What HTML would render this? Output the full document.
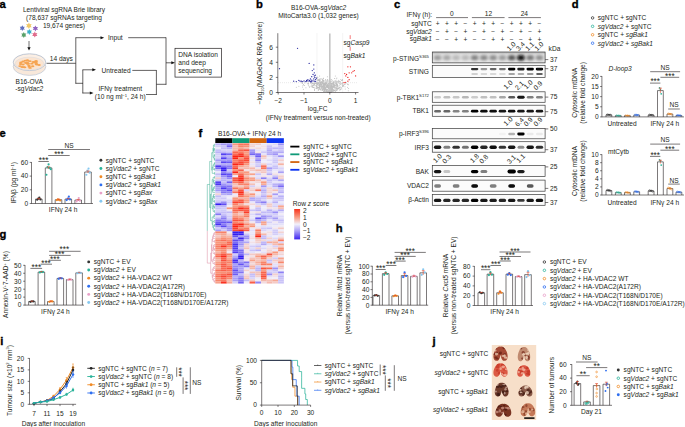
<!DOCTYPE html>
<html><head><meta charset="utf-8"><style>
html,body{margin:0;padding:0;background:#fff;width:685px;height:427px;overflow:hidden}
svg{display:block}
text{font-family:"Liberation Sans",sans-serif}
</style></head><body>
<svg width="685" height="427" viewBox="0 0 685 427" font-family="Liberation Sans, sans-serif" font-size="6.6" fill="#231f20">
<text x="-0.4" y="7.7" font-size="11.2" font-weight="bold" fill="#000" stroke="#000" stroke-width="0.35">a</text>
<text x="64" y="11.95" text-anchor="middle">Lentiviral sgRNA Brie library</text>
<text x="64" y="19.95" text-anchor="middle">(78,637 sgRNAs targeting</text>
<text x="64" y="28.25" text-anchor="middle">19,674 genes)</text>
<polygon points="22.3,25.3 23.1,26.82 24.81,26.75 23.89,28.2 24.81,29.65 23.1,29.58 22.3,31.1 21.5,29.58 19.79,29.65 20.71,28.2 19.79,26.75 21.5,26.82" fill="#6070c0"/>
<polygon points="28.9,22.5 29.78,24.18 31.67,24.1 30.66,25.7 31.67,27.3 29.78,27.22 28.9,28.9 28.02,27.22 26.13,27.3 27.14,25.7 26.13,24.1 28.02,24.18" fill="#f0c868"/>
<polygon points="35.4,25.4 36.23,26.97 38,26.9 37.05,28.4 38,29.9 36.23,29.83 35.4,31.4 34.57,29.83 32.8,29.9 33.75,28.4 32.8,26.9 34.57,26.97" fill="#9064c0"/>
<polygon points="29.3,28.9 30.12,30.47 31.9,30.4 30.95,31.9 31.9,33.4 30.12,33.33 29.3,34.9 28.48,33.33 26.7,33.4 27.65,31.9 26.7,30.4 28.48,30.47" fill="#38b0c8"/>
<polygon points="23.8,32.1 24.6,33.62 26.31,33.55 25.39,35 26.31,36.45 24.6,36.38 23.8,37.9 23,36.38 21.29,36.45 22.21,35 21.29,33.55 23,33.62" fill="#58a068"/>
<polygon points="34.8,31.6 35.62,33.17 37.4,33.1 36.45,34.6 37.4,36.1 35.62,36.03 34.8,37.6 33.97,36.03 32.2,36.1 33.15,34.6 32.2,33.1 33.97,33.17" fill="#e06c8c"/>
<line x1="29" y1="41" x2="29" y2="48" stroke="#333" stroke-width="0.7"/>
<polygon points="27.4,47.3 30.6,47.3 29,50.6" fill="#111"/>
<ellipse cx="29.5" cy="66.6" rx="16.3" ry="8.8" fill="#f8e8da" stroke="#c4ccd8" stroke-width="0.8"/>
<ellipse cx="29.5" cy="62.2" rx="16.3" ry="8.4" fill="#fcefe4" stroke="#b8c2d0" stroke-width="0.9"/>
<ellipse cx="29.5" cy="63.6" rx="14.4" ry="6.5" fill="#fbe4d0" stroke="#d4dae4" stroke-width="0.5"/>
<ellipse cx="30.09" cy="67.91" rx="1.7" ry="0.95" fill="#f5a452"/>
<ellipse cx="23.92" cy="67.15" rx="1.7" ry="0.95" fill="#f5a452"/>
<ellipse cx="27.61" cy="63.78" rx="1.7" ry="0.95" fill="#f5a452"/>
<ellipse cx="39.08" cy="64.94" rx="1.7" ry="0.95" fill="#f5a452"/>
<ellipse cx="29.2" cy="66.77" rx="1.7" ry="0.95" fill="#f5a452"/>
<ellipse cx="36.7" cy="64.52" rx="1.7" ry="0.95" fill="#f5a452"/>
<ellipse cx="33.25" cy="61.94" rx="1.7" ry="0.95" fill="#f5a452"/>
<ellipse cx="26.88" cy="63.26" rx="1.7" ry="0.95" fill="#f5a452"/>
<ellipse cx="23.02" cy="61.46" rx="1.7" ry="0.95" fill="#f5a452"/>
<ellipse cx="20.56" cy="64.04" rx="1.7" ry="0.95" fill="#f5a452"/>
<ellipse cx="28.24" cy="63.6" rx="1.7" ry="0.95" fill="#f5a452"/>
<ellipse cx="29.92" cy="61.14" rx="1.7" ry="0.95" fill="#f5a452"/>
<ellipse cx="28.91" cy="65.35" rx="1.7" ry="0.95" fill="#f5a452"/>
<ellipse cx="34.29" cy="62.29" rx="1.7" ry="0.95" fill="#f5a452"/>
<ellipse cx="27.58" cy="60.46" rx="1.7" ry="0.95" fill="#f5a452"/>
<ellipse cx="27.25" cy="60.39" rx="1.7" ry="0.95" fill="#f5a452"/>
<ellipse cx="22.08" cy="67.07" rx="1.7" ry="0.95" fill="#f5a452"/>
<ellipse cx="19.95" cy="66.08" rx="1.7" ry="0.95" fill="#f5a452"/>
<ellipse cx="31.87" cy="63.63" rx="1.7" ry="0.95" fill="#f5a452"/>
<ellipse cx="32.71" cy="66.18" rx="1.7" ry="0.95" fill="#f5a452"/>
<ellipse cx="36.27" cy="63.96" rx="1.7" ry="0.95" fill="#f5a452"/>
<ellipse cx="25.47" cy="62.84" rx="1.7" ry="0.95" fill="#f5a452"/>
<ellipse cx="22.98" cy="64.47" rx="1.7" ry="0.95" fill="#f5a452"/>
<ellipse cx="24.74" cy="67.37" rx="1.7" ry="0.95" fill="#f5a452"/>
<ellipse cx="20.88" cy="62.44" rx="1.7" ry="0.95" fill="#f5a452"/>
<ellipse cx="25.31" cy="60.65" rx="1.7" ry="0.95" fill="#f5a452"/>
<ellipse cx="35.98" cy="61.08" rx="1.7" ry="0.95" fill="#f5a452"/>
<ellipse cx="27.49" cy="63" rx="1.7" ry="0.95" fill="#f5a452"/>
<ellipse cx="36.11" cy="61.21" rx="1.7" ry="0.95" fill="#f5a452"/>
<ellipse cx="36.04" cy="62.69" rx="1.7" ry="0.95" fill="#f5a452"/>
<text x="29.2" y="83.55" text-anchor="middle">B16-OVA</text>
<text x="29.2" y="90.75" text-anchor="middle">-sg<tspan font-style="italic">Vdac2</tspan></text>
<line x1="46.5" y1="63.3" x2="75.8" y2="63.3" stroke="#231f20" stroke-width="0.7"/>
<text x="61.3" y="60.75" text-anchor="middle">14 days</text>
<line x1="75.8" y1="37.7" x2="75.8" y2="83.6" stroke="#231f20" stroke-width="0.7"/>
<line x1="75.5" y1="37.7" x2="101.5" y2="37.7" stroke="#231f20" stroke-width="0.7"/>
<polygon points="100.5,36.2 104.2,37.7 100.5,39.2" fill="#111"/>
<text x="108" y="40.05">Input</text>
<line x1="75.5" y1="83.3" x2="83" y2="83.3" stroke="#231f20" stroke-width="0.7"/>
<line x1="82.8" y1="69.8" x2="82.8" y2="93.3" stroke="#231f20" stroke-width="0.7"/>
<line x1="82.5" y1="69.8" x2="93" y2="69.8" stroke="#231f20" stroke-width="0.7"/>
<polygon points="92.3,68.3 96,69.8 92.3,71.3" fill="#111"/>
<line x1="82.5" y1="93" x2="90.5" y2="93" stroke="#231f20" stroke-width="0.7"/>
<polygon points="89.8,91.5 93.5,93 89.8,94.5" fill="#111"/>
<text x="101.6" y="72.65">Untreated</text>
<text x="120.3" y="91.15" text-anchor="middle">IFNγ treatment</text>
<text x="120.3" y="99.15" text-anchor="middle">(10 ng ml<tspan font-size="4.09" dy="-2.2">−1</tspan><tspan dy="2.2">, 24 h)</tspan></text>
<line x1="128.2" y1="37.7" x2="166" y2="37.7" stroke="#231f20" stroke-width="0.7"/>
<line x1="166" y1="37.4" x2="166" y2="84.6" stroke="#231f20" stroke-width="0.7"/>
<line x1="156.4" y1="84.3" x2="166.3" y2="84.3" stroke="#231f20" stroke-width="0.7"/>
<line x1="132.3" y1="70.4" x2="156.4" y2="70.4" stroke="#231f20" stroke-width="0.7"/>
<line x1="156.4" y1="70.1" x2="156.4" y2="94.8" stroke="#231f20" stroke-width="0.7"/>
<line x1="146" y1="94.5" x2="156.7" y2="94.5" stroke="#231f20" stroke-width="0.7"/>
<line x1="166" y1="62.8" x2="172" y2="62.8" stroke="#231f20" stroke-width="0.7"/>
<polygon points="171.3,61.3 175,62.8 171.3,64.3" fill="#111"/>
<rect x="175" y="48.3" width="46.5" height="28.8" fill="none" stroke="#231f20" stroke-width="0.7"/>
<text x="178.3" y="57.35">DNA isolation</text>
<text x="178.3" y="65.15">and deep</text>
<text x="178.3" y="72.75">sequencing</text>
<text x="256" y="7.7" font-size="11.2" font-weight="bold" fill="#000" stroke="#000" stroke-width="0.35">b</text>
<text x="318.5" y="10.15" text-anchor="middle">B16-OVA-sg<tspan font-style="italic">Vdac2</tspan></text>
<text x="318.5" y="17.85" text-anchor="middle">MitoCarta3.0 (1,032 genes)</text>
<line x1="316.9" y1="33.5" x2="316.9" y2="92.5" stroke="#c8c8c8" stroke-width="0.4" stroke-dasharray="1,1"/>
<line x1="342.7" y1="33.5" x2="342.7" y2="92.5" stroke="#c8c8c8" stroke-width="0.4" stroke-dasharray="1,1"/>
<line x1="278" y1="82.69" x2="358" y2="82.69" stroke="#c8c8c8" stroke-width="0.4" stroke-dasharray="1,1"/>
<circle cx="316.8" cy="83.05" r="0.5" fill="#bdbdbd"/>
<circle cx="320.01" cy="88.69" r="0.5" fill="#bdbdbd"/>
<circle cx="319.1" cy="82.15" r="0.5" fill="#bdbdbd"/>
<circle cx="326.35" cy="86.78" r="0.5" fill="#bdbdbd"/>
<circle cx="320.92" cy="84.41" r="0.5" fill="#bdbdbd"/>
<circle cx="314.67" cy="84.84" r="0.5" fill="#bdbdbd"/>
<circle cx="324.77" cy="84.55" r="0.5" fill="#bdbdbd"/>
<circle cx="328.1" cy="90.3" r="0.5" fill="#bdbdbd"/>
<circle cx="345.32" cy="83.93" r="0.5" fill="#bdbdbd"/>
<circle cx="329.21" cy="87.29" r="0.5" fill="#bdbdbd"/>
<circle cx="330.83" cy="86.98" r="0.5" fill="#bdbdbd"/>
<circle cx="340.05" cy="83.75" r="0.5" fill="#bdbdbd"/>
<circle cx="316.17" cy="83.54" r="0.5" fill="#bdbdbd"/>
<circle cx="313.71" cy="83.63" r="0.5" fill="#bdbdbd"/>
<circle cx="342.32" cy="83.7" r="0.5" fill="#bdbdbd"/>
<circle cx="329.3" cy="83.78" r="0.5" fill="#bdbdbd"/>
<circle cx="328.3" cy="90.09" r="0.5" fill="#bdbdbd"/>
<circle cx="336.72" cy="82.94" r="0.5" fill="#bdbdbd"/>
<circle cx="320.74" cy="82.45" r="0.5" fill="#bdbdbd"/>
<circle cx="342.56" cy="80.2" r="0.5" fill="#bdbdbd"/>
<circle cx="343.61" cy="85.64" r="0.5" fill="#bdbdbd"/>
<circle cx="323.35" cy="82.8" r="0.5" fill="#bdbdbd"/>
<circle cx="325.76" cy="84.52" r="0.5" fill="#bdbdbd"/>
<circle cx="319.96" cy="87.11" r="0.5" fill="#bdbdbd"/>
<circle cx="311.71" cy="86.8" r="0.5" fill="#bdbdbd"/>
<circle cx="316.88" cy="86.63" r="0.5" fill="#bdbdbd"/>
<circle cx="327.57" cy="85.9" r="0.5" fill="#bdbdbd"/>
<circle cx="326.81" cy="86.36" r="0.5" fill="#bdbdbd"/>
<circle cx="326.14" cy="90.73" r="0.5" fill="#bdbdbd"/>
<circle cx="319.49" cy="79.31" r="0.5" fill="#bdbdbd"/>
<circle cx="321.31" cy="87.26" r="0.5" fill="#bdbdbd"/>
<circle cx="337.87" cy="81.91" r="0.5" fill="#bdbdbd"/>
<circle cx="326.07" cy="89.57" r="0.5" fill="#bdbdbd"/>
<circle cx="328.86" cy="86.96" r="0.5" fill="#bdbdbd"/>
<circle cx="325.13" cy="85.47" r="0.5" fill="#bdbdbd"/>
<circle cx="340.3" cy="84.27" r="0.5" fill="#bdbdbd"/>
<circle cx="324.08" cy="87.54" r="0.5" fill="#bdbdbd"/>
<circle cx="322.07" cy="86.31" r="0.5" fill="#bdbdbd"/>
<circle cx="319.46" cy="86.18" r="0.5" fill="#bdbdbd"/>
<circle cx="322.33" cy="79.76" r="0.5" fill="#bdbdbd"/>
<circle cx="318.22" cy="85.26" r="0.5" fill="#bdbdbd"/>
<circle cx="331.43" cy="83.46" r="0.5" fill="#bdbdbd"/>
<circle cx="316.3" cy="83.31" r="0.5" fill="#bdbdbd"/>
<circle cx="335.36" cy="90.01" r="0.5" fill="#bdbdbd"/>
<circle cx="333.36" cy="81.32" r="0.5" fill="#bdbdbd"/>
<circle cx="343.89" cy="84.83" r="0.5" fill="#bdbdbd"/>
<circle cx="324.37" cy="89.66" r="0.5" fill="#bdbdbd"/>
<circle cx="331.79" cy="86.86" r="0.5" fill="#bdbdbd"/>
<circle cx="330.71" cy="90.32" r="0.5" fill="#bdbdbd"/>
<circle cx="314.44" cy="84.14" r="0.5" fill="#bdbdbd"/>
<circle cx="302.68" cy="82.99" r="0.5" fill="#bdbdbd"/>
<circle cx="326.12" cy="83.23" r="0.5" fill="#bdbdbd"/>
<circle cx="316.46" cy="86.48" r="0.5" fill="#bdbdbd"/>
<circle cx="330.24" cy="87.88" r="0.5" fill="#bdbdbd"/>
<circle cx="333.63" cy="83.05" r="0.5" fill="#bdbdbd"/>
<circle cx="319.32" cy="80.59" r="0.5" fill="#bdbdbd"/>
<circle cx="336.15" cy="87.69" r="0.5" fill="#bdbdbd"/>
<circle cx="324.46" cy="90.46" r="0.5" fill="#bdbdbd"/>
<circle cx="331.4" cy="79.48" r="0.5" fill="#bdbdbd"/>
<circle cx="312.31" cy="85.48" r="0.5" fill="#bdbdbd"/>
<circle cx="331.13" cy="81.02" r="0.5" fill="#bdbdbd"/>
<circle cx="329.97" cy="85.73" r="0.5" fill="#bdbdbd"/>
<circle cx="329.09" cy="83.7" r="0.5" fill="#bdbdbd"/>
<circle cx="334.19" cy="90.58" r="0.5" fill="#bdbdbd"/>
<circle cx="330.65" cy="87.46" r="0.5" fill="#bdbdbd"/>
<circle cx="323.79" cy="80.44" r="0.5" fill="#bdbdbd"/>
<circle cx="333.27" cy="90.17" r="0.5" fill="#bdbdbd"/>
<circle cx="337.53" cy="89.36" r="0.5" fill="#bdbdbd"/>
<circle cx="337.39" cy="87.05" r="0.5" fill="#bdbdbd"/>
<circle cx="317.4" cy="87.27" r="0.5" fill="#bdbdbd"/>
<circle cx="337.29" cy="85.45" r="0.5" fill="#bdbdbd"/>
<circle cx="318.09" cy="87.78" r="0.5" fill="#bdbdbd"/>
<circle cx="318.68" cy="83.8" r="0.5" fill="#bdbdbd"/>
<circle cx="333.82" cy="90.62" r="0.5" fill="#bdbdbd"/>
<circle cx="333.56" cy="87.09" r="0.5" fill="#bdbdbd"/>
<circle cx="332.28" cy="82.99" r="0.5" fill="#bdbdbd"/>
<circle cx="323.29" cy="80.97" r="0.5" fill="#bdbdbd"/>
<circle cx="333.51" cy="86.54" r="0.5" fill="#bdbdbd"/>
<circle cx="322.89" cy="84.4" r="0.5" fill="#bdbdbd"/>
<circle cx="337.13" cy="89.94" r="0.5" fill="#bdbdbd"/>
<circle cx="332.63" cy="89.81" r="0.5" fill="#bdbdbd"/>
<circle cx="318.3" cy="90.51" r="0.5" fill="#bdbdbd"/>
<circle cx="324.43" cy="83.86" r="0.5" fill="#bdbdbd"/>
<circle cx="331.92" cy="81.51" r="0.5" fill="#bdbdbd"/>
<circle cx="336.43" cy="82.81" r="0.5" fill="#bdbdbd"/>
<circle cx="326.11" cy="80.91" r="0.5" fill="#bdbdbd"/>
<circle cx="331.35" cy="87.04" r="0.5" fill="#bdbdbd"/>
<circle cx="320.46" cy="85.09" r="0.5" fill="#bdbdbd"/>
<circle cx="328.95" cy="91.51" r="0.5" fill="#bdbdbd"/>
<circle cx="327.12" cy="79.89" r="0.5" fill="#bdbdbd"/>
<circle cx="318.47" cy="79.9" r="0.5" fill="#bdbdbd"/>
<circle cx="324.38" cy="90.08" r="0.5" fill="#bdbdbd"/>
<circle cx="329.33" cy="81.79" r="0.5" fill="#bdbdbd"/>
<circle cx="328.95" cy="85.24" r="0.5" fill="#bdbdbd"/>
<circle cx="339.21" cy="87.62" r="0.5" fill="#bdbdbd"/>
<circle cx="321.26" cy="87.72" r="0.5" fill="#bdbdbd"/>
<circle cx="342.52" cy="83.07" r="0.5" fill="#bdbdbd"/>
<circle cx="326.7" cy="91.5" r="0.5" fill="#bdbdbd"/>
<circle cx="341.17" cy="87.72" r="0.5" fill="#bdbdbd"/>
<circle cx="328.05" cy="90.52" r="0.5" fill="#bdbdbd"/>
<circle cx="331.72" cy="89.67" r="0.5" fill="#bdbdbd"/>
<circle cx="336.79" cy="81.25" r="0.5" fill="#bdbdbd"/>
<circle cx="322.92" cy="89.67" r="0.5" fill="#bdbdbd"/>
<circle cx="322.77" cy="88.23" r="0.5" fill="#bdbdbd"/>
<circle cx="316.9" cy="78.47" r="0.5" fill="#bdbdbd"/>
<circle cx="328.9" cy="87.99" r="0.5" fill="#bdbdbd"/>
<circle cx="328.81" cy="84.74" r="0.5" fill="#bdbdbd"/>
<circle cx="330.97" cy="91.82" r="0.5" fill="#bdbdbd"/>
<circle cx="326.13" cy="90.9" r="0.5" fill="#bdbdbd"/>
<circle cx="313.81" cy="83.13" r="0.5" fill="#bdbdbd"/>
<circle cx="324.96" cy="86.97" r="0.5" fill="#bdbdbd"/>
<circle cx="315.89" cy="85.77" r="0.5" fill="#bdbdbd"/>
<circle cx="321.09" cy="88.12" r="0.5" fill="#bdbdbd"/>
<circle cx="326.81" cy="86.45" r="0.5" fill="#bdbdbd"/>
<circle cx="335.12" cy="80.48" r="0.5" fill="#bdbdbd"/>
<circle cx="327.19" cy="87.29" r="0.5" fill="#bdbdbd"/>
<circle cx="333.49" cy="86.21" r="0.5" fill="#bdbdbd"/>
<circle cx="325.59" cy="89.52" r="0.5" fill="#bdbdbd"/>
<circle cx="323.87" cy="86.94" r="0.5" fill="#bdbdbd"/>
<circle cx="328.02" cy="85.97" r="0.5" fill="#bdbdbd"/>
<circle cx="315.38" cy="83.27" r="0.5" fill="#bdbdbd"/>
<circle cx="319.5" cy="86.44" r="0.5" fill="#bdbdbd"/>
<circle cx="348.25" cy="84.72" r="0.5" fill="#bdbdbd"/>
<circle cx="340.8" cy="79.45" r="0.5" fill="#bdbdbd"/>
<circle cx="322.93" cy="83.36" r="0.5" fill="#bdbdbd"/>
<circle cx="317.11" cy="88.25" r="0.5" fill="#bdbdbd"/>
<circle cx="327.38" cy="76.84" r="0.5" fill="#bdbdbd"/>
<circle cx="330.14" cy="86.85" r="0.5" fill="#bdbdbd"/>
<circle cx="324.39" cy="87.87" r="0.5" fill="#bdbdbd"/>
<circle cx="338.17" cy="82.23" r="0.5" fill="#bdbdbd"/>
<circle cx="320.43" cy="82.76" r="0.5" fill="#bdbdbd"/>
<circle cx="337.81" cy="85.2" r="0.5" fill="#bdbdbd"/>
<circle cx="335.93" cy="88.09" r="0.5" fill="#bdbdbd"/>
<circle cx="336.31" cy="89.63" r="0.5" fill="#bdbdbd"/>
<circle cx="322.98" cy="85.77" r="0.5" fill="#bdbdbd"/>
<circle cx="333.74" cy="84.13" r="0.5" fill="#bdbdbd"/>
<circle cx="324.38" cy="89.38" r="0.5" fill="#bdbdbd"/>
<circle cx="337.42" cy="86.72" r="0.5" fill="#bdbdbd"/>
<circle cx="340.13" cy="81.99" r="0.5" fill="#bdbdbd"/>
<circle cx="333.49" cy="82.31" r="0.5" fill="#bdbdbd"/>
<circle cx="336.22" cy="78.87" r="0.5" fill="#bdbdbd"/>
<circle cx="320.28" cy="86.32" r="0.5" fill="#bdbdbd"/>
<circle cx="334.23" cy="84.37" r="0.5" fill="#bdbdbd"/>
<circle cx="323.27" cy="88.17" r="0.5" fill="#bdbdbd"/>
<circle cx="307.98" cy="83.39" r="0.5" fill="#bdbdbd"/>
<circle cx="339.3" cy="87.48" r="0.5" fill="#bdbdbd"/>
<circle cx="316.46" cy="84.36" r="0.5" fill="#bdbdbd"/>
<circle cx="323.43" cy="87.18" r="0.5" fill="#bdbdbd"/>
<circle cx="312.87" cy="85" r="0.5" fill="#bdbdbd"/>
<circle cx="339.69" cy="85.78" r="0.5" fill="#bdbdbd"/>
<circle cx="324.79" cy="91.11" r="0.5" fill="#bdbdbd"/>
<circle cx="333.04" cy="90.58" r="0.5" fill="#bdbdbd"/>
<circle cx="336.19" cy="90.31" r="0.5" fill="#bdbdbd"/>
<circle cx="313.97" cy="84.74" r="0.5" fill="#bdbdbd"/>
<circle cx="323.02" cy="83.54" r="0.5" fill="#bdbdbd"/>
<circle cx="323.56" cy="84.47" r="0.5" fill="#bdbdbd"/>
<circle cx="331.14" cy="86.4" r="0.5" fill="#bdbdbd"/>
<circle cx="329.98" cy="86.42" r="0.5" fill="#bdbdbd"/>
<circle cx="322.5" cy="82.51" r="0.5" fill="#bdbdbd"/>
<circle cx="316.13" cy="83.18" r="0.5" fill="#bdbdbd"/>
<circle cx="332.36" cy="91.54" r="0.5" fill="#bdbdbd"/>
<circle cx="322.54" cy="80.19" r="0.5" fill="#bdbdbd"/>
<circle cx="340.52" cy="87.12" r="0.5" fill="#bdbdbd"/>
<circle cx="317.12" cy="82.77" r="0.5" fill="#bdbdbd"/>
<circle cx="313.62" cy="84.97" r="0.5" fill="#bdbdbd"/>
<circle cx="328.62" cy="88.64" r="0.5" fill="#bdbdbd"/>
<circle cx="324.14" cy="86.26" r="0.5" fill="#bdbdbd"/>
<circle cx="320.85" cy="84.28" r="0.5" fill="#bdbdbd"/>
<circle cx="303.02" cy="85.41" r="0.5" fill="#bdbdbd"/>
<circle cx="340.63" cy="89.26" r="0.5" fill="#bdbdbd"/>
<circle cx="331.38" cy="88.87" r="0.5" fill="#bdbdbd"/>
<circle cx="341.4" cy="80.34" r="0.5" fill="#bdbdbd"/>
<circle cx="335.84" cy="87.06" r="0.5" fill="#bdbdbd"/>
<circle cx="326.42" cy="87.16" r="0.5" fill="#bdbdbd"/>
<circle cx="330.36" cy="87.74" r="0.5" fill="#bdbdbd"/>
<circle cx="305.94" cy="87.66" r="0.5" fill="#bdbdbd"/>
<circle cx="336.57" cy="84.94" r="0.5" fill="#bdbdbd"/>
<circle cx="327.54" cy="85.59" r="0.5" fill="#bdbdbd"/>
<circle cx="338.57" cy="88.43" r="0.5" fill="#bdbdbd"/>
<circle cx="325.45" cy="87.96" r="0.5" fill="#bdbdbd"/>
<circle cx="321.54" cy="89.02" r="0.5" fill="#bdbdbd"/>
<circle cx="345.23" cy="88.94" r="0.5" fill="#bdbdbd"/>
<circle cx="335.26" cy="82.68" r="0.5" fill="#bdbdbd"/>
<circle cx="330.9" cy="83.8" r="0.5" fill="#bdbdbd"/>
<circle cx="325.23" cy="84.36" r="0.5" fill="#bdbdbd"/>
<circle cx="333.34" cy="89.85" r="0.5" fill="#bdbdbd"/>
<circle cx="331.73" cy="85.43" r="0.5" fill="#bdbdbd"/>
<circle cx="319.64" cy="80.7" r="0.5" fill="#bdbdbd"/>
<circle cx="328.05" cy="85.51" r="0.5" fill="#bdbdbd"/>
<circle cx="333.73" cy="83.85" r="0.5" fill="#bdbdbd"/>
<circle cx="327.21" cy="91.21" r="0.5" fill="#bdbdbd"/>
<circle cx="336.11" cy="88.03" r="0.5" fill="#bdbdbd"/>
<circle cx="332.74" cy="85.05" r="0.5" fill="#bdbdbd"/>
<circle cx="317.87" cy="77.71" r="0.5" fill="#bdbdbd"/>
<circle cx="321.18" cy="84.38" r="0.5" fill="#bdbdbd"/>
<circle cx="345.8" cy="83.04" r="0.5" fill="#bdbdbd"/>
<circle cx="324.63" cy="83.86" r="0.5" fill="#bdbdbd"/>
<circle cx="323.41" cy="84.98" r="0.5" fill="#bdbdbd"/>
<circle cx="335.33" cy="76.01" r="0.5" fill="#bdbdbd"/>
<circle cx="323.25" cy="87.58" r="0.5" fill="#bdbdbd"/>
<circle cx="318.83" cy="83.43" r="0.5" fill="#bdbdbd"/>
<circle cx="333.16" cy="90.15" r="0.5" fill="#bdbdbd"/>
<circle cx="334.46" cy="86.78" r="0.5" fill="#bdbdbd"/>
<circle cx="338.21" cy="81.37" r="0.5" fill="#bdbdbd"/>
<circle cx="330.21" cy="90.23" r="0.5" fill="#bdbdbd"/>
<circle cx="321.58" cy="86.69" r="0.5" fill="#bdbdbd"/>
<circle cx="326.67" cy="90.05" r="0.5" fill="#bdbdbd"/>
<circle cx="331.65" cy="90.09" r="0.5" fill="#bdbdbd"/>
<circle cx="325.8" cy="80.57" r="0.5" fill="#bdbdbd"/>
<circle cx="331.83" cy="91.52" r="0.5" fill="#bdbdbd"/>
<circle cx="319.04" cy="83.31" r="0.5" fill="#bdbdbd"/>
<circle cx="329.08" cy="87.88" r="0.5" fill="#bdbdbd"/>
<circle cx="328.9" cy="86.84" r="0.5" fill="#bdbdbd"/>
<circle cx="334.48" cy="78.55" r="0.5" fill="#bdbdbd"/>
<circle cx="335.03" cy="83.05" r="0.5" fill="#bdbdbd"/>
<circle cx="320.59" cy="83.85" r="0.5" fill="#bdbdbd"/>
<circle cx="322.34" cy="87.06" r="0.5" fill="#bdbdbd"/>
<circle cx="327.5" cy="86.87" r="0.5" fill="#bdbdbd"/>
<circle cx="325.83" cy="84.76" r="0.5" fill="#bdbdbd"/>
<circle cx="320.83" cy="84.63" r="0.5" fill="#bdbdbd"/>
<circle cx="348.65" cy="88.51" r="0.5" fill="#bdbdbd"/>
<circle cx="321.81" cy="78.82" r="0.5" fill="#bdbdbd"/>
<circle cx="331.4" cy="89.73" r="0.5" fill="#bdbdbd"/>
<circle cx="347.55" cy="87.14" r="0.5" fill="#bdbdbd"/>
<circle cx="335.69" cy="82.93" r="0.5" fill="#bdbdbd"/>
<circle cx="317.39" cy="82.73" r="0.5" fill="#bdbdbd"/>
<circle cx="323.7" cy="88.32" r="0.5" fill="#bdbdbd"/>
<circle cx="322.34" cy="79.71" r="0.5" fill="#bdbdbd"/>
<circle cx="318.49" cy="80.62" r="0.5" fill="#bdbdbd"/>
<circle cx="328.17" cy="83.89" r="0.5" fill="#bdbdbd"/>
<circle cx="337.13" cy="81.79" r="0.5" fill="#bdbdbd"/>
<circle cx="326.24" cy="82.24" r="0.5" fill="#bdbdbd"/>
<circle cx="330.46" cy="86.63" r="0.5" fill="#bdbdbd"/>
<circle cx="323.79" cy="85.63" r="0.5" fill="#bdbdbd"/>
<circle cx="348.25" cy="90.82" r="0.5" fill="#bdbdbd"/>
<circle cx="321.86" cy="84.95" r="0.5" fill="#bdbdbd"/>
<circle cx="319.29" cy="80.85" r="0.5" fill="#bdbdbd"/>
<circle cx="310.78" cy="82.86" r="0.5" fill="#bdbdbd"/>
<circle cx="332.24" cy="87.56" r="0.5" fill="#bdbdbd"/>
<circle cx="322.37" cy="86.33" r="0.5" fill="#bdbdbd"/>
<circle cx="330.65" cy="91.93" r="0.5" fill="#bdbdbd"/>
<circle cx="329.24" cy="82.77" r="0.5" fill="#bdbdbd"/>
<circle cx="316.15" cy="85.31" r="0.5" fill="#bdbdbd"/>
<circle cx="326.8" cy="90.2" r="0.5" fill="#bdbdbd"/>
<circle cx="327.44" cy="85.93" r="0.5" fill="#bdbdbd"/>
<circle cx="324.07" cy="91.31" r="0.5" fill="#bdbdbd"/>
<circle cx="319.49" cy="84.55" r="0.5" fill="#bdbdbd"/>
<circle cx="319.7" cy="87.4" r="0.5" fill="#bdbdbd"/>
<circle cx="332.13" cy="86.58" r="0.5" fill="#bdbdbd"/>
<circle cx="332.24" cy="86.44" r="0.5" fill="#bdbdbd"/>
<circle cx="324.28" cy="84.92" r="0.5" fill="#bdbdbd"/>
<circle cx="302.37" cy="83.32" r="0.5" fill="#bdbdbd"/>
<circle cx="324.81" cy="84.26" r="0.5" fill="#bdbdbd"/>
<circle cx="333.83" cy="84.78" r="0.5" fill="#bdbdbd"/>
<circle cx="328.26" cy="87.23" r="0.5" fill="#bdbdbd"/>
<circle cx="321.1" cy="83.66" r="0.5" fill="#bdbdbd"/>
<circle cx="336.68" cy="90.24" r="0.5" fill="#bdbdbd"/>
<circle cx="319.97" cy="80.24" r="0.5" fill="#bdbdbd"/>
<circle cx="334.39" cy="88.07" r="0.5" fill="#bdbdbd"/>
<circle cx="334.18" cy="85.56" r="0.5" fill="#bdbdbd"/>
<circle cx="332.89" cy="91.21" r="0.5" fill="#bdbdbd"/>
<circle cx="336.01" cy="85.75" r="0.5" fill="#bdbdbd"/>
<circle cx="335.25" cy="88.63" r="0.5" fill="#bdbdbd"/>
<circle cx="319.87" cy="80.03" r="0.5" fill="#bdbdbd"/>
<circle cx="325.76" cy="89.38" r="0.5" fill="#bdbdbd"/>
<circle cx="334.63" cy="86.95" r="0.5" fill="#bdbdbd"/>
<circle cx="328.66" cy="87.38" r="0.5" fill="#bdbdbd"/>
<circle cx="342.48" cy="79.53" r="0.5" fill="#bdbdbd"/>
<circle cx="324.38" cy="86.58" r="0.5" fill="#bdbdbd"/>
<circle cx="331.93" cy="86.57" r="0.5" fill="#bdbdbd"/>
<circle cx="323.81" cy="83.28" r="0.5" fill="#bdbdbd"/>
<circle cx="325.44" cy="88.48" r="0.5" fill="#bdbdbd"/>
<circle cx="330.69" cy="85.1" r="0.5" fill="#bdbdbd"/>
<circle cx="320.25" cy="84.02" r="0.5" fill="#bdbdbd"/>
<circle cx="325.17" cy="83.86" r="0.5" fill="#bdbdbd"/>
<circle cx="339.09" cy="83.3" r="0.5" fill="#bdbdbd"/>
<circle cx="334.3" cy="85.94" r="0.5" fill="#bdbdbd"/>
<circle cx="329.96" cy="82.07" r="0.5" fill="#bdbdbd"/>
<circle cx="331.44" cy="88.9" r="0.5" fill="#bdbdbd"/>
<circle cx="325.86" cy="88.55" r="0.5" fill="#bdbdbd"/>
<circle cx="332.3" cy="84.78" r="0.5" fill="#bdbdbd"/>
<circle cx="316.4" cy="88.16" r="0.5" fill="#bdbdbd"/>
<circle cx="330.96" cy="91.51" r="0.5" fill="#bdbdbd"/>
<circle cx="320.65" cy="82.16" r="0.5" fill="#bdbdbd"/>
<circle cx="317.56" cy="83.72" r="0.5" fill="#bdbdbd"/>
<circle cx="319" cy="87.59" r="0.5" fill="#bdbdbd"/>
<circle cx="335" cy="85.42" r="0.5" fill="#bdbdbd"/>
<circle cx="337.96" cy="88.61" r="0.5" fill="#bdbdbd"/>
<circle cx="329.48" cy="92.02" r="0.5" fill="#bdbdbd"/>
<circle cx="317.85" cy="87.31" r="0.5" fill="#bdbdbd"/>
<circle cx="321.19" cy="82.2" r="0.5" fill="#bdbdbd"/>
<circle cx="328.31" cy="91.96" r="0.5" fill="#bdbdbd"/>
<circle cx="323.13" cy="81.19" r="0.5" fill="#bdbdbd"/>
<circle cx="337.89" cy="86.04" r="0.5" fill="#bdbdbd"/>
<circle cx="314.89" cy="82.88" r="0.5" fill="#bdbdbd"/>
<circle cx="312.32" cy="86.53" r="0.5" fill="#bdbdbd"/>
<circle cx="317.09" cy="77.46" r="0.5" fill="#bdbdbd"/>
<circle cx="322.86" cy="89.67" r="0.5" fill="#bdbdbd"/>
<circle cx="333.61" cy="82.25" r="0.5" fill="#bdbdbd"/>
<circle cx="322.45" cy="83.37" r="0.5" fill="#bdbdbd"/>
<circle cx="327.74" cy="84.4" r="0.5" fill="#bdbdbd"/>
<circle cx="320.25" cy="82.86" r="0.5" fill="#bdbdbd"/>
<circle cx="336.14" cy="80.91" r="0.5" fill="#bdbdbd"/>
<circle cx="326.97" cy="82.62" r="0.5" fill="#bdbdbd"/>
<circle cx="325.84" cy="89.06" r="0.5" fill="#bdbdbd"/>
<circle cx="320" cy="78.83" r="0.5" fill="#bdbdbd"/>
<circle cx="319.11" cy="85.71" r="0.5" fill="#bdbdbd"/>
<circle cx="302.55" cy="87.03" r="0.5" fill="#bdbdbd"/>
<circle cx="336.12" cy="84.37" r="0.5" fill="#bdbdbd"/>
<circle cx="331.7" cy="87.16" r="0.5" fill="#bdbdbd"/>
<circle cx="321.42" cy="86.33" r="0.5" fill="#bdbdbd"/>
<circle cx="326.3" cy="83.42" r="0.5" fill="#bdbdbd"/>
<circle cx="329.06" cy="84.95" r="0.5" fill="#bdbdbd"/>
<circle cx="332.44" cy="90.04" r="0.5" fill="#bdbdbd"/>
<circle cx="328.1" cy="85.41" r="0.5" fill="#bdbdbd"/>
<circle cx="321.32" cy="84.64" r="0.5" fill="#bdbdbd"/>
<circle cx="303.37" cy="89.21" r="0.5" fill="#bdbdbd"/>
<circle cx="341.91" cy="80.51" r="0.5" fill="#bdbdbd"/>
<circle cx="322.92" cy="86.64" r="0.5" fill="#bdbdbd"/>
<circle cx="322.88" cy="86.91" r="0.5" fill="#bdbdbd"/>
<circle cx="328.59" cy="83.17" r="0.5" fill="#bdbdbd"/>
<circle cx="330.17" cy="86.76" r="0.5" fill="#bdbdbd"/>
<circle cx="331.98" cy="85.3" r="0.5" fill="#bdbdbd"/>
<circle cx="332.28" cy="80.19" r="0.5" fill="#bdbdbd"/>
<circle cx="309.85" cy="86.4" r="0.5" fill="#bdbdbd"/>
<circle cx="323.33" cy="78.28" r="0.5" fill="#bdbdbd"/>
<circle cx="320.84" cy="83.4" r="0.5" fill="#bdbdbd"/>
<circle cx="323.62" cy="85.2" r="0.5" fill="#bdbdbd"/>
<circle cx="318.21" cy="80.04" r="0.5" fill="#bdbdbd"/>
<circle cx="333.06" cy="86.86" r="0.5" fill="#bdbdbd"/>
<circle cx="331.13" cy="87.09" r="0.5" fill="#bdbdbd"/>
<circle cx="325.43" cy="89.4" r="0.5" fill="#bdbdbd"/>
<circle cx="321.81" cy="86.84" r="0.5" fill="#bdbdbd"/>
<circle cx="318.65" cy="88.97" r="0.5" fill="#bdbdbd"/>
<circle cx="323.03" cy="83.87" r="0.5" fill="#bdbdbd"/>
<circle cx="333.6" cy="85" r="0.5" fill="#bdbdbd"/>
<circle cx="326.76" cy="91.12" r="0.5" fill="#bdbdbd"/>
<circle cx="330.94" cy="85.81" r="0.5" fill="#bdbdbd"/>
<circle cx="337.26" cy="85.7" r="0.5" fill="#bdbdbd"/>
<circle cx="338.32" cy="80.24" r="0.5" fill="#bdbdbd"/>
<circle cx="326.51" cy="91.27" r="0.5" fill="#bdbdbd"/>
<circle cx="334.48" cy="90.05" r="0.5" fill="#bdbdbd"/>
<circle cx="321.72" cy="88.62" r="0.5" fill="#bdbdbd"/>
<circle cx="313.96" cy="87.53" r="0.5" fill="#bdbdbd"/>
<circle cx="320.31" cy="82.43" r="0.5" fill="#bdbdbd"/>
<circle cx="316.11" cy="88.24" r="0.5" fill="#bdbdbd"/>
<circle cx="331.29" cy="90.78" r="0.5" fill="#bdbdbd"/>
<circle cx="322.7" cy="89.62" r="0.5" fill="#bdbdbd"/>
<circle cx="330.97" cy="84.53" r="0.5" fill="#bdbdbd"/>
<circle cx="335.03" cy="87.23" r="0.5" fill="#bdbdbd"/>
<circle cx="340.06" cy="81.86" r="0.5" fill="#bdbdbd"/>
<circle cx="323.94" cy="84.89" r="0.5" fill="#bdbdbd"/>
<circle cx="334.03" cy="84.86" r="0.5" fill="#bdbdbd"/>
<circle cx="318.45" cy="83.07" r="0.5" fill="#bdbdbd"/>
<circle cx="301.56" cy="82.72" r="0.5" fill="#bdbdbd"/>
<circle cx="328.01" cy="80.54" r="0.5" fill="#bdbdbd"/>
<circle cx="309.6" cy="87.21" r="0.5" fill="#bdbdbd"/>
<circle cx="324.76" cy="89.29" r="0.5" fill="#bdbdbd"/>
<circle cx="325.56" cy="82.64" r="0.5" fill="#bdbdbd"/>
<circle cx="326.78" cy="86.64" r="0.5" fill="#bdbdbd"/>
<circle cx="321.63" cy="82.75" r="0.5" fill="#bdbdbd"/>
<circle cx="327.97" cy="87.48" r="0.5" fill="#bdbdbd"/>
<circle cx="333.16" cy="82.7" r="0.5" fill="#bdbdbd"/>
<circle cx="330.13" cy="85.9" r="0.5" fill="#bdbdbd"/>
<circle cx="323.7" cy="83.62" r="0.5" fill="#bdbdbd"/>
<circle cx="326.53" cy="89.75" r="0.5" fill="#bdbdbd"/>
<circle cx="334.51" cy="81.77" r="0.5" fill="#bdbdbd"/>
<circle cx="319.31" cy="81.1" r="0.5" fill="#bdbdbd"/>
<circle cx="319.66" cy="80.2" r="0.5" fill="#bdbdbd"/>
<circle cx="323.46" cy="78.21" r="0.5" fill="#bdbdbd"/>
<circle cx="323.05" cy="89.25" r="0.5" fill="#bdbdbd"/>
<circle cx="326.73" cy="91.57" r="0.5" fill="#bdbdbd"/>
<circle cx="321.17" cy="82.48" r="0.5" fill="#bdbdbd"/>
<circle cx="323.72" cy="81.29" r="0.5" fill="#bdbdbd"/>
<circle cx="323.37" cy="85.32" r="0.5" fill="#bdbdbd"/>
<circle cx="320.38" cy="82.37" r="0.5" fill="#bdbdbd"/>
<circle cx="312.9" cy="82.9" r="0.5" fill="#bdbdbd"/>
<circle cx="325" cy="87.21" r="0.5" fill="#bdbdbd"/>
<circle cx="326.65" cy="89.13" r="0.5" fill="#bdbdbd"/>
<circle cx="334.49" cy="90.24" r="0.5" fill="#bdbdbd"/>
<circle cx="313.31" cy="87.39" r="0.5" fill="#bdbdbd"/>
<circle cx="337.01" cy="84.36" r="0.5" fill="#bdbdbd"/>
<circle cx="327.17" cy="87.47" r="0.5" fill="#bdbdbd"/>
<circle cx="322.26" cy="87.02" r="0.5" fill="#bdbdbd"/>
<circle cx="330.67" cy="85.19" r="0.5" fill="#bdbdbd"/>
<circle cx="329.8" cy="87.34" r="0.5" fill="#bdbdbd"/>
<circle cx="320.72" cy="84.91" r="0.5" fill="#bdbdbd"/>
<circle cx="338.53" cy="88.87" r="0.5" fill="#bdbdbd"/>
<circle cx="335.05" cy="85.45" r="0.5" fill="#bdbdbd"/>
<circle cx="338.72" cy="81.25" r="0.5" fill="#bdbdbd"/>
<circle cx="331.38" cy="83.5" r="0.5" fill="#bdbdbd"/>
<circle cx="332.6" cy="86.93" r="0.5" fill="#bdbdbd"/>
<circle cx="336.02" cy="89.99" r="0.5" fill="#bdbdbd"/>
<circle cx="330.47" cy="81.89" r="0.5" fill="#bdbdbd"/>
<circle cx="337.33" cy="88.58" r="0.5" fill="#bdbdbd"/>
<circle cx="325.86" cy="83.55" r="0.5" fill="#bdbdbd"/>
<circle cx="328.65" cy="91.77" r="0.5" fill="#bdbdbd"/>
<circle cx="332.67" cy="83.86" r="0.5" fill="#bdbdbd"/>
<circle cx="331.82" cy="86.2" r="0.5" fill="#bdbdbd"/>
<circle cx="320.39" cy="81.98" r="0.5" fill="#bdbdbd"/>
<circle cx="322.53" cy="81.06" r="0.5" fill="#bdbdbd"/>
<circle cx="337.63" cy="85.72" r="0.5" fill="#bdbdbd"/>
<circle cx="321.56" cy="84.22" r="0.5" fill="#bdbdbd"/>
<circle cx="321.14" cy="82.96" r="0.5" fill="#bdbdbd"/>
<circle cx="326.15" cy="85.7" r="0.5" fill="#bdbdbd"/>
<circle cx="324.61" cy="88.68" r="0.5" fill="#bdbdbd"/>
<circle cx="330.78" cy="88.62" r="0.5" fill="#bdbdbd"/>
<circle cx="336.22" cy="86.38" r="0.5" fill="#bdbdbd"/>
<circle cx="327.31" cy="81.68" r="0.5" fill="#bdbdbd"/>
<circle cx="327.73" cy="89.53" r="0.5" fill="#bdbdbd"/>
<circle cx="322.5" cy="88.01" r="0.5" fill="#bdbdbd"/>
<circle cx="323.27" cy="86.59" r="0.5" fill="#bdbdbd"/>
<circle cx="324.41" cy="86.86" r="0.5" fill="#bdbdbd"/>
<circle cx="342.27" cy="85.79" r="0.5" fill="#bdbdbd"/>
<circle cx="342.57" cy="85.63" r="0.5" fill="#bdbdbd"/>
<circle cx="320.75" cy="78.91" r="0.5" fill="#bdbdbd"/>
<circle cx="327.65" cy="89.44" r="0.5" fill="#bdbdbd"/>
<circle cx="319.6" cy="76.07" r="0.5" fill="#bdbdbd"/>
<circle cx="330" cy="81.63" r="0.5" fill="#bdbdbd"/>
<circle cx="327.71" cy="79.5" r="0.5" fill="#bdbdbd"/>
<circle cx="325.28" cy="91.26" r="0.5" fill="#bdbdbd"/>
<circle cx="332.41" cy="88.34" r="0.5" fill="#bdbdbd"/>
<circle cx="328.87" cy="85.37" r="0.5" fill="#bdbdbd"/>
<circle cx="329.05" cy="88.73" r="0.5" fill="#bdbdbd"/>
<circle cx="325.98" cy="81.58" r="0.5" fill="#bdbdbd"/>
<circle cx="324.1" cy="88.82" r="0.5" fill="#bdbdbd"/>
<circle cx="329.98" cy="89.94" r="0.5" fill="#bdbdbd"/>
<circle cx="319.68" cy="81.95" r="0.5" fill="#bdbdbd"/>
<circle cx="332.51" cy="88.69" r="0.5" fill="#bdbdbd"/>
<circle cx="318.71" cy="82.31" r="0.5" fill="#bdbdbd"/>
<circle cx="318.8" cy="87.26" r="0.5" fill="#bdbdbd"/>
<circle cx="325.21" cy="88.11" r="0.5" fill="#bdbdbd"/>
<circle cx="319.83" cy="86.43" r="0.5" fill="#bdbdbd"/>
<circle cx="319.88" cy="89.6" r="0.5" fill="#bdbdbd"/>
<circle cx="329.92" cy="84.85" r="0.5" fill="#bdbdbd"/>
<circle cx="315.98" cy="87.9" r="0.5" fill="#bdbdbd"/>
<circle cx="324.79" cy="83.89" r="0.5" fill="#bdbdbd"/>
<circle cx="328.54" cy="88.49" r="0.5" fill="#bdbdbd"/>
<circle cx="330.52" cy="83.15" r="0.5" fill="#bdbdbd"/>
<circle cx="328.27" cy="91.1" r="0.5" fill="#bdbdbd"/>
<circle cx="324.2" cy="88.48" r="0.5" fill="#bdbdbd"/>
<circle cx="322.95" cy="79.69" r="0.5" fill="#bdbdbd"/>
<circle cx="327.23" cy="86.15" r="0.5" fill="#bdbdbd"/>
<circle cx="329.31" cy="89.84" r="0.5" fill="#bdbdbd"/>
<circle cx="327.86" cy="91.9" r="0.5" fill="#bdbdbd"/>
<circle cx="326.22" cy="83.47" r="0.5" fill="#bdbdbd"/>
<circle cx="317.98" cy="87.58" r="0.5" fill="#bdbdbd"/>
<circle cx="324.53" cy="85.24" r="0.5" fill="#bdbdbd"/>
<circle cx="330.06" cy="86.58" r="0.5" fill="#bdbdbd"/>
<circle cx="321.18" cy="86.24" r="0.5" fill="#bdbdbd"/>
<circle cx="336.58" cy="88.46" r="0.5" fill="#bdbdbd"/>
<circle cx="330.44" cy="88.06" r="0.5" fill="#bdbdbd"/>
<circle cx="334.53" cy="87.04" r="0.5" fill="#bdbdbd"/>
<circle cx="317" cy="88.3" r="0.5" fill="#bdbdbd"/>
<circle cx="316.76" cy="85.2" r="0.5" fill="#bdbdbd"/>
<circle cx="317.13" cy="83.24" r="0.5" fill="#bdbdbd"/>
<circle cx="336.77" cy="84.07" r="0.5" fill="#bdbdbd"/>
<circle cx="339.81" cy="81.21" r="0.5" fill="#bdbdbd"/>
<circle cx="331.89" cy="88.57" r="0.5" fill="#bdbdbd"/>
<circle cx="325.49" cy="87.87" r="0.5" fill="#bdbdbd"/>
<circle cx="318.31" cy="89.24" r="0.5" fill="#bdbdbd"/>
<circle cx="317.22" cy="77.02" r="0.5" fill="#bdbdbd"/>
<circle cx="342.18" cy="82.22" r="0.5" fill="#bdbdbd"/>
<circle cx="316.09" cy="83.08" r="0.5" fill="#bdbdbd"/>
<circle cx="330.41" cy="86.96" r="0.5" fill="#bdbdbd"/>
<circle cx="331.58" cy="89.9" r="0.5" fill="#bdbdbd"/>
<circle cx="341.76" cy="83.51" r="0.5" fill="#bdbdbd"/>
<circle cx="319.63" cy="85.5" r="0.5" fill="#bdbdbd"/>
<circle cx="332.49" cy="87.69" r="0.5" fill="#bdbdbd"/>
<circle cx="332.67" cy="88.74" r="0.5" fill="#bdbdbd"/>
<circle cx="321.87" cy="82.97" r="0.5" fill="#bdbdbd"/>
<circle cx="325.34" cy="91.02" r="0.5" fill="#bdbdbd"/>
<circle cx="339.95" cy="83.11" r="0.5" fill="#bdbdbd"/>
<circle cx="330.88" cy="91.76" r="0.5" fill="#bdbdbd"/>
<circle cx="322.13" cy="82.85" r="0.5" fill="#bdbdbd"/>
<circle cx="324.01" cy="90.07" r="0.5" fill="#bdbdbd"/>
<circle cx="327.27" cy="84.86" r="0.5" fill="#bdbdbd"/>
<circle cx="331.75" cy="83.64" r="0.5" fill="#bdbdbd"/>
<circle cx="314.58" cy="90.2" r="0.5" fill="#bdbdbd"/>
<circle cx="335.66" cy="81.53" r="0.5" fill="#bdbdbd"/>
<circle cx="336.11" cy="87.75" r="0.5" fill="#bdbdbd"/>
<circle cx="347.93" cy="84.59" r="0.5" fill="#bdbdbd"/>
<circle cx="334.44" cy="85.37" r="0.5" fill="#bdbdbd"/>
<circle cx="331.2" cy="91.78" r="0.5" fill="#bdbdbd"/>
<circle cx="321.26" cy="84.38" r="0.5" fill="#bdbdbd"/>
<circle cx="330.18" cy="86.61" r="0.5" fill="#bdbdbd"/>
<circle cx="333.29" cy="91.18" r="0.5" fill="#bdbdbd"/>
<circle cx="319.13" cy="86.88" r="0.5" fill="#bdbdbd"/>
<circle cx="320.09" cy="88.91" r="0.5" fill="#bdbdbd"/>
<circle cx="330.1" cy="81.15" r="0.5" fill="#bdbdbd"/>
<circle cx="322.37" cy="86.43" r="0.5" fill="#bdbdbd"/>
<circle cx="329.56" cy="89.77" r="0.5" fill="#bdbdbd"/>
<circle cx="334.27" cy="90.42" r="0.5" fill="#bdbdbd"/>
<circle cx="341.07" cy="88.89" r="0.5" fill="#bdbdbd"/>
<circle cx="324.86" cy="84.61" r="0.5" fill="#bdbdbd"/>
<circle cx="335.88" cy="83.76" r="0.5" fill="#bdbdbd"/>
<circle cx="339.22" cy="81.2" r="0.5" fill="#bdbdbd"/>
<circle cx="316.66" cy="86.76" r="0.5" fill="#bdbdbd"/>
<circle cx="307.96" cy="82.9" r="0.5" fill="#bdbdbd"/>
<circle cx="337.19" cy="85.25" r="0.5" fill="#bdbdbd"/>
<circle cx="311.24" cy="85.84" r="0.5" fill="#bdbdbd"/>
<circle cx="327.37" cy="87.69" r="0.5" fill="#bdbdbd"/>
<circle cx="336.26" cy="84.4" r="0.5" fill="#bdbdbd"/>
<circle cx="321.44" cy="81.59" r="0.5" fill="#bdbdbd"/>
<circle cx="323.93" cy="83.99" r="0.5" fill="#bdbdbd"/>
<circle cx="325.55" cy="79.48" r="0.5" fill="#bdbdbd"/>
<circle cx="346.05" cy="82.73" r="0.5" fill="#bdbdbd"/>
<circle cx="323.52" cy="91.37" r="0.5" fill="#bdbdbd"/>
<circle cx="330.08" cy="89.76" r="0.5" fill="#bdbdbd"/>
<circle cx="337.31" cy="84.1" r="0.5" fill="#bdbdbd"/>
<circle cx="312.83" cy="87.16" r="0.5" fill="#bdbdbd"/>
<circle cx="327.56" cy="80" r="0.5" fill="#bdbdbd"/>
<circle cx="314.06" cy="85.76" r="0.5" fill="#bdbdbd"/>
<circle cx="324.06" cy="87.99" r="0.5" fill="#bdbdbd"/>
<circle cx="337.04" cy="88.86" r="0.5" fill="#bdbdbd"/>
<circle cx="308.71" cy="85.76" r="0.5" fill="#bdbdbd"/>
<circle cx="327.97" cy="83.75" r="0.5" fill="#bdbdbd"/>
<circle cx="340.08" cy="83.92" r="0.5" fill="#bdbdbd"/>
<circle cx="314.27" cy="83.09" r="0.5" fill="#bdbdbd"/>
<circle cx="332.65" cy="83.28" r="0.5" fill="#bdbdbd"/>
<circle cx="324.51" cy="87.87" r="0.5" fill="#bdbdbd"/>
<circle cx="347.53" cy="83.98" r="0.5" fill="#bdbdbd"/>
<circle cx="319.64" cy="84.45" r="0.5" fill="#bdbdbd"/>
<circle cx="327.39" cy="91.77" r="0.5" fill="#bdbdbd"/>
<circle cx="313.23" cy="85.57" r="0.5" fill="#bdbdbd"/>
<circle cx="329.74" cy="86.73" r="0.5" fill="#bdbdbd"/>
<circle cx="338.76" cy="86.94" r="0.5" fill="#bdbdbd"/>
<circle cx="328.1" cy="83.21" r="0.5" fill="#bdbdbd"/>
<circle cx="314.52" cy="89.88" r="0.5" fill="#bdbdbd"/>
<circle cx="298.88" cy="86.34" r="0.5" fill="#bdbdbd"/>
<circle cx="316.81" cy="85.74" r="0.5" fill="#bdbdbd"/>
<circle cx="325.07" cy="88.31" r="0.5" fill="#bdbdbd"/>
<circle cx="340.4" cy="89.68" r="0.5" fill="#bdbdbd"/>
<circle cx="329.66" cy="80.37" r="0.5" fill="#bdbdbd"/>
<circle cx="318.59" cy="79.64" r="0.5" fill="#bdbdbd"/>
<circle cx="333.45" cy="83.47" r="0.5" fill="#bdbdbd"/>
<circle cx="317.11" cy="80.91" r="0.5" fill="#bdbdbd"/>
<circle cx="326.03" cy="83.35" r="0.5" fill="#bdbdbd"/>
<circle cx="310.66" cy="82.97" r="0.5" fill="#bdbdbd"/>
<circle cx="343.17" cy="85.58" r="0.5" fill="#bdbdbd"/>
<circle cx="332.89" cy="88.97" r="0.5" fill="#bdbdbd"/>
<circle cx="331.8" cy="85.41" r="0.5" fill="#bdbdbd"/>
<circle cx="314.31" cy="88.03" r="0.5" fill="#bdbdbd"/>
<circle cx="330.83" cy="89.33" r="0.5" fill="#bdbdbd"/>
<circle cx="331.06" cy="91.85" r="0.5" fill="#bdbdbd"/>
<circle cx="330.12" cy="79.65" r="0.5" fill="#bdbdbd"/>
<circle cx="313.29" cy="87.18" r="0.5" fill="#bdbdbd"/>
<circle cx="323.36" cy="86.48" r="0.5" fill="#bdbdbd"/>
<circle cx="322.21" cy="81.79" r="0.5" fill="#bdbdbd"/>
<circle cx="322.67" cy="85.88" r="0.5" fill="#bdbdbd"/>
<circle cx="344.98" cy="86.77" r="0.5" fill="#bdbdbd"/>
<circle cx="319.35" cy="88.33" r="0.5" fill="#bdbdbd"/>
<circle cx="320" cy="86.49" r="0.5" fill="#bdbdbd"/>
<circle cx="324.14" cy="91.52" r="0.5" fill="#bdbdbd"/>
<circle cx="320.32" cy="85.97" r="0.5" fill="#bdbdbd"/>
<circle cx="339.45" cy="88.77" r="0.5" fill="#bdbdbd"/>
<circle cx="303.45" cy="84.44" r="0.5" fill="#bdbdbd"/>
<circle cx="323.47" cy="80.55" r="0.5" fill="#bdbdbd"/>
<circle cx="319.78" cy="85.47" r="0.5" fill="#bdbdbd"/>
<circle cx="308.11" cy="83.72" r="0.5" fill="#bdbdbd"/>
<circle cx="333.63" cy="84.75" r="0.5" fill="#bdbdbd"/>
<circle cx="331.16" cy="89.89" r="0.5" fill="#bdbdbd"/>
<circle cx="325.39" cy="86.11" r="0.5" fill="#bdbdbd"/>
<circle cx="331.59" cy="84.16" r="0.5" fill="#bdbdbd"/>
<circle cx="328.04" cy="81.47" r="0.5" fill="#bdbdbd"/>
<circle cx="334.98" cy="91.77" r="0.5" fill="#bdbdbd"/>
<circle cx="328.12" cy="85.21" r="0.5" fill="#bdbdbd"/>
<circle cx="322.69" cy="89.88" r="0.5" fill="#bdbdbd"/>
<circle cx="342.15" cy="84.4" r="0.5" fill="#bdbdbd"/>
<circle cx="335.69" cy="91.32" r="0.5" fill="#bdbdbd"/>
<circle cx="323.9" cy="88.51" r="0.5" fill="#bdbdbd"/>
<circle cx="330.55" cy="88" r="0.5" fill="#bdbdbd"/>
<circle cx="322.54" cy="83.08" r="0.5" fill="#bdbdbd"/>
<circle cx="344.45" cy="84.27" r="0.5" fill="#bdbdbd"/>
<circle cx="319.37" cy="84.68" r="0.5" fill="#bdbdbd"/>
<circle cx="329.4" cy="86.38" r="0.5" fill="#bdbdbd"/>
<circle cx="318.4" cy="87.46" r="0.5" fill="#bdbdbd"/>
<circle cx="320.68" cy="89.73" r="0.5" fill="#bdbdbd"/>
<circle cx="324.57" cy="82.02" r="0.5" fill="#bdbdbd"/>
<circle cx="327.27" cy="84.23" r="0.5" fill="#bdbdbd"/>
<circle cx="323" cy="82.32" r="0.5" fill="#bdbdbd"/>
<circle cx="332.66" cy="89.88" r="0.5" fill="#bdbdbd"/>
<circle cx="338.04" cy="88.53" r="0.5" fill="#bdbdbd"/>
<circle cx="323.67" cy="89.76" r="0.5" fill="#bdbdbd"/>
<circle cx="317.65" cy="84.33" r="0.5" fill="#bdbdbd"/>
<circle cx="331.54" cy="92.01" r="0.5" fill="#bdbdbd"/>
<circle cx="326.54" cy="85.49" r="0.5" fill="#bdbdbd"/>
<circle cx="325.99" cy="83.72" r="0.5" fill="#bdbdbd"/>
<circle cx="321.93" cy="90.26" r="0.5" fill="#bdbdbd"/>
<circle cx="318.59" cy="80.06" r="0.5" fill="#bdbdbd"/>
<circle cx="308.59" cy="83.37" r="0.5" fill="#bdbdbd"/>
<circle cx="312.4" cy="86.98" r="0.5" fill="#bdbdbd"/>
<circle cx="331.32" cy="90.97" r="0.5" fill="#bdbdbd"/>
<circle cx="330.71" cy="87.53" r="0.5" fill="#bdbdbd"/>
<circle cx="326.03" cy="85.69" r="0.5" fill="#bdbdbd"/>
<circle cx="330.45" cy="82.96" r="0.5" fill="#bdbdbd"/>
<circle cx="324.37" cy="86" r="0.5" fill="#bdbdbd"/>
<circle cx="321.62" cy="85.47" r="0.5" fill="#bdbdbd"/>
<circle cx="329.78" cy="89.12" r="0.5" fill="#bdbdbd"/>
<circle cx="329.56" cy="87.57" r="0.5" fill="#bdbdbd"/>
<circle cx="330.12" cy="89.49" r="0.5" fill="#bdbdbd"/>
<circle cx="304.86" cy="83.04" r="0.5" fill="#bdbdbd"/>
<circle cx="312.15" cy="83.41" r="0.5" fill="#bdbdbd"/>
<circle cx="332.99" cy="89.18" r="0.5" fill="#bdbdbd"/>
<circle cx="304.58" cy="85.38" r="0.5" fill="#bdbdbd"/>
<circle cx="329.15" cy="86.85" r="0.5" fill="#bdbdbd"/>
<circle cx="324.9" cy="83.67" r="0.5" fill="#bdbdbd"/>
<circle cx="331.47" cy="83.04" r="0.5" fill="#bdbdbd"/>
<circle cx="317.36" cy="82.93" r="0.5" fill="#bdbdbd"/>
<circle cx="325.61" cy="82.18" r="0.5" fill="#bdbdbd"/>
<circle cx="316.93" cy="87.04" r="0.5" fill="#bdbdbd"/>
<circle cx="327.68" cy="86.58" r="0.5" fill="#bdbdbd"/>
<circle cx="329.23" cy="88.23" r="0.5" fill="#bdbdbd"/>
<circle cx="329.68" cy="92.11" r="0.5" fill="#bdbdbd"/>
<circle cx="319.04" cy="84.01" r="0.5" fill="#bdbdbd"/>
<circle cx="336.58" cy="83.87" r="0.5" fill="#bdbdbd"/>
<circle cx="308.19" cy="84.69" r="0.5" fill="#bdbdbd"/>
<circle cx="324.83" cy="86.43" r="0.5" fill="#bdbdbd"/>
<circle cx="326.62" cy="85.97" r="0.5" fill="#bdbdbd"/>
<circle cx="318.93" cy="83.41" r="0.5" fill="#bdbdbd"/>
<circle cx="317.29" cy="79.81" r="0.5" fill="#bdbdbd"/>
<circle cx="329.28" cy="87.67" r="0.5" fill="#bdbdbd"/>
<circle cx="327.24" cy="91.14" r="0.5" fill="#bdbdbd"/>
<circle cx="330.57" cy="83.84" r="0.5" fill="#bdbdbd"/>
<circle cx="319.7" cy="79.91" r="0.5" fill="#bdbdbd"/>
<circle cx="311.39" cy="84.04" r="0.5" fill="#bdbdbd"/>
<circle cx="296.29" cy="87.31" r="0.5" fill="#bdbdbd"/>
<circle cx="333.46" cy="82.22" r="0.5" fill="#bdbdbd"/>
<circle cx="331.78" cy="88.52" r="0.5" fill="#bdbdbd"/>
<circle cx="323.77" cy="83.44" r="0.5" fill="#bdbdbd"/>
<circle cx="326.67" cy="84.37" r="0.5" fill="#bdbdbd"/>
<circle cx="342.61" cy="86.55" r="0.5" fill="#bdbdbd"/>
<circle cx="325.19" cy="87.52" r="0.5" fill="#bdbdbd"/>
<circle cx="320.67" cy="84.26" r="0.5" fill="#bdbdbd"/>
<circle cx="326.72" cy="90.65" r="0.5" fill="#bdbdbd"/>
<circle cx="331.77" cy="91.58" r="0.5" fill="#bdbdbd"/>
<circle cx="328.42" cy="86.27" r="0.5" fill="#bdbdbd"/>
<circle cx="325.88" cy="90.05" r="0.5" fill="#bdbdbd"/>
<circle cx="322.66" cy="89.99" r="0.5" fill="#bdbdbd"/>
<circle cx="331.23" cy="85.05" r="0.5" fill="#bdbdbd"/>
<circle cx="320.77" cy="84.17" r="0.5" fill="#bdbdbd"/>
<circle cx="333.93" cy="85.15" r="0.5" fill="#bdbdbd"/>
<circle cx="314.58" cy="89.51" r="0.5" fill="#bdbdbd"/>
<circle cx="320.69" cy="89.74" r="0.5" fill="#bdbdbd"/>
<circle cx="312.45" cy="83.6" r="0.5" fill="#bdbdbd"/>
<circle cx="323.84" cy="80.18" r="0.5" fill="#bdbdbd"/>
<circle cx="336.88" cy="85.04" r="0.5" fill="#bdbdbd"/>
<circle cx="319.95" cy="81.13" r="0.5" fill="#bdbdbd"/>
<circle cx="335.78" cy="85.16" r="0.5" fill="#bdbdbd"/>
<circle cx="320.42" cy="82.5" r="0.5" fill="#bdbdbd"/>
<circle cx="319.18" cy="88.37" r="0.5" fill="#bdbdbd"/>
<circle cx="333.04" cy="83.65" r="0.5" fill="#bdbdbd"/>
<circle cx="329.69" cy="86.06" r="0.5" fill="#bdbdbd"/>
<circle cx="331.15" cy="86.68" r="0.5" fill="#bdbdbd"/>
<circle cx="318.02" cy="84.68" r="0.5" fill="#bdbdbd"/>
<circle cx="323.41" cy="88.34" r="0.5" fill="#bdbdbd"/>
<circle cx="327.71" cy="86.6" r="0.5" fill="#bdbdbd"/>
<circle cx="324.11" cy="91.15" r="0.5" fill="#bdbdbd"/>
<circle cx="331.09" cy="87.75" r="0.5" fill="#bdbdbd"/>
<circle cx="337.18" cy="84.42" r="0.5" fill="#bdbdbd"/>
<circle cx="339.43" cy="90.01" r="0.5" fill="#bdbdbd"/>
<circle cx="319.58" cy="85.64" r="0.5" fill="#bdbdbd"/>
<circle cx="336.88" cy="77.92" r="0.5" fill="#bdbdbd"/>
<circle cx="317.63" cy="84.3" r="0.5" fill="#bdbdbd"/>
<circle cx="314.4" cy="83.41" r="0.5" fill="#bdbdbd"/>
<circle cx="343.42" cy="85.88" r="0.5" fill="#bdbdbd"/>
<circle cx="325.09" cy="83.8" r="0.5" fill="#bdbdbd"/>
<circle cx="322.61" cy="81.92" r="0.5" fill="#bdbdbd"/>
<circle cx="322.09" cy="82.34" r="0.5" fill="#bdbdbd"/>
<circle cx="341.16" cy="88" r="0.5" fill="#bdbdbd"/>
<circle cx="333.36" cy="87.53" r="0.5" fill="#bdbdbd"/>
<circle cx="324.47" cy="90.17" r="0.5" fill="#bdbdbd"/>
<circle cx="317.69" cy="80.34" r="0.5" fill="#bdbdbd"/>
<circle cx="325.57" cy="88.75" r="0.5" fill="#bdbdbd"/>
<line x1="329.8" y1="33.5" x2="329.8" y2="92.5" stroke="#c4c4c4" stroke-width="1.6"/>
<circle cx="311.74" cy="81.17" r="0.65" fill="#2a2aa0"/>
<circle cx="310.45" cy="81.55" r="0.65" fill="#2a2aa0"/>
<circle cx="309.16" cy="81.17" r="0.65" fill="#2a2aa0"/>
<circle cx="313.03" cy="80.8" r="0.65" fill="#2a2aa0"/>
<circle cx="314.32" cy="81.17" r="0.65" fill="#2a2aa0"/>
<circle cx="315.61" cy="81.55" r="0.65" fill="#2a2aa0"/>
<circle cx="306.58" cy="81.17" r="0.65" fill="#2a2aa0"/>
<circle cx="304" cy="80.8" r="0.65" fill="#2a2aa0"/>
<circle cx="302.71" cy="81.55" r="0.65" fill="#2a2aa0"/>
<circle cx="301.42" cy="81.17" r="0.65" fill="#2a2aa0"/>
<circle cx="298.84" cy="80.42" r="0.65" fill="#2a2aa0"/>
<circle cx="296.26" cy="81.55" r="0.65" fill="#2a2aa0"/>
<circle cx="293.68" cy="81.17" r="0.65" fill="#2a2aa0"/>
<circle cx="307.87" cy="80.8" r="0.65" fill="#2a2aa0"/>
<circle cx="305.29" cy="81.55" r="0.65" fill="#2a2aa0"/>
<circle cx="311.74" cy="80.04" r="0.65" fill="#2a2aa0"/>
<circle cx="313.8" cy="78.91" r="0.65" fill="#2a2aa0"/>
<circle cx="314.84" cy="77.4" r="0.65" fill="#2a2aa0"/>
<circle cx="311.74" cy="76.64" r="0.65" fill="#2a2aa0"/>
<circle cx="313.03" cy="74.38" r="0.65" fill="#2a2aa0"/>
<circle cx="314.32" cy="72.87" r="0.65" fill="#2a2aa0"/>
<circle cx="310.45" cy="78.91" r="0.65" fill="#2a2aa0"/>
<circle cx="307.87" cy="79.67" r="0.65" fill="#2a2aa0"/>
<circle cx="312.26" cy="70.61" r="0.65" fill="#2a2aa0"/>
<circle cx="313.8" cy="69.09" r="0.65" fill="#2a2aa0"/>
<circle cx="313.8" cy="64.94" r="0.65" fill="#2a2aa0"/>
<circle cx="309.16" cy="63.43" r="0.65" fill="#2a2aa0"/>
<circle cx="297.55" cy="48.33" r="0.65" fill="#2a2aa0"/>
<circle cx="279.49" cy="68.72" r="0.65" fill="#2a2aa0"/>
<circle cx="315.61" cy="79.67" r="0.65" fill="#2a2aa0"/>
<circle cx="316.38" cy="78.16" r="0.65" fill="#2a2aa0"/>
<circle cx="309.68" cy="80.42" r="0.65" fill="#2a2aa0"/>
<circle cx="300.13" cy="81.17" r="0.65" fill="#2a2aa0"/>
<circle cx="306.58" cy="80.42" r="0.65" fill="#2a2aa0"/>
<circle cx="311.22" cy="81.93" r="0.65" fill="#2a2aa0"/>
<circle cx="314.32" cy="75.89" r="0.65" fill="#2a2aa0"/>
<circle cx="315.35" cy="75.14" r="0.65" fill="#2a2aa0"/>
<circle cx="343.99" cy="82.69" r="0.65" fill="#ee2020"/>
<circle cx="345.28" cy="82.31" r="0.65" fill="#ee2020"/>
<circle cx="347.86" cy="81.17" r="0.65" fill="#ee2020"/>
<circle cx="349.15" cy="72.87" r="0.65" fill="#ee2020"/>
<circle cx="350.44" cy="66.83" r="0.65" fill="#ee2020"/>
<circle cx="347.86" cy="66.83" r="0.65" fill="#ee2020"/>
<circle cx="351.73" cy="72.87" r="0.65" fill="#ee2020"/>
<circle cx="354.31" cy="70.61" r="0.65" fill="#ee2020"/>
<circle cx="355.6" cy="75.89" r="0.65" fill="#ee2020"/>
<circle cx="346.57" cy="74.38" r="0.65" fill="#ee2020"/>
<circle cx="344.76" cy="73.62" r="0.65" fill="#ee2020"/>
<circle cx="347.86" cy="77.4" r="0.65" fill="#ee2020"/>
<circle cx="349.15" cy="79.67" r="0.65" fill="#ee2020"/>
<circle cx="353.02" cy="71.36" r="0.65" fill="#ee2020"/>
<circle cx="345.8" cy="75.89" r="0.65" fill="#ee2020"/>
<line x1="277.8" y1="33.2" x2="277.8" y2="92.8" stroke="#231f20" stroke-width="0.6"/>
<line x1="277.5" y1="92.5" x2="358.5" y2="92.5" stroke="#231f20" stroke-width="0.6"/>
<line x1="275.8" y1="92.5" x2="277.8" y2="92.5" stroke="#231f20" stroke-width="0.6"/>
<text x="272.9" y="94.85" text-anchor="end">0</text>
<line x1="275.8" y1="77.4" x2="277.8" y2="77.4" stroke="#231f20" stroke-width="0.6"/>
<text x="272.9" y="79.75" text-anchor="end">2</text>
<line x1="275.8" y1="62.3" x2="277.8" y2="62.3" stroke="#231f20" stroke-width="0.6"/>
<text x="272.9" y="64.65" text-anchor="end">4</text>
<line x1="275.8" y1="47.2" x2="277.8" y2="47.2" stroke="#231f20" stroke-width="0.6"/>
<text x="272.9" y="49.55" text-anchor="end">6</text>
<line x1="278.2" y1="92.5" x2="278.2" y2="94.5" stroke="#231f20" stroke-width="0.6"/>
<text x="278.2" y="103.25" text-anchor="middle">−2</text>
<line x1="304" y1="92.5" x2="304" y2="94.5" stroke="#231f20" stroke-width="0.6"/>
<text x="304" y="103.25" text-anchor="middle">−1</text>
<line x1="329.8" y1="92.5" x2="329.8" y2="94.5" stroke="#231f20" stroke-width="0.6"/>
<text x="329.8" y="103.25" text-anchor="middle">0</text>
<line x1="355.6" y1="92.5" x2="355.6" y2="94.5" stroke="#231f20" stroke-width="0.6"/>
<text x="355.6" y="103.25" text-anchor="middle">1</text>
<text x="317.7" y="110.75" text-anchor="middle">log<tspan font-size="3.96" dy="1.9">2</tspan><tspan dy="-1.9">FC</tspan></text>
<text x="318.2" y="119.95" text-anchor="middle">(IFNγ treatment versus non-treated)</text>
<text x="259.9" y="65.35" text-anchor="middle" transform="rotate(-90 259.9 63)">−log<tspan font-size="3.96" dy="1.9">10</tspan><tspan dy="-1.9">(MAGeCK RRA score)</tspan></text>
<text x="343.5" y="44.55">sg<tspan font-style="italic">Casp9</tspan></text>
<text x="343.5" y="57.75">sg<tspan font-style="italic">Bak1</tspan></text>
<line x1="350.2" y1="35.2" x2="350.2" y2="39" stroke="#ee2020" stroke-width="0.6"/>
<line x1="350.2" y1="46.6" x2="350.2" y2="50.8" stroke="#ee2020" stroke-width="0.6"/>
<defs><filter id="b07" x="-50%" y="-50%" width="200%" height="200%"><feGaussianBlur stdDeviation="0.7"/></filter><filter id="b1" x="-50%" y="-50%" width="200%" height="200%"><feGaussianBlur stdDeviation="1"/></filter><filter id="b15" x="-50%" y="-50%" width="200%" height="200%"><feGaussianBlur stdDeviation="1.5"/></filter><linearGradient id="gst" x1="0" y1="0" x2="0" y2="1"><stop offset="0" stop-color="#b4b4b4"/><stop offset="0.25" stop-color="#e2e2e2"/><stop offset="0.6" stop-color="#e6e6e6"/><stop offset="0.85" stop-color="#ececec"/><stop offset="1" stop-color="#d0d0d0"/></linearGradient></defs>
<text x="393.9" y="7.8" font-size="11.2" font-weight="bold" fill="#000" stroke="#000" stroke-width="0.35">c</text>
<text x="432.2" y="16.95" text-anchor="end">IFNγ (h):</text>
<line x1="436.1" y1="17.6" x2="468" y2="17.6" stroke="#231f20" stroke-width="0.6"/>
<text x="451.9" y="16.45" text-anchor="middle">0</text>
<line x1="471.9" y1="17.6" x2="504.6" y2="17.6" stroke="#231f20" stroke-width="0.6"/>
<text x="488.4" y="16.45" text-anchor="middle">12</text>
<line x1="508.4" y1="17.6" x2="540.9" y2="17.6" stroke="#231f20" stroke-width="0.6"/>
<text x="524.3" y="16.45" text-anchor="middle">24</text>
<text x="431.8" y="25.75" text-anchor="end">sgNTC</text>
<text x="437.6" y="26.35" text-anchor="middle">+</text>
<text x="446.86" y="26.35" text-anchor="middle">+</text>
<text x="456.12" y="26.35" text-anchor="middle">+</text>
<text x="465.38" y="26.35" text-anchor="middle">−</text>
<text x="474.64" y="26.35" text-anchor="middle">+</text>
<text x="483.9" y="26.35" text-anchor="middle">+</text>
<text x="493.16" y="26.35" text-anchor="middle">+</text>
<text x="502.42" y="26.35" text-anchor="middle">−</text>
<text x="511.68" y="26.35" text-anchor="middle">+</text>
<text x="520.94" y="26.35" text-anchor="middle">+</text>
<text x="530.2" y="26.35" text-anchor="middle">+</text>
<text x="539.46" y="26.35" text-anchor="middle">−</text>
<text x="431.8" y="33.65" text-anchor="end">sg<tspan font-style="italic">Vdac2</tspan></text>
<text x="437.6" y="34.25" text-anchor="middle">−</text>
<text x="446.86" y="34.25" text-anchor="middle">+</text>
<text x="456.12" y="34.25" text-anchor="middle">−</text>
<text x="465.38" y="34.25" text-anchor="middle">+</text>
<text x="474.64" y="34.25" text-anchor="middle">−</text>
<text x="483.9" y="34.25" text-anchor="middle">+</text>
<text x="493.16" y="34.25" text-anchor="middle">−</text>
<text x="502.42" y="34.25" text-anchor="middle">+</text>
<text x="511.68" y="34.25" text-anchor="middle">−</text>
<text x="520.94" y="34.25" text-anchor="middle">+</text>
<text x="530.2" y="34.25" text-anchor="middle">−</text>
<text x="539.46" y="34.25" text-anchor="middle">+</text>
<text x="431.8" y="41.45" text-anchor="end">sg<tspan font-style="italic">Bak1</tspan></text>
<text x="437.6" y="42.05" text-anchor="middle">−</text>
<text x="446.86" y="42.05" text-anchor="middle">−</text>
<text x="456.12" y="42.05" text-anchor="middle">+</text>
<text x="465.38" y="42.05" text-anchor="middle">+</text>
<text x="474.64" y="42.05" text-anchor="middle">−</text>
<text x="483.9" y="42.05" text-anchor="middle">−</text>
<text x="493.16" y="42.05" text-anchor="middle">+</text>
<text x="502.42" y="42.05" text-anchor="middle">+</text>
<text x="511.68" y="42.05" text-anchor="middle">−</text>
<text x="520.94" y="42.05" text-anchor="middle">−</text>
<text x="530.2" y="42.05" text-anchor="middle">+</text>
<text x="539.46" y="42.05" text-anchor="middle">+</text>
<rect x="432.3" y="52" width="112.8" height="10.9" fill="url(#gst)"/>
<rect x="433.8" y="55.3" width="7.6" height="5" rx="2.5" fill="#999999" filter="url(#b15)"/>
<rect x="443.06" y="55.3" width="7.6" height="5" rx="2.5" fill="#a5a5a5" filter="url(#b15)"/>
<rect x="452.32" y="55.3" width="7.6" height="5" rx="2.5" fill="#b7b7b7" filter="url(#b15)"/>
<rect x="461.58" y="55.3" width="7.6" height="5" rx="2.5" fill="#b7b7b7" filter="url(#b15)"/>
<rect x="470.84" y="55.3" width="7.6" height="5" rx="2.5" fill="#7f7f7f" filter="url(#b15)"/>
<rect x="480.1" y="55.3" width="7.6" height="5" rx="2.5" fill="#848484" filter="url(#b15)"/>
<rect x="489.36" y="55.3" width="7.6" height="5" rx="2.5" fill="#898989" filter="url(#b15)"/>
<rect x="498.62" y="55.3" width="7.6" height="5" rx="2.5" fill="#999999" filter="url(#b15)"/>
<rect x="507.88" y="55.3" width="7.6" height="5" rx="2.5" fill="#515151" filter="url(#b15)"/>
<rect x="517.14" y="55" width="7.6" height="5.6" rx="2.8" fill="#070707" filter="url(#b15)"/>
<rect x="526.4" y="55.3" width="7.6" height="5" rx="2.5" fill="#727272" filter="url(#b15)"/>
<rect x="535.66" y="55.3" width="7.6" height="5" rx="2.5" fill="#8c8c8c" filter="url(#b15)"/>
<rect x="432.3" y="52" width="112.8" height="10.9" fill="none" stroke="#3a3a3a" stroke-width="0.7"/>
<text x="428.9" y="60.55" text-anchor="end">p-STING<tspan font-size="4.2" dy="-3.0">S365</tspan></text>
<line x1="545.2" y1="59.6" x2="548.3" y2="59.6" stroke="#231f20" stroke-width="0.6"/>
<text x="550" y="61.95">37</text>
<rect x="432.3" y="65.3" width="112.8" height="12.3" fill="#fbfbfb"/>
<rect x="470.94" y="67.95" width="7.4" height="2.3" rx="1.15" fill="#323232" filter="url(#b07)"/>
<rect x="480.5" y="67.95" width="6.8" height="2.3" rx="1.15" fill="#999999" filter="url(#b07)"/>
<rect x="489.76" y="67.95" width="6.8" height="2.3" rx="1.15" fill="#666666" filter="url(#b07)"/>
<rect x="499.02" y="67.95" width="6.8" height="2.3" rx="1.15" fill="#727272" filter="url(#b07)"/>
<rect x="507.98" y="67.81" width="7.4" height="2.58" rx="1.29" fill="#000000" filter="url(#b07)"/>
<rect x="517.24" y="67.81" width="7.4" height="2.58" rx="1.29" fill="#1e1e1e" filter="url(#b07)"/>
<rect x="526.5" y="67.81" width="7.4" height="2.58" rx="1.29" fill="#000000" filter="url(#b07)"/>
<rect x="535.76" y="67.81" width="7.4" height="2.58" rx="1.29" fill="#070707" filter="url(#b07)"/>
<rect x="471.34" y="72.9" width="6.6" height="2.2" rx="1.1" fill="#d1d1d1" filter="url(#b07)"/>
<rect x="480.6" y="72.9" width="6.6" height="2.2" rx="1.1" fill="#d8d8d8" filter="url(#b07)"/>
<rect x="489.86" y="72.9" width="6.6" height="2.2" rx="1.1" fill="#d8d8d8" filter="url(#b07)"/>
<rect x="499.12" y="72.9" width="6.6" height="2.2" rx="1.1" fill="#dbdbdb" filter="url(#b07)"/>
<rect x="508.38" y="72.9" width="6.6" height="2.2" rx="1.1" fill="#a5a5a5" filter="url(#b07)"/>
<rect x="517.64" y="72.9" width="6.6" height="2.2" rx="1.1" fill="#adadad" filter="url(#b07)"/>
<rect x="526.9" y="72.9" width="6.6" height="2.2" rx="1.1" fill="#999999" filter="url(#b07)"/>
<rect x="536.16" y="72.9" width="6.6" height="2.2" rx="1.1" fill="#606060" filter="url(#b07)"/>
<rect x="432.3" y="65.3" width="112.8" height="12.3" fill="none" stroke="#3a3a3a" stroke-width="0.7"/>
<text x="428.9" y="73.75" text-anchor="end">STING</text>
<line x1="545.2" y1="68.7" x2="548.3" y2="68.7" stroke="#231f20" stroke-width="0.6"/>
<text x="550" y="71.05">37</text>
<rect x="432.3" y="91.8" width="112.8" height="10.5" fill="#fbfbfb"/>
<rect x="434.2" y="96" width="6.8" height="2.6" rx="1.3" fill="#cccccc" filter="url(#b07)"/>
<rect x="443.46" y="96" width="6.8" height="2.6" rx="1.3" fill="#bfbfbf" filter="url(#b07)"/>
<rect x="452.72" y="96" width="6.8" height="2.6" rx="1.3" fill="#c6c6c6" filter="url(#b07)"/>
<rect x="461.98" y="96" width="6.8" height="2.6" rx="1.3" fill="#b7b7b7" filter="url(#b07)"/>
<rect x="471.24" y="96" width="6.8" height="2.6" rx="1.3" fill="#cccccc" filter="url(#b07)"/>
<rect x="480.5" y="96" width="6.8" height="2.6" rx="1.3" fill="#bfbfbf" filter="url(#b07)"/>
<rect x="489.76" y="96" width="6.8" height="2.6" rx="1.3" fill="#bfbfbf" filter="url(#b07)"/>
<rect x="499.02" y="96" width="6.8" height="2.6" rx="1.3" fill="#a5a5a5" filter="url(#b07)"/>
<rect x="508.28" y="96" width="6.8" height="2.6" rx="1.3" fill="#595959" filter="url(#b07)"/>
<rect x="517.24" y="95.84" width="7.4" height="2.91" rx="1.46" fill="#141414" filter="url(#b07)"/>
<rect x="526.8" y="96" width="6.8" height="2.6" rx="1.3" fill="#7f7f7f" filter="url(#b07)"/>
<rect x="536.06" y="96" width="6.8" height="2.6" rx="1.3" fill="#848484" filter="url(#b07)"/>
<rect x="432.3" y="91.8" width="112.8" height="10.5" fill="none" stroke="#3a3a3a" stroke-width="0.7"/>
<text x="428.9" y="99.95" text-anchor="end">p-TBK1<tspan font-size="4.2" dy="-3.0">S172</tspan></text>
<line x1="545.2" y1="97.1" x2="548.3" y2="97.1" stroke="#231f20" stroke-width="0.6"/>
<text x="550" y="99.45">75</text>
<rect x="432.3" y="105.2" width="112.8" height="11.1" fill="#fbfbfb"/>
<rect x="434.2" y="109.95" width="6.8" height="2.5" rx="1.25" fill="#6b6b6b" filter="url(#b07)"/>
<rect x="443.46" y="109.95" width="6.8" height="2.5" rx="1.25" fill="#666666" filter="url(#b07)"/>
<rect x="452.72" y="109.95" width="6.8" height="2.5" rx="1.25" fill="#848484" filter="url(#b07)"/>
<rect x="461.98" y="109.95" width="6.8" height="2.5" rx="1.25" fill="#7f7f7f" filter="url(#b07)"/>
<rect x="470.94" y="109.8" width="7.4" height="2.8" rx="1.4" fill="#000000" filter="url(#b07)"/>
<rect x="480.2" y="109.8" width="7.4" height="2.8" rx="1.4" fill="#0c0c0c" filter="url(#b07)"/>
<rect x="489.46" y="109.8" width="7.4" height="2.8" rx="1.4" fill="#0c0c0c" filter="url(#b07)"/>
<rect x="498.72" y="109.8" width="7.4" height="2.8" rx="1.4" fill="#191919" filter="url(#b07)"/>
<rect x="507.98" y="109.8" width="7.4" height="2.8" rx="1.4" fill="#070707" filter="url(#b07)"/>
<rect x="517.24" y="109.8" width="7.4" height="2.8" rx="1.4" fill="#141414" filter="url(#b07)"/>
<rect x="526.5" y="109.8" width="7.4" height="2.8" rx="1.4" fill="#191919" filter="url(#b07)"/>
<rect x="535.76" y="109.8" width="7.4" height="2.8" rx="1.4" fill="#191919" filter="url(#b07)"/>
<rect x="432.3" y="105.2" width="112.8" height="11.1" fill="none" stroke="#3a3a3a" stroke-width="0.7"/>
<text x="428.9" y="112.85" text-anchor="end">TBK1</text>
<line x1="545.2" y1="111.7" x2="548.3" y2="111.7" stroke="#231f20" stroke-width="0.6"/>
<text x="550" y="114.05">75</text>
<rect x="432.3" y="128.4" width="112.8" height="10.4" fill="#fbfbfb"/>
<rect x="499.02" y="132.7" width="6.8" height="2.6" rx="1.3" fill="#f2f2f2" filter="url(#b07)"/>
<rect x="508.28" y="132.7" width="6.8" height="2.6" rx="1.3" fill="#b2b2b2" filter="url(#b07)"/>
<rect x="517.24" y="132.54" width="7.4" height="2.91" rx="1.46" fill="#050505" filter="url(#b07)"/>
<rect x="526.8" y="132.7" width="6.8" height="2.6" rx="1.3" fill="#eaeaea" filter="url(#b07)"/>
<rect x="536.06" y="132.7" width="6.8" height="2.6" rx="1.3" fill="#eaeaea" filter="url(#b07)"/>
<rect x="432.3" y="128.4" width="112.8" height="10.4" fill="none" stroke="#3a3a3a" stroke-width="0.7"/>
<text x="428.9" y="136.05" text-anchor="end">p-IRF3<tspan font-size="4.2" dy="-3.0">S396</tspan></text>
<line x1="545.2" y1="128.9" x2="548.3" y2="128.9" stroke="#231f20" stroke-width="0.6"/>
<text x="550" y="131.25">50</text>
<rect x="432.3" y="141.7" width="112.8" height="10.5" fill="#fbfbfb"/>
<rect x="433.9" y="145.62" width="7.4" height="3.36" rx="1.68" fill="#191919" filter="url(#b07)"/>
<rect x="443.46" y="145.8" width="6.8" height="3" rx="1.5" fill="#7f7f7f" filter="url(#b07)"/>
<rect x="452.42" y="145.8" width="7.4" height="3" rx="1.5" fill="#323232" filter="url(#b07)"/>
<rect x="461.98" y="145.8" width="6.8" height="3" rx="1.5" fill="#727272" filter="url(#b07)"/>
<rect x="470.94" y="145.62" width="7.4" height="3.36" rx="1.68" fill="#000000" filter="url(#b07)"/>
<rect x="480.2" y="145.62" width="7.4" height="3.36" rx="1.68" fill="#262626" filter="url(#b07)"/>
<rect x="489.46" y="145.62" width="7.4" height="3.36" rx="1.68" fill="#0c0c0c" filter="url(#b07)"/>
<rect x="498.72" y="145.8" width="7.4" height="3" rx="1.5" fill="#323232" filter="url(#b07)"/>
<rect x="507.98" y="145.62" width="7.4" height="3.36" rx="1.68" fill="#191919" filter="url(#b07)"/>
<rect x="517.54" y="145.8" width="6.8" height="3" rx="1.5" fill="#8c8c8c" filter="url(#b07)"/>
<rect x="526.5" y="145.62" width="7.4" height="3.36" rx="1.68" fill="#191919" filter="url(#b07)"/>
<rect x="535.76" y="145.8" width="7.4" height="3" rx="1.5" fill="#323232" filter="url(#b07)"/>
<rect x="432.3" y="141.7" width="112.8" height="10.5" fill="none" stroke="#3a3a3a" stroke-width="0.7"/>
<text x="428.9" y="149.75" text-anchor="end">IRF3</text>
<line x1="545.2" y1="149.7" x2="548.3" y2="149.7" stroke="#231f20" stroke-width="0.6"/>
<text x="550" y="152.05">37</text>
<rect x="432.3" y="165.5" width="112.8" height="11.1" fill="#fbfbfb"/>
<rect x="433.9" y="169.92" width="7.4" height="3.36" rx="1.68" fill="#141414" filter="url(#b07)"/>
<rect x="443.46" y="170.1" width="6.8" height="3" rx="1.5" fill="#c6c6c6" filter="url(#b07)"/>
<rect x="470.94" y="169.92" width="7.4" height="3.36" rx="1.68" fill="#000000" filter="url(#b07)"/>
<rect x="480.5" y="170.1" width="6.8" height="3" rx="1.5" fill="#7f7f7f" filter="url(#b07)"/>
<rect x="507.48" y="169.6" width="8.4" height="4" rx="2" fill="#000000" filter="url(#b07)"/>
<rect x="517.24" y="169.92" width="7.4" height="3.36" rx="1.68" fill="#1e1e1e" filter="url(#b07)"/>
<rect x="432.3" y="165.5" width="112.8" height="11.1" fill="none" stroke="#3a3a3a" stroke-width="0.7"/>
<text x="428.9" y="174.15" text-anchor="end">BAK</text>
<line x1="545.2" y1="166.9" x2="548.3" y2="166.9" stroke="#231f20" stroke-width="0.6"/>
<text x="550" y="169.25">25</text>
<rect x="432.3" y="180.1" width="112.8" height="11.1" fill="#fbfbfb"/>
<rect x="434.2" y="184.35" width="6.8" height="3.3" rx="1.65" fill="#7f7f7f" filter="url(#b07)"/>
<rect x="452.72" y="184.35" width="6.8" height="3.3" rx="1.65" fill="#7f7f7f" filter="url(#b07)"/>
<rect x="471.24" y="184.2" width="6.8" height="3.6" rx="1.8" fill="#070707" filter="url(#b07)"/>
<rect x="489.76" y="184.35" width="6.8" height="3.3" rx="1.65" fill="#7f7f7f" filter="url(#b07)"/>
<rect x="508.28" y="184.2" width="6.8" height="3.6" rx="1.8" fill="#070707" filter="url(#b07)"/>
<rect x="526.8" y="184.35" width="6.8" height="3.3" rx="1.65" fill="#595959" filter="url(#b07)"/>
<rect x="432.3" y="180.1" width="112.8" height="11.1" fill="none" stroke="#3a3a3a" stroke-width="0.7"/>
<text x="428.9" y="188.05" text-anchor="end">VDAC2</text>
<line x1="545.2" y1="188.4" x2="548.3" y2="188.4" stroke="#231f20" stroke-width="0.6"/>
<text x="550" y="190.75">25</text>
<rect x="432.3" y="194.4" width="112.8" height="10.9" fill="#fbfbfb"/>
<rect x="433.9" y="198.83" width="7.4" height="3.14" rx="1.57" fill="#141414" filter="url(#b07)"/>
<rect x="443.16" y="198.83" width="7.4" height="3.14" rx="1.57" fill="#262626" filter="url(#b07)"/>
<rect x="452.42" y="198.83" width="7.4" height="3.14" rx="1.57" fill="#262626" filter="url(#b07)"/>
<rect x="461.68" y="198.83" width="7.4" height="3.14" rx="1.57" fill="#262626" filter="url(#b07)"/>
<rect x="470.94" y="198.83" width="7.4" height="3.14" rx="1.57" fill="#050505" filter="url(#b07)"/>
<rect x="480.2" y="198.83" width="7.4" height="3.14" rx="1.57" fill="#191919" filter="url(#b07)"/>
<rect x="489.46" y="198.83" width="7.4" height="3.14" rx="1.57" fill="#1e1e1e" filter="url(#b07)"/>
<rect x="498.72" y="198.83" width="7.4" height="3.14" rx="1.57" fill="#262626" filter="url(#b07)"/>
<rect x="507.98" y="198.83" width="7.4" height="3.14" rx="1.57" fill="#191919" filter="url(#b07)"/>
<rect x="517.24" y="199" width="7.4" height="2.8" rx="1.4" fill="#383838" filter="url(#b07)"/>
<rect x="526.5" y="198.83" width="7.4" height="3.14" rx="1.57" fill="#191919" filter="url(#b07)"/>
<rect x="535.76" y="198.83" width="7.4" height="3.14" rx="1.57" fill="#0c0c0c" filter="url(#b07)"/>
<rect x="432.3" y="194.4" width="112.8" height="10.9" fill="none" stroke="#3a3a3a" stroke-width="0.7"/>
<text x="428.9" y="201.85" text-anchor="end">β-Actin</text>
<line x1="545.2" y1="202.5" x2="548.3" y2="202.5" stroke="#231f20" stroke-width="0.6"/>
<text x="550" y="204.85">37</text>
<text x="548.6" y="50.85">kDa</text>
<text x="509.48" y="51.3" font-size="6.8" transform="rotate(-45 509.48 51.3)">1.0</text>
<text x="518.74" y="51.3" font-size="6.8" transform="rotate(-45 518.74 51.3)">3.4</text>
<text x="528" y="51.3" font-size="6.8" transform="rotate(-45 528 51.3)">1.1</text>
<text x="537.26" y="51.3" font-size="6.8" transform="rotate(-45 537.26 51.3)">1.0</text>
<text x="506.38" y="89.8" font-size="6.8" transform="rotate(-45 506.38 89.8)">1.0</text>
<text x="517.84" y="90.6" font-size="6.8" transform="rotate(-45 517.84 90.6)">2.1</text>
<text x="526.4" y="89.6" font-size="6.8" transform="rotate(-45 526.4 89.6)">1.0</text>
<text x="536.36" y="90.4" font-size="6.8" transform="rotate(-45 536.36 90.4)">0.9</text>
<text x="506.38" y="126.3" font-size="6.8" transform="rotate(-45 506.38 126.3)">1.0</text>
<text x="517.84" y="126.9" font-size="6.8" transform="rotate(-45 517.84 126.9)">6.4</text>
<text x="526.4" y="126.7" font-size="6.8" transform="rotate(-45 526.4 126.7)">0.9</text>
<text x="536.36" y="126.7" font-size="6.8" transform="rotate(-45 536.36 126.7)">0.9</text>
<text x="435.7" y="163.2" font-size="6.8" transform="rotate(-45 435.7 163.2)">1.0</text>
<text x="444.96" y="164.1" font-size="6.8" transform="rotate(-45 444.96 164.1)">0.3</text>
<text x="472.74" y="163.2" font-size="6.8" transform="rotate(-45 472.74 163.2)">1.8</text>
<text x="482" y="164.1" font-size="6.8" transform="rotate(-45 482 164.1)">0.8</text>
<text x="509.78" y="164.2" font-size="6.8" transform="rotate(-45 509.78 164.2)">3.1</text>
<text x="519.04" y="163.2" font-size="6.8" transform="rotate(-45 519.04 163.2)">1.1</text>
<text x="571.7" y="7.8" font-size="11.2" font-weight="bold" fill="#000" stroke="#000" stroke-width="0.35">d</text>
<circle cx="592.6" cy="17.9" r="1.25" fill="none" stroke="#333333" stroke-width="0.8"/>
<text x="597.8" y="20.25">sgNTC + sgNTC</text>
<circle cx="592.6" cy="26.33" r="1.25" fill="none" stroke="#2bb39a" stroke-width="0.8"/>
<text x="597.8" y="28.68"><tspan font-style="italic">sgVdac2</tspan> + sgNTC</text>
<circle cx="592.6" cy="34.76" r="1.25" fill="none" stroke="#f08a24" stroke-width="0.8"/>
<text x="597.8" y="37.11">sgNTC + <tspan font-style="italic">sgBak1</tspan></text>
<circle cx="592.6" cy="43.19" r="1.25" fill="none" stroke="#2f6ff0" stroke-width="0.8"/>
<text x="597.8" y="45.54"><tspan font-style="italic">sgVdac2</tspan> + <tspan font-style="italic">sgBak1</tspan></text>
<path d="M606 116.9V114.88H611.8V116.9" stroke="#231f20" stroke-width="0.6" fill="#fff"/>
<path d="M615.4 116.9V115.69H621.2V116.9" stroke="#231f20" stroke-width="0.6" fill="#fff"/>
<path d="M624.5 116.9V115.69H630.3V116.9" stroke="#231f20" stroke-width="0.6" fill="#fff"/>
<path d="M633.8 116.9V115.08H639.6V116.9" stroke="#231f20" stroke-width="0.6" fill="#fff"/>
<path d="M648.2 116.9V115.08H654V116.9" stroke="#231f20" stroke-width="0.6" fill="#fff"/>
<path d="M657.5 116.9V90.58H663.3V116.9" stroke="#231f20" stroke-width="0.6" fill="#fff"/>
<path d="M667 116.9V114.07H672.8V116.9" stroke="#231f20" stroke-width="0.6" fill="#fff"/>
<path d="M676 116.9V115.48H681.8V116.9" stroke="#231f20" stroke-width="0.6" fill="#fff"/>
<circle cx="607.3" cy="114.67" r="0.8" fill="none" stroke="#333333" stroke-width="0.55"/>
<circle cx="608.9" cy="114.88" r="0.8" fill="none" stroke="#333333" stroke-width="0.55"/>
<circle cx="610.5" cy="115.08" r="0.8" fill="none" stroke="#333333" stroke-width="0.55"/>
<line x1="608.9" y1="115.18" x2="608.9" y2="114.57" stroke="#333333" stroke-width="0.6"/>
<line x1="607.7" y1="114.57" x2="610.1" y2="114.57" stroke="#333333" stroke-width="0.6"/>
<circle cx="616.7" cy="115.56" r="0.8" fill="none" stroke="#2bb39a" stroke-width="0.55"/>
<circle cx="618.3" cy="115.69" r="0.8" fill="none" stroke="#2bb39a" stroke-width="0.55"/>
<circle cx="619.9" cy="115.81" r="0.8" fill="none" stroke="#2bb39a" stroke-width="0.55"/>
<line x1="618.3" y1="115.87" x2="618.3" y2="115.5" stroke="#2bb39a" stroke-width="0.6"/>
<line x1="617.1" y1="115.5" x2="619.5" y2="115.5" stroke="#2bb39a" stroke-width="0.6"/>
<circle cx="625.8" cy="115.56" r="0.8" fill="none" stroke="#f08a24" stroke-width="0.55"/>
<circle cx="627.4" cy="115.69" r="0.8" fill="none" stroke="#f08a24" stroke-width="0.55"/>
<circle cx="629" cy="115.81" r="0.8" fill="none" stroke="#f08a24" stroke-width="0.55"/>
<line x1="627.4" y1="115.87" x2="627.4" y2="115.5" stroke="#f08a24" stroke-width="0.6"/>
<line x1="626.2" y1="115.5" x2="628.6" y2="115.5" stroke="#f08a24" stroke-width="0.6"/>
<circle cx="635.1" cy="114.9" r="0.8" fill="none" stroke="#2f6ff0" stroke-width="0.55"/>
<circle cx="636.7" cy="115.08" r="0.8" fill="none" stroke="#2f6ff0" stroke-width="0.55"/>
<circle cx="638.3" cy="115.26" r="0.8" fill="none" stroke="#2f6ff0" stroke-width="0.55"/>
<line x1="636.7" y1="115.35" x2="636.7" y2="114.8" stroke="#2f6ff0" stroke-width="0.6"/>
<line x1="635.5" y1="114.8" x2="637.9" y2="114.8" stroke="#2f6ff0" stroke-width="0.6"/>
<circle cx="649.5" cy="114.9" r="0.8" fill="none" stroke="#333333" stroke-width="0.55"/>
<circle cx="651.1" cy="115.08" r="0.8" fill="none" stroke="#333333" stroke-width="0.55"/>
<circle cx="652.7" cy="115.26" r="0.8" fill="none" stroke="#333333" stroke-width="0.55"/>
<line x1="651.1" y1="115.35" x2="651.1" y2="114.8" stroke="#333333" stroke-width="0.6"/>
<line x1="649.9" y1="114.8" x2="652.3" y2="114.8" stroke="#333333" stroke-width="0.6"/>
<circle cx="659.6" cy="87.94" r="0.85" fill="#2bb39a"/>
<circle cx="660.4" cy="89.77" r="0.85" fill="#2bb39a"/>
<circle cx="661.2" cy="93.81" r="0.85" fill="#2bb39a"/>
<line x1="660.4" y1="93.01" x2="660.4" y2="88.15" stroke="#e0442a" stroke-width="0.6"/>
<line x1="658.8" y1="88.15" x2="662" y2="88.15" stroke="#e0442a" stroke-width="0.6"/>
<circle cx="668.3" cy="113.78" r="0.8" fill="none" stroke="#f08a24" stroke-width="0.55"/>
<circle cx="669.9" cy="114.07" r="0.8" fill="none" stroke="#f08a24" stroke-width="0.55"/>
<circle cx="671.5" cy="114.35" r="0.8" fill="none" stroke="#f08a24" stroke-width="0.55"/>
<line x1="669.9" y1="114.49" x2="669.9" y2="113.64" stroke="#f08a24" stroke-width="0.6"/>
<line x1="668.7" y1="113.64" x2="671.1" y2="113.64" stroke="#f08a24" stroke-width="0.6"/>
<circle cx="677.3" cy="115.34" r="0.8" fill="none" stroke="#2f6ff0" stroke-width="0.55"/>
<circle cx="678.9" cy="115.48" r="0.8" fill="none" stroke="#2f6ff0" stroke-width="0.55"/>
<circle cx="680.5" cy="115.62" r="0.8" fill="none" stroke="#2f6ff0" stroke-width="0.55"/>
<line x1="678.9" y1="115.7" x2="678.9" y2="115.27" stroke="#2f6ff0" stroke-width="0.6"/>
<line x1="677.7" y1="115.27" x2="680.1" y2="115.27" stroke="#2f6ff0" stroke-width="0.6"/>
<line x1="601.9" y1="116.9" x2="684" y2="116.9" stroke="#231f20" stroke-width="0.6"/>
<line x1="601.9" y1="76.1" x2="601.9" y2="117.2" stroke="#231f20" stroke-width="0.6"/>
<line x1="600.1" y1="116.9" x2="601.9" y2="116.9" stroke="#231f20" stroke-width="0.6"/>
<text x="598.6" y="119.25" text-anchor="end">0</text>
<line x1="600.1" y1="106.78" x2="601.9" y2="106.78" stroke="#231f20" stroke-width="0.6"/>
<text x="598.6" y="109.12" text-anchor="end">5</text>
<line x1="600.1" y1="96.65" x2="601.9" y2="96.65" stroke="#231f20" stroke-width="0.6"/>
<text x="598.6" y="99" text-anchor="end">10</text>
<line x1="600.1" y1="86.53" x2="601.9" y2="86.53" stroke="#231f20" stroke-width="0.6"/>
<text x="598.6" y="88.88" text-anchor="end">15</text>
<line x1="600.1" y1="76.4" x2="601.9" y2="76.4" stroke="#231f20" stroke-width="0.6"/>
<text x="598.6" y="78.75" text-anchor="end">20</text>
<text x="608.6" y="70.55" font-style="italic">D-loop3</text>
<text x="622.1" y="125.85" text-anchor="middle">Untreated</text>
<text x="664.8" y="125.85" text-anchor="middle">IFNγ 24 h</text>
<text x="574.4" y="95.2" text-anchor="middle" transform="rotate(-90 574.4 92.85)">Cytosolic mtDNA</text>
<text x="582.9" y="95.2" text-anchor="middle" transform="rotate(-90 582.9 92.85)">(relative fold change)</text>
<path d="M606 195V190.56H611.8V195" stroke="#231f20" stroke-width="0.6" fill="#fff"/>
<path d="M615.4 195V192.58H621.2V195" stroke="#231f20" stroke-width="0.6" fill="#fff"/>
<path d="M624.5 195V192.58H630.3V195" stroke="#231f20" stroke-width="0.6" fill="#fff"/>
<path d="M633.8 195V191.77H639.6V195" stroke="#231f20" stroke-width="0.6" fill="#fff"/>
<path d="M648.2 195V190.96H654V195" stroke="#231f20" stroke-width="0.6" fill="#fff"/>
<path d="M657.5 195V161.87H663.3V195" stroke="#231f20" stroke-width="0.6" fill="#fff"/>
<path d="M667 195V188.54H672.8V195" stroke="#231f20" stroke-width="0.6" fill="#fff"/>
<path d="M676 195V192.17H681.8V195" stroke="#231f20" stroke-width="0.6" fill="#fff"/>
<circle cx="607.3" cy="190.11" r="0.8" fill="none" stroke="#333333" stroke-width="0.55"/>
<circle cx="608.9" cy="190.56" r="0.8" fill="none" stroke="#333333" stroke-width="0.55"/>
<circle cx="610.5" cy="191" r="0.8" fill="none" stroke="#333333" stroke-width="0.55"/>
<line x1="608.9" y1="191.22" x2="608.9" y2="189.89" stroke="#333333" stroke-width="0.6"/>
<line x1="607.7" y1="189.89" x2="610.1" y2="189.89" stroke="#333333" stroke-width="0.6"/>
<circle cx="616.7" cy="192.33" r="0.8" fill="none" stroke="#2bb39a" stroke-width="0.55"/>
<circle cx="618.3" cy="192.58" r="0.8" fill="none" stroke="#2bb39a" stroke-width="0.55"/>
<circle cx="619.9" cy="192.82" r="0.8" fill="none" stroke="#2bb39a" stroke-width="0.55"/>
<line x1="618.3" y1="192.94" x2="618.3" y2="192.21" stroke="#2bb39a" stroke-width="0.6"/>
<line x1="617.1" y1="192.21" x2="619.5" y2="192.21" stroke="#2bb39a" stroke-width="0.6"/>
<circle cx="625.8" cy="192.33" r="0.8" fill="none" stroke="#f08a24" stroke-width="0.55"/>
<circle cx="627.4" cy="192.58" r="0.8" fill="none" stroke="#f08a24" stroke-width="0.55"/>
<circle cx="629" cy="192.82" r="0.8" fill="none" stroke="#f08a24" stroke-width="0.55"/>
<line x1="627.4" y1="192.94" x2="627.4" y2="192.21" stroke="#f08a24" stroke-width="0.6"/>
<line x1="626.2" y1="192.21" x2="628.6" y2="192.21" stroke="#f08a24" stroke-width="0.6"/>
<circle cx="635.1" cy="191.44" r="0.8" fill="none" stroke="#2f6ff0" stroke-width="0.55"/>
<circle cx="636.7" cy="191.77" r="0.8" fill="none" stroke="#2f6ff0" stroke-width="0.55"/>
<circle cx="638.3" cy="192.09" r="0.8" fill="none" stroke="#2f6ff0" stroke-width="0.55"/>
<line x1="636.7" y1="192.25" x2="636.7" y2="191.28" stroke="#2f6ff0" stroke-width="0.6"/>
<line x1="635.5" y1="191.28" x2="637.9" y2="191.28" stroke="#2f6ff0" stroke-width="0.6"/>
<circle cx="649.5" cy="190.56" r="0.8" fill="none" stroke="#333333" stroke-width="0.55"/>
<circle cx="651.1" cy="190.96" r="0.8" fill="none" stroke="#333333" stroke-width="0.55"/>
<circle cx="652.7" cy="191.36" r="0.8" fill="none" stroke="#333333" stroke-width="0.55"/>
<line x1="651.1" y1="191.57" x2="651.1" y2="190.35" stroke="#333333" stroke-width="0.6"/>
<line x1="649.9" y1="190.35" x2="652.3" y2="190.35" stroke="#333333" stroke-width="0.6"/>
<circle cx="659.6" cy="159.85" r="0.85" fill="#2bb39a"/>
<circle cx="660.4" cy="161.06" r="0.85" fill="#2bb39a"/>
<circle cx="661.2" cy="165.1" r="0.85" fill="#2bb39a"/>
<line x1="660.4" y1="163.49" x2="660.4" y2="160.26" stroke="#e0442a" stroke-width="0.6"/>
<line x1="658.8" y1="160.26" x2="662" y2="160.26" stroke="#e0442a" stroke-width="0.6"/>
<circle cx="668.3" cy="187.89" r="0.8" fill="none" stroke="#f08a24" stroke-width="0.55"/>
<circle cx="669.9" cy="188.54" r="0.8" fill="none" stroke="#f08a24" stroke-width="0.55"/>
<circle cx="671.5" cy="189.18" r="0.8" fill="none" stroke="#f08a24" stroke-width="0.55"/>
<line x1="669.9" y1="189.51" x2="669.9" y2="187.57" stroke="#f08a24" stroke-width="0.6"/>
<line x1="668.7" y1="187.57" x2="671.1" y2="187.57" stroke="#f08a24" stroke-width="0.6"/>
<circle cx="677.3" cy="191.89" r="0.8" fill="none" stroke="#2f6ff0" stroke-width="0.55"/>
<circle cx="678.9" cy="192.17" r="0.8" fill="none" stroke="#2f6ff0" stroke-width="0.55"/>
<circle cx="680.5" cy="192.45" r="0.8" fill="none" stroke="#2f6ff0" stroke-width="0.55"/>
<line x1="678.9" y1="192.6" x2="678.9" y2="191.75" stroke="#2f6ff0" stroke-width="0.6"/>
<line x1="677.7" y1="191.75" x2="680.1" y2="191.75" stroke="#2f6ff0" stroke-width="0.6"/>
<line x1="601.9" y1="195" x2="684" y2="195" stroke="#231f20" stroke-width="0.6"/>
<line x1="601.9" y1="154.3" x2="601.9" y2="195.3" stroke="#231f20" stroke-width="0.6"/>
<line x1="600.1" y1="195" x2="601.9" y2="195" stroke="#231f20" stroke-width="0.6"/>
<text x="598.6" y="197.35" text-anchor="end">0</text>
<line x1="600.1" y1="186.92" x2="601.9" y2="186.92" stroke="#231f20" stroke-width="0.6"/>
<text x="598.6" y="189.27" text-anchor="end">2</text>
<line x1="600.1" y1="178.84" x2="601.9" y2="178.84" stroke="#231f20" stroke-width="0.6"/>
<text x="598.6" y="181.19" text-anchor="end">4</text>
<line x1="600.1" y1="170.76" x2="601.9" y2="170.76" stroke="#231f20" stroke-width="0.6"/>
<text x="598.6" y="173.11" text-anchor="end">6</text>
<line x1="600.1" y1="162.68" x2="601.9" y2="162.68" stroke="#231f20" stroke-width="0.6"/>
<text x="598.6" y="165.03" text-anchor="end">8</text>
<line x1="600.1" y1="154.6" x2="601.9" y2="154.6" stroke="#231f20" stroke-width="0.6"/>
<text x="598.6" y="156.95" text-anchor="end">10</text>
<text x="608" y="153.75">mtCytb</text>
<text x="622.1" y="204.65" text-anchor="middle">Untreated</text>
<text x="664.8" y="204.65" text-anchor="middle">IFNγ 24 h</text>
<text x="574.4" y="173.35" text-anchor="middle" transform="rotate(-90 574.4 171)">Cytosolic mtDNA</text>
<text x="582.9" y="173.35" text-anchor="middle" transform="rotate(-90 582.9 171)">(relative fold change)</text>
<line x1="650.2" y1="71.7" x2="680.1" y2="71.7" stroke="#231f20" stroke-width="0.6"/>
<text x="665.15" y="69.65" text-anchor="middle">NS</text>
<line x1="660.4" y1="77.3" x2="679.2" y2="77.3" stroke="#231f20" stroke-width="0.6"/>
<text x="669.8" y="78.75" font-size="8.2" text-anchor="middle">***</text>
<line x1="650" y1="83.1" x2="660.4" y2="83.1" stroke="#231f20" stroke-width="0.6"/>
<text x="655.2" y="84.45" font-size="8.2" text-anchor="middle">***</text>
<line x1="668.2" y1="109" x2="679.8" y2="109" stroke="#231f20" stroke-width="0.6"/>
<text x="674" y="107.35" text-anchor="middle">NS</text>
<line x1="650.2" y1="144.1" x2="680.1" y2="144.1" stroke="#231f20" stroke-width="0.6"/>
<text x="665.15" y="142.05" text-anchor="middle">NS</text>
<line x1="660.4" y1="150.2" x2="679.2" y2="150.2" stroke="#231f20" stroke-width="0.6"/>
<text x="669.8" y="151.65" font-size="8.2" text-anchor="middle">***</text>
<line x1="650" y1="156.4" x2="660.4" y2="156.4" stroke="#231f20" stroke-width="0.6"/>
<text x="655.2" y="157.75" font-size="8.2" text-anchor="middle">***</text>
<line x1="668.2" y1="184.1" x2="679.8" y2="184.1" stroke="#231f20" stroke-width="0.6"/>
<text x="674" y="182.75" text-anchor="middle">NS</text>
<text x="-0.4" y="137.1" font-size="11.2" font-weight="bold" fill="#000" stroke="#000" stroke-width="0.35">e</text>
<path d="M35.5 203.5V199.05H42.1V203.5" stroke="#231f20" stroke-width="0.6" fill="#fff"/>
<path d="M45.3 203.5V167.88H51.9V203.5" stroke="#231f20" stroke-width="0.6" fill="#fff"/>
<path d="M55.2 203.5V199.73H61.8V203.5" stroke="#231f20" stroke-width="0.6" fill="#fff"/>
<path d="M65 203.5V199.05H71.6V203.5" stroke="#231f20" stroke-width="0.6" fill="#fff"/>
<path d="M74.9 203.5V200.07H81.5V203.5" stroke="#231f20" stroke-width="0.6" fill="#fff"/>
<path d="M84.7 203.5V171.99H91.3V203.5" stroke="#231f20" stroke-width="0.6" fill="#fff"/>
<circle cx="37.15" cy="199.73" r="1.1" fill="#333333"/>
<circle cx="38.25" cy="198.71" r="1.1" fill="#333333"/>
<circle cx="39.35" cy="197.68" r="1.1" fill="#333333"/>
<circle cx="40.45" cy="199.39" r="1.1" fill="#333333"/>
<line x1="38.8" y1="199.66" x2="38.8" y2="198.43" stroke="#e0442a" stroke-width="0.6"/>
<line x1="37.2" y1="198.43" x2="40.4" y2="198.43" stroke="#e0442a" stroke-width="0.6"/>
<circle cx="46.4" cy="174.73" r="1.1" fill="#2bb39a"/>
<circle cx="47.5" cy="167.19" r="1.1" fill="#2bb39a"/>
<circle cx="48.6" cy="164.46" r="1.1" fill="#2bb39a"/>
<circle cx="49.7" cy="167.88" r="1.1" fill="#2bb39a"/>
<circle cx="50.8" cy="169.25" r="1.1" fill="#2bb39a"/>
<line x1="48.6" y1="168.91" x2="48.6" y2="166.85" stroke="#e0442a" stroke-width="0.6"/>
<line x1="47" y1="166.85" x2="50.2" y2="166.85" stroke="#e0442a" stroke-width="0.6"/>
<circle cx="56.85" cy="200.07" r="1.1" fill="#f08a24"/>
<circle cx="57.95" cy="199.39" r="1.1" fill="#f08a24"/>
<circle cx="59.05" cy="199.73" r="1.1" fill="#f08a24"/>
<circle cx="60.15" cy="200.42" r="1.1" fill="#f08a24"/>
<line x1="58.5" y1="200.35" x2="58.5" y2="199.12" stroke="#e0442a" stroke-width="0.6"/>
<line x1="56.9" y1="199.12" x2="60.1" y2="199.12" stroke="#e0442a" stroke-width="0.6"/>
<circle cx="66.65" cy="200.07" r="1.1" fill="#2f6ff0"/>
<circle cx="67.75" cy="198.71" r="1.1" fill="#2f6ff0"/>
<circle cx="68.85" cy="196.65" r="1.1" fill="#2f6ff0"/>
<circle cx="69.95" cy="199.39" r="1.1" fill="#2f6ff0"/>
<line x1="68.3" y1="199.66" x2="68.3" y2="198.43" stroke="#e0442a" stroke-width="0.6"/>
<line x1="66.7" y1="198.43" x2="69.9" y2="198.43" stroke="#e0442a" stroke-width="0.6"/>
<circle cx="76.55" cy="201.44" r="1.1" fill="#e8a0c8"/>
<circle cx="77.65" cy="200.07" r="1.1" fill="#e8a0c8"/>
<circle cx="78.75" cy="198.02" r="1.1" fill="#e8a0c8"/>
<circle cx="79.85" cy="200.76" r="1.1" fill="#e8a0c8"/>
<line x1="78.2" y1="200.69" x2="78.2" y2="199.46" stroke="#e0442a" stroke-width="0.6"/>
<line x1="76.6" y1="199.46" x2="79.8" y2="199.46" stroke="#e0442a" stroke-width="0.6"/>
<circle cx="86.35" cy="174.73" r="1.1" fill="#86c8f0"/>
<circle cx="87.45" cy="170.62" r="1.1" fill="#86c8f0"/>
<circle cx="88.55" cy="168.56" r="1.1" fill="#86c8f0"/>
<circle cx="89.65" cy="172.68" r="1.1" fill="#86c8f0"/>
<line x1="88" y1="173.02" x2="88" y2="170.96" stroke="#e0442a" stroke-width="0.6"/>
<line x1="86.4" y1="170.96" x2="89.6" y2="170.96" stroke="#e0442a" stroke-width="0.6"/>
<line x1="31.5" y1="203.5" x2="93" y2="203.5" stroke="#231f20" stroke-width="0.6"/>
<line x1="31.5" y1="162.1" x2="31.5" y2="203.8" stroke="#231f20" stroke-width="0.6"/>
<line x1="29.7" y1="203.5" x2="31.5" y2="203.5" stroke="#231f20" stroke-width="0.6"/>
<text x="28.2" y="205.85" text-anchor="end">0</text>
<line x1="29.7" y1="189.8" x2="31.5" y2="189.8" stroke="#231f20" stroke-width="0.6"/>
<text x="28.2" y="192.15" text-anchor="end">20</text>
<line x1="29.7" y1="176.1" x2="31.5" y2="176.1" stroke="#231f20" stroke-width="0.6"/>
<text x="28.2" y="178.45" text-anchor="end">40</text>
<line x1="29.7" y1="162.4" x2="31.5" y2="162.4" stroke="#231f20" stroke-width="0.6"/>
<text x="28.2" y="164.75" text-anchor="end">60</text>
<line x1="48.2" y1="149.5" x2="90" y2="149.5" stroke="#231f20" stroke-width="0.6"/>
<text x="69.1" y="147.75" text-anchor="middle">NS</text>
<line x1="48.2" y1="155.5" x2="69.7" y2="155.5" stroke="#231f20" stroke-width="0.6"/>
<text x="58.95" y="157.05" font-size="8.2" text-anchor="middle">***</text>
<line x1="38.4" y1="161.5" x2="48.8" y2="161.5" stroke="#231f20" stroke-width="0.6"/>
<text x="43.6" y="162.85" font-size="8.2" text-anchor="middle">***</text>
<text x="63.1" y="211.75" text-anchor="middle">IFNγ 24 h</text>
<text x="13.4" y="185.15" text-anchor="middle" transform="rotate(-90 13.4 182.8)">IFNβ (pg ml<tspan font-size="4.09" dy="-2.2">−1</tspan><tspan dy="2.2">)</tspan></text>
<circle cx="100.9" cy="160.3" r="1.45" fill="#333333"/>
<text x="105.8" y="162.65">sgNTC + sgNTC</text>
<circle cx="100.9" cy="168.5" r="1.45" fill="#2bb39a"/>
<text x="105.8" y="170.85">sg<tspan font-style="italic">Vdac2</tspan> + sgNTC</text>
<circle cx="100.9" cy="176.7" r="1.45" fill="#f08a24"/>
<text x="105.8" y="179.05">sgNTC + sg<tspan font-style="italic">Bak1</tspan></text>
<circle cx="100.9" cy="184.9" r="1.45" fill="#2f6ff0"/>
<text x="105.8" y="187.25">sg<tspan font-style="italic">Vdac2</tspan> + sg<tspan font-style="italic">Bak1</tspan></text>
<circle cx="100.9" cy="193.1" r="1.45" fill="#e8a0c8"/>
<text x="105.8" y="195.45">sgNTC + sg<tspan font-style="italic">Bax</tspan></text>
<circle cx="100.9" cy="201.3" r="1.45" fill="#86c8f0"/>
<text x="105.8" y="203.65">sg<tspan font-style="italic">Vdac2</tspan> + sg<tspan font-style="italic">Bax</tspan></text>
<text x="198.6" y="136.9" font-size="11.2" font-weight="bold" fill="#000" stroke="#000" stroke-width="0.35">f</text>
<text x="249.6" y="136.15" text-anchor="middle">B16-OVA + IFNγ 24 h</text>
<rect x="215.3" y="138.2" width="17.18" height="4.8" fill="#000000"/>
<rect x="232.43" y="138.2" width="17.18" height="4.8" fill="#0f9a78"/>
<rect x="249.55" y="138.2" width="17.18" height="4.8" fill="#d2640e"/>
<rect x="266.68" y="138.2" width="17.18" height="4.8" fill="#0a32f0"/>
<rect x="215.3" y="143.3" width="5.76" height="2.05" fill="#bbb3f7"/>
<rect x="221.01" y="143.3" width="5.76" height="2.05" fill="#a297f6"/>
<rect x="226.72" y="143.3" width="5.76" height="2.05" fill="#9e93f5"/>
<rect x="232.43" y="143.3" width="5.76" height="2.05" fill="#f8997e"/>
<rect x="238.13" y="143.3" width="5.76" height="2.05" fill="#f9775e"/>
<rect x="243.84" y="143.3" width="5.76" height="2.05" fill="#f9765d"/>
<rect x="249.55" y="143.3" width="5.76" height="2.05" fill="#f2d5d6"/>
<rect x="255.26" y="143.3" width="5.76" height="2.05" fill="#f3cdcb"/>
<rect x="260.97" y="143.3" width="5.76" height="2.05" fill="#ebe9fa"/>
<rect x="266.68" y="143.3" width="5.76" height="2.05" fill="#e4e0f9"/>
<rect x="272.38" y="143.3" width="5.76" height="2.05" fill="#ddd9f9"/>
<rect x="278.09" y="143.3" width="5.76" height="2.05" fill="#9e93f6"/>
<rect x="215.3" y="145.3" width="5.76" height="2.05" fill="#d4cff8"/>
<rect x="221.01" y="145.3" width="5.76" height="2.05" fill="#c9c3f8"/>
<rect x="226.72" y="145.3" width="5.76" height="2.05" fill="#7464f3"/>
<rect x="232.43" y="145.3" width="5.76" height="2.05" fill="#f5b9ad"/>
<rect x="238.13" y="145.3" width="5.76" height="2.05" fill="#f8846a"/>
<rect x="243.84" y="145.3" width="5.76" height="2.05" fill="#f89176"/>
<rect x="249.55" y="145.3" width="5.76" height="2.05" fill="#f3d2d1"/>
<rect x="255.26" y="145.3" width="5.76" height="2.05" fill="#f0ebf6"/>
<rect x="260.97" y="145.3" width="5.76" height="2.05" fill="#f1e1e7"/>
<rect x="266.68" y="145.3" width="5.76" height="2.05" fill="#c8c1f8"/>
<rect x="272.38" y="145.3" width="5.76" height="2.05" fill="#e4e0f9"/>
<rect x="278.09" y="145.3" width="5.76" height="2.05" fill="#cbc5f8"/>
<rect x="215.3" y="147.31" width="5.76" height="2.05" fill="#eceafa"/>
<rect x="221.01" y="147.31" width="5.76" height="2.05" fill="#c2bbf7"/>
<rect x="226.72" y="147.31" width="5.76" height="2.05" fill="#b6adf7"/>
<rect x="232.43" y="147.31" width="5.76" height="2.05" fill="#f5b7a9"/>
<rect x="238.13" y="147.31" width="5.76" height="2.05" fill="#f7a58f"/>
<rect x="243.84" y="147.31" width="5.76" height="2.05" fill="#f5b8ac"/>
<rect x="249.55" y="147.31" width="5.76" height="2.05" fill="#f1e4eb"/>
<rect x="255.26" y="147.31" width="5.76" height="2.05" fill="#f2d8da"/>
<rect x="260.97" y="147.31" width="5.76" height="2.05" fill="#f1e6ee"/>
<rect x="266.68" y="147.31" width="5.76" height="2.05" fill="#c2baf7"/>
<rect x="272.38" y="147.31" width="5.76" height="2.05" fill="#beb6f7"/>
<rect x="278.09" y="147.31" width="5.76" height="2.05" fill="#c1b9f7"/>
<rect x="215.3" y="149.31" width="5.76" height="2.05" fill="#c6c0f8"/>
<rect x="221.01" y="149.31" width="5.76" height="2.05" fill="#d5d0f9"/>
<rect x="226.72" y="149.31" width="5.76" height="2.05" fill="#d6d1f9"/>
<rect x="232.43" y="149.31" width="5.76" height="2.05" fill="#f5b4a5"/>
<rect x="238.13" y="149.31" width="5.76" height="2.05" fill="#f9644d"/>
<rect x="243.84" y="149.31" width="5.76" height="2.05" fill="#f9543f"/>
<rect x="249.55" y="149.31" width="5.76" height="2.05" fill="#a59bf6"/>
<rect x="255.26" y="149.31" width="5.76" height="2.05" fill="#e4e0f9"/>
<rect x="260.97" y="149.31" width="5.76" height="2.05" fill="#e7e4f9"/>
<rect x="266.68" y="149.31" width="5.76" height="2.05" fill="#b3aaf7"/>
<rect x="272.38" y="149.31" width="5.76" height="2.05" fill="#dcd7f9"/>
<rect x="278.09" y="149.31" width="5.76" height="2.05" fill="#cbc5f8"/>
<rect x="215.3" y="151.31" width="5.76" height="2.05" fill="#bbb3f7"/>
<rect x="221.01" y="151.31" width="5.76" height="2.05" fill="#bdb5f7"/>
<rect x="226.72" y="151.31" width="5.76" height="2.05" fill="#c6bff8"/>
<rect x="232.43" y="151.31" width="5.76" height="2.05" fill="#f96750"/>
<rect x="238.13" y="151.31" width="5.76" height="2.05" fill="#f9765d"/>
<rect x="243.84" y="151.31" width="5.76" height="2.05" fill="#f89b82"/>
<rect x="249.55" y="151.31" width="5.76" height="2.05" fill="#998ef5"/>
<rect x="255.26" y="151.31" width="5.76" height="2.05" fill="#f1e1e7"/>
<rect x="260.97" y="151.31" width="5.76" height="2.05" fill="#ccc6f8"/>
<rect x="266.68" y="151.31" width="5.76" height="2.05" fill="#b8b0f7"/>
<rect x="272.38" y="151.31" width="5.76" height="2.05" fill="#b0a7f6"/>
<rect x="278.09" y="151.31" width="5.76" height="2.05" fill="#b2a9f7"/>
<rect x="215.3" y="153.31" width="5.76" height="2.05" fill="#d4cff8"/>
<rect x="221.01" y="153.31" width="5.76" height="2.05" fill="#5341f2"/>
<rect x="226.72" y="153.31" width="5.76" height="2.05" fill="#7262f3"/>
<rect x="232.43" y="153.31" width="5.76" height="2.05" fill="#f96952"/>
<rect x="238.13" y="153.31" width="5.76" height="2.05" fill="#fa3625"/>
<rect x="243.84" y="153.31" width="5.76" height="2.05" fill="#f89377"/>
<rect x="249.55" y="153.31" width="5.76" height="2.05" fill="#7465f3"/>
<rect x="255.26" y="153.31" width="5.76" height="2.05" fill="#7f70f4"/>
<rect x="260.97" y="153.31" width="5.76" height="2.05" fill="#e6e3f9"/>
<rect x="266.68" y="153.31" width="5.76" height="2.05" fill="#b1a8f7"/>
<rect x="272.38" y="153.31" width="5.76" height="2.05" fill="#9f94f6"/>
<rect x="278.09" y="153.31" width="5.76" height="2.05" fill="#e6e3f9"/>
<rect x="215.3" y="155.32" width="5.76" height="2.05" fill="#d8d3f9"/>
<rect x="221.01" y="155.32" width="5.76" height="2.05" fill="#aba1f6"/>
<rect x="226.72" y="155.32" width="5.76" height="2.05" fill="#bbb3f7"/>
<rect x="232.43" y="155.32" width="5.76" height="2.05" fill="#fa2414"/>
<rect x="238.13" y="155.32" width="5.76" height="2.05" fill="#fa2414"/>
<rect x="243.84" y="155.32" width="5.76" height="2.05" fill="#f96b53"/>
<rect x="249.55" y="155.32" width="5.76" height="2.05" fill="#d6d1f9"/>
<rect x="255.26" y="155.32" width="5.76" height="2.05" fill="#6d5cf3"/>
<rect x="260.97" y="155.32" width="5.76" height="2.05" fill="#f4bfb6"/>
<rect x="266.68" y="155.32" width="5.76" height="2.05" fill="#e5e2f9"/>
<rect x="272.38" y="155.32" width="5.76" height="2.05" fill="#d0caf8"/>
<rect x="278.09" y="155.32" width="5.76" height="2.05" fill="#9a8ff5"/>
<rect x="215.3" y="157.32" width="5.76" height="2.05" fill="#d2cdf8"/>
<rect x="221.01" y="157.32" width="5.76" height="2.05" fill="#513ff2"/>
<rect x="226.72" y="157.32" width="5.76" height="2.05" fill="#a298f6"/>
<rect x="232.43" y="157.32" width="5.76" height="2.05" fill="#fa2414"/>
<rect x="238.13" y="157.32" width="5.76" height="2.05" fill="#f89175"/>
<rect x="243.84" y="157.32" width="5.76" height="2.05" fill="#f94c38"/>
<rect x="249.55" y="157.32" width="5.76" height="2.05" fill="#f1dfe4"/>
<rect x="255.26" y="157.32" width="5.76" height="2.05" fill="#aea4f6"/>
<rect x="260.97" y="157.32" width="5.76" height="2.05" fill="#f2d3d3"/>
<rect x="266.68" y="157.32" width="5.76" height="2.05" fill="#f0ebf6"/>
<rect x="272.38" y="157.32" width="5.76" height="2.05" fill="#d8d3f9"/>
<rect x="278.09" y="157.32" width="5.76" height="2.05" fill="#e2dff9"/>
<rect x="215.3" y="159.32" width="5.76" height="2.05" fill="#a49af6"/>
<rect x="221.01" y="159.32" width="5.76" height="2.05" fill="#a399f6"/>
<rect x="226.72" y="159.32" width="5.76" height="2.05" fill="#9b90f5"/>
<rect x="232.43" y="159.32" width="5.76" height="2.05" fill="#f87d64"/>
<rect x="238.13" y="159.32" width="5.76" height="2.05" fill="#f95d47"/>
<rect x="243.84" y="159.32" width="5.76" height="2.05" fill="#f94733"/>
<rect x="249.55" y="159.32" width="5.76" height="2.05" fill="#e6e3f9"/>
<rect x="255.26" y="159.32" width="5.76" height="2.05" fill="#8d80f5"/>
<rect x="260.97" y="159.32" width="5.76" height="2.05" fill="#edeafa"/>
<rect x="266.68" y="159.32" width="5.76" height="2.05" fill="#dedaf9"/>
<rect x="272.38" y="159.32" width="5.76" height="2.05" fill="#cdc8f8"/>
<rect x="278.09" y="159.32" width="5.76" height="2.05" fill="#f3cfcd"/>
<rect x="215.3" y="161.33" width="5.76" height="2.05" fill="#c0b9f7"/>
<rect x="221.01" y="161.33" width="5.76" height="2.05" fill="#5a48f2"/>
<rect x="226.72" y="161.33" width="5.76" height="2.05" fill="#6c5bf3"/>
<rect x="232.43" y="161.33" width="5.76" height="2.05" fill="#f96c54"/>
<rect x="238.13" y="161.33" width="5.76" height="2.05" fill="#f94632"/>
<rect x="243.84" y="161.33" width="5.76" height="2.05" fill="#f96b53"/>
<rect x="249.55" y="161.33" width="5.76" height="2.05" fill="#f1e0e6"/>
<rect x="255.26" y="161.33" width="5.76" height="2.05" fill="#c4bdf8"/>
<rect x="260.97" y="161.33" width="5.76" height="2.05" fill="#edeafa"/>
<rect x="266.68" y="161.33" width="5.76" height="2.05" fill="#edeafa"/>
<rect x="272.38" y="161.33" width="5.76" height="2.05" fill="#cdc7f8"/>
<rect x="278.09" y="161.33" width="5.76" height="2.05" fill="#f1e6ee"/>
<rect x="215.3" y="163.33" width="5.76" height="2.05" fill="#c0b9f7"/>
<rect x="221.01" y="163.33" width="5.76" height="2.05" fill="#b4abf7"/>
<rect x="226.72" y="163.33" width="5.76" height="2.05" fill="#b3aaf7"/>
<rect x="232.43" y="163.33" width="5.76" height="2.05" fill="#fa2414"/>
<rect x="238.13" y="163.33" width="5.76" height="2.05" fill="#fa3c2a"/>
<rect x="243.84" y="163.33" width="5.76" height="2.05" fill="#f89377"/>
<rect x="249.55" y="163.33" width="5.76" height="2.05" fill="#e8e5fa"/>
<rect x="255.26" y="163.33" width="5.76" height="2.05" fill="#d4cff8"/>
<rect x="260.97" y="163.33" width="5.76" height="2.05" fill="#f3cdca"/>
<rect x="266.68" y="163.33" width="5.76" height="2.05" fill="#d6d1f9"/>
<rect x="272.38" y="163.33" width="5.76" height="2.05" fill="#dfdbf9"/>
<rect x="278.09" y="163.33" width="5.76" height="2.05" fill="#f5b3a4"/>
<rect x="215.3" y="165.33" width="5.76" height="2.05" fill="#4d39f1"/>
<rect x="221.01" y="165.33" width="5.76" height="2.05" fill="#8173f4"/>
<rect x="226.72" y="165.33" width="5.76" height="2.05" fill="#877af4"/>
<rect x="232.43" y="165.33" width="5.76" height="2.05" fill="#f96952"/>
<rect x="238.13" y="165.33" width="5.76" height="2.05" fill="#f7a48e"/>
<rect x="243.84" y="165.33" width="5.76" height="2.05" fill="#f5b8ab"/>
<rect x="249.55" y="165.33" width="5.76" height="2.05" fill="#f1e2e9"/>
<rect x="255.26" y="165.33" width="5.76" height="2.05" fill="#c7c0f8"/>
<rect x="260.97" y="165.33" width="5.76" height="2.05" fill="#f97058"/>
<rect x="266.68" y="165.33" width="5.76" height="2.05" fill="#e2def9"/>
<rect x="272.38" y="165.33" width="5.76" height="2.05" fill="#c8c2f8"/>
<rect x="278.09" y="165.33" width="5.76" height="2.05" fill="#f1e8f1"/>
<rect x="215.3" y="167.33" width="5.76" height="2.05" fill="#796af4"/>
<rect x="221.01" y="167.33" width="5.76" height="2.05" fill="#341ef0"/>
<rect x="226.72" y="167.33" width="5.76" height="2.05" fill="#8173f4"/>
<rect x="232.43" y="167.33" width="5.76" height="2.05" fill="#fa402d"/>
<rect x="238.13" y="167.33" width="5.76" height="2.05" fill="#f4bfb6"/>
<rect x="243.84" y="167.33" width="5.76" height="2.05" fill="#f5b7aa"/>
<rect x="249.55" y="167.33" width="5.76" height="2.05" fill="#f5b8ac"/>
<rect x="255.26" y="167.33" width="5.76" height="2.05" fill="#f1e5ed"/>
<rect x="260.97" y="167.33" width="5.76" height="2.05" fill="#f9765d"/>
<rect x="266.68" y="167.33" width="5.76" height="2.05" fill="#a499f6"/>
<rect x="272.38" y="167.33" width="5.76" height="2.05" fill="#c5bef8"/>
<rect x="278.09" y="167.33" width="5.76" height="2.05" fill="#d9d5f9"/>
<rect x="215.3" y="169.34" width="5.76" height="2.05" fill="#c9c3f8"/>
<rect x="221.01" y="169.34" width="5.76" height="2.05" fill="#341ef0"/>
<rect x="226.72" y="169.34" width="5.76" height="2.05" fill="#ccc6f8"/>
<rect x="232.43" y="169.34" width="5.76" height="2.05" fill="#f88d72"/>
<rect x="238.13" y="169.34" width="5.76" height="2.05" fill="#f9634c"/>
<rect x="243.84" y="169.34" width="5.76" height="2.05" fill="#f1e2e8"/>
<rect x="249.55" y="169.34" width="5.76" height="2.05" fill="#f3cbc7"/>
<rect x="255.26" y="169.34" width="5.76" height="2.05" fill="#f5baae"/>
<rect x="260.97" y="169.34" width="5.76" height="2.05" fill="#f3cac6"/>
<rect x="266.68" y="169.34" width="5.76" height="2.05" fill="#c6c0f8"/>
<rect x="272.38" y="169.34" width="5.76" height="2.05" fill="#e9e6fa"/>
<rect x="278.09" y="169.34" width="5.76" height="2.05" fill="#dcd8f9"/>
<rect x="215.3" y="171.34" width="5.76" height="2.05" fill="#ebe8fa"/>
<rect x="221.01" y="171.34" width="5.76" height="2.05" fill="#9084f5"/>
<rect x="226.72" y="171.34" width="5.76" height="2.05" fill="#b1a8f6"/>
<rect x="232.43" y="171.34" width="5.76" height="2.05" fill="#fa2414"/>
<rect x="238.13" y="171.34" width="5.76" height="2.05" fill="#f79d84"/>
<rect x="243.84" y="171.34" width="5.76" height="2.05" fill="#f8997f"/>
<rect x="249.55" y="171.34" width="5.76" height="2.05" fill="#f0e9f2"/>
<rect x="255.26" y="171.34" width="5.76" height="2.05" fill="#f2dadd"/>
<rect x="260.97" y="171.34" width="5.76" height="2.05" fill="#f4c5bf"/>
<rect x="266.68" y="171.34" width="5.76" height="2.05" fill="#d7d2f9"/>
<rect x="272.38" y="171.34" width="5.76" height="2.05" fill="#f0eaf4"/>
<rect x="278.09" y="171.34" width="5.76" height="2.05" fill="#a89ef6"/>
<rect x="215.3" y="173.34" width="5.76" height="2.05" fill="#c3bcf7"/>
<rect x="221.01" y="173.34" width="5.76" height="2.05" fill="#5441f2"/>
<rect x="226.72" y="173.34" width="5.76" height="2.05" fill="#6150f2"/>
<rect x="232.43" y="173.34" width="5.76" height="2.05" fill="#f79e85"/>
<rect x="238.13" y="173.34" width="5.76" height="2.05" fill="#f96750"/>
<rect x="243.84" y="173.34" width="5.76" height="2.05" fill="#f79f87"/>
<rect x="249.55" y="173.34" width="5.76" height="2.05" fill="#f7a28b"/>
<rect x="255.26" y="173.34" width="5.76" height="2.05" fill="#cac4f8"/>
<rect x="260.97" y="173.34" width="5.76" height="2.05" fill="#f1e5ed"/>
<rect x="266.68" y="173.34" width="5.76" height="2.05" fill="#b2a9f7"/>
<rect x="272.38" y="173.34" width="5.76" height="2.05" fill="#f1dfe4"/>
<rect x="278.09" y="173.34" width="5.76" height="2.05" fill="#f1e8f1"/>
<rect x="215.3" y="175.35" width="5.76" height="2.05" fill="#d9d5f9"/>
<rect x="221.01" y="175.35" width="5.76" height="2.05" fill="#9b90f5"/>
<rect x="226.72" y="175.35" width="5.76" height="2.05" fill="#6e5ef3"/>
<rect x="232.43" y="175.35" width="5.76" height="2.05" fill="#f0edf9"/>
<rect x="238.13" y="175.35" width="5.76" height="2.05" fill="#fa3b29"/>
<rect x="243.84" y="175.35" width="5.76" height="2.05" fill="#f5bbb0"/>
<rect x="249.55" y="175.35" width="5.76" height="2.05" fill="#f1e6ef"/>
<rect x="255.26" y="175.35" width="5.76" height="2.05" fill="#e7e4f9"/>
<rect x="260.97" y="175.35" width="5.76" height="2.05" fill="#f1e0e6"/>
<rect x="266.68" y="175.35" width="5.76" height="2.05" fill="#f1e6ee"/>
<rect x="272.38" y="175.35" width="5.76" height="2.05" fill="#c7c0f8"/>
<rect x="278.09" y="175.35" width="5.76" height="2.05" fill="#f3cfcd"/>
<rect x="215.3" y="177.35" width="5.76" height="2.05" fill="#f3cecb"/>
<rect x="221.01" y="177.35" width="5.76" height="2.05" fill="#bbb3f7"/>
<rect x="226.72" y="177.35" width="5.76" height="2.05" fill="#9589f5"/>
<rect x="232.43" y="177.35" width="5.76" height="2.05" fill="#f95540"/>
<rect x="238.13" y="177.35" width="5.76" height="2.05" fill="#fa2c1b"/>
<rect x="243.84" y="177.35" width="5.76" height="2.05" fill="#f8896e"/>
<rect x="249.55" y="177.35" width="5.76" height="2.05" fill="#f7a38d"/>
<rect x="255.26" y="177.35" width="5.76" height="2.05" fill="#dad5f9"/>
<rect x="260.97" y="177.35" width="5.76" height="2.05" fill="#8b7ef4"/>
<rect x="266.68" y="177.35" width="5.76" height="2.05" fill="#d9d4f9"/>
<rect x="272.38" y="177.35" width="5.76" height="2.05" fill="#8c80f5"/>
<rect x="278.09" y="177.35" width="5.76" height="2.05" fill="#f3d1cf"/>
<rect x="215.3" y="179.35" width="5.76" height="2.05" fill="#cbc5f8"/>
<rect x="221.01" y="179.35" width="5.76" height="2.05" fill="#bab3f7"/>
<rect x="226.72" y="179.35" width="5.76" height="2.05" fill="#c7c0f8"/>
<rect x="232.43" y="179.35" width="5.76" height="2.05" fill="#f9523e"/>
<rect x="238.13" y="179.35" width="5.76" height="2.05" fill="#fa2414"/>
<rect x="243.84" y="179.35" width="5.76" height="2.05" fill="#f89277"/>
<rect x="249.55" y="179.35" width="5.76" height="2.05" fill="#f8987c"/>
<rect x="255.26" y="179.35" width="5.76" height="2.05" fill="#f5bcb1"/>
<rect x="260.97" y="179.35" width="5.76" height="2.05" fill="#f2dde2"/>
<rect x="266.68" y="179.35" width="5.76" height="2.05" fill="#c2bbf7"/>
<rect x="272.38" y="179.35" width="5.76" height="2.05" fill="#d5d0f9"/>
<rect x="278.09" y="179.35" width="5.76" height="2.05" fill="#b0a7f6"/>
<rect x="215.3" y="181.35" width="5.76" height="2.05" fill="#5341f2"/>
<rect x="221.01" y="181.35" width="5.76" height="2.05" fill="#c4bdf8"/>
<rect x="226.72" y="181.35" width="5.76" height="2.05" fill="#7161f3"/>
<rect x="232.43" y="181.35" width="5.76" height="2.05" fill="#f9775e"/>
<rect x="238.13" y="181.35" width="5.76" height="2.05" fill="#f95d47"/>
<rect x="243.84" y="181.35" width="5.76" height="2.05" fill="#f5b4a6"/>
<rect x="249.55" y="181.35" width="5.76" height="2.05" fill="#f1e1e8"/>
<rect x="255.26" y="181.35" width="5.76" height="2.05" fill="#f2d6d7"/>
<rect x="260.97" y="181.35" width="5.76" height="2.05" fill="#f8997f"/>
<rect x="266.68" y="181.35" width="5.76" height="2.05" fill="#cfc9f8"/>
<rect x="272.38" y="181.35" width="5.76" height="2.05" fill="#e7e4fa"/>
<rect x="278.09" y="181.35" width="5.76" height="2.05" fill="#e6e3f9"/>
<rect x="215.3" y="183.36" width="5.76" height="2.05" fill="#4b37f1"/>
<rect x="221.01" y="183.36" width="5.76" height="2.05" fill="#a096f6"/>
<rect x="226.72" y="183.36" width="5.76" height="2.05" fill="#b8b0f7"/>
<rect x="232.43" y="183.36" width="5.76" height="2.05" fill="#f4bfb5"/>
<rect x="238.13" y="183.36" width="5.76" height="2.05" fill="#f8846a"/>
<rect x="243.84" y="183.36" width="5.76" height="2.05" fill="#f88268"/>
<rect x="249.55" y="183.36" width="5.76" height="2.05" fill="#f4c0b6"/>
<rect x="255.26" y="183.36" width="5.76" height="2.05" fill="#f0ecf8"/>
<rect x="260.97" y="183.36" width="5.76" height="2.05" fill="#f6ab98"/>
<rect x="266.68" y="183.36" width="5.76" height="2.05" fill="#d9d4f9"/>
<rect x="272.38" y="183.36" width="5.76" height="2.05" fill="#b8b0f7"/>
<rect x="278.09" y="183.36" width="5.76" height="2.05" fill="#aba1f6"/>
<rect x="215.3" y="185.36" width="5.76" height="2.05" fill="#9b90f5"/>
<rect x="221.01" y="185.36" width="5.76" height="2.05" fill="#8173f4"/>
<rect x="226.72" y="185.36" width="5.76" height="2.05" fill="#8071f4"/>
<rect x="232.43" y="185.36" width="5.76" height="2.05" fill="#f4c1b8"/>
<rect x="238.13" y="185.36" width="5.76" height="2.05" fill="#f3c8c3"/>
<rect x="243.84" y="185.36" width="5.76" height="2.05" fill="#f6a995"/>
<rect x="249.55" y="185.36" width="5.76" height="2.05" fill="#d4cff8"/>
<rect x="255.26" y="185.36" width="5.76" height="2.05" fill="#f1e5ed"/>
<rect x="260.97" y="185.36" width="5.76" height="2.05" fill="#a297f6"/>
<rect x="266.68" y="185.36" width="5.76" height="2.05" fill="#e2dff9"/>
<rect x="272.38" y="185.36" width="5.76" height="2.05" fill="#b4abf7"/>
<rect x="278.09" y="185.36" width="5.76" height="2.05" fill="#7869f4"/>
<rect x="215.3" y="187.36" width="5.76" height="2.05" fill="#aba1f6"/>
<rect x="221.01" y="187.36" width="5.76" height="2.05" fill="#4b38f1"/>
<rect x="226.72" y="187.36" width="5.76" height="2.05" fill="#8578f4"/>
<rect x="232.43" y="187.36" width="5.76" height="2.05" fill="#f9735a"/>
<rect x="238.13" y="187.36" width="5.76" height="2.05" fill="#f89a7f"/>
<rect x="243.84" y="187.36" width="5.76" height="2.05" fill="#f9725a"/>
<rect x="249.55" y="187.36" width="5.76" height="2.05" fill="#f2d7d8"/>
<rect x="255.26" y="187.36" width="5.76" height="2.05" fill="#f2d4d4"/>
<rect x="260.97" y="187.36" width="5.76" height="2.05" fill="#d3cdf8"/>
<rect x="266.68" y="187.36" width="5.76" height="2.05" fill="#f3d2d1"/>
<rect x="272.38" y="187.36" width="5.76" height="2.05" fill="#ddd8f9"/>
<rect x="278.09" y="187.36" width="5.76" height="2.05" fill="#c0b9f7"/>
<rect x="215.3" y="189.37" width="5.76" height="2.05" fill="#a49af6"/>
<rect x="221.01" y="189.37" width="5.76" height="2.05" fill="#8a7df4"/>
<rect x="226.72" y="189.37" width="5.76" height="2.05" fill="#5f4df2"/>
<rect x="232.43" y="189.37" width="5.76" height="2.05" fill="#f6b1a2"/>
<rect x="238.13" y="189.37" width="5.76" height="2.05" fill="#f9533e"/>
<rect x="243.84" y="189.37" width="5.76" height="2.05" fill="#dad5f9"/>
<rect x="249.55" y="189.37" width="5.76" height="2.05" fill="#f3cac6"/>
<rect x="255.26" y="189.37" width="5.76" height="2.05" fill="#f9745c"/>
<rect x="260.97" y="189.37" width="5.76" height="2.05" fill="#b6aef7"/>
<rect x="266.68" y="189.37" width="5.76" height="2.05" fill="#f2d7d8"/>
<rect x="272.38" y="189.37" width="5.76" height="2.05" fill="#f4bfb6"/>
<rect x="278.09" y="189.37" width="5.76" height="2.05" fill="#c9c2f8"/>
<rect x="215.3" y="191.37" width="5.76" height="2.05" fill="#d0cbf8"/>
<rect x="221.01" y="191.37" width="5.76" height="2.05" fill="#8476f4"/>
<rect x="226.72" y="191.37" width="5.76" height="2.05" fill="#9488f5"/>
<rect x="232.43" y="191.37" width="5.76" height="2.05" fill="#f97058"/>
<rect x="238.13" y="191.37" width="5.76" height="2.05" fill="#fa2b1b"/>
<rect x="243.84" y="191.37" width="5.76" height="2.05" fill="#f3c8c3"/>
<rect x="249.55" y="191.37" width="5.76" height="2.05" fill="#f1e5ed"/>
<rect x="255.26" y="191.37" width="5.76" height="2.05" fill="#ece9fa"/>
<rect x="260.97" y="191.37" width="5.76" height="2.05" fill="#c0b8f7"/>
<rect x="266.68" y="191.37" width="5.76" height="2.05" fill="#f3d1d0"/>
<rect x="272.38" y="191.37" width="5.76" height="2.05" fill="#f1e6ee"/>
<rect x="278.09" y="191.37" width="5.76" height="2.05" fill="#b5acf7"/>
<rect x="215.3" y="193.37" width="5.76" height="2.05" fill="#f2d4d5"/>
<rect x="221.01" y="193.37" width="5.76" height="2.05" fill="#b5adf7"/>
<rect x="226.72" y="193.37" width="5.76" height="2.05" fill="#aaa1f6"/>
<rect x="232.43" y="193.37" width="5.76" height="2.05" fill="#ece9fa"/>
<rect x="238.13" y="193.37" width="5.76" height="2.05" fill="#f94330"/>
<rect x="243.84" y="193.37" width="5.76" height="2.05" fill="#f5b2a2"/>
<rect x="249.55" y="193.37" width="5.76" height="2.05" fill="#f8967a"/>
<rect x="255.26" y="193.37" width="5.76" height="2.05" fill="#f1e5ed"/>
<rect x="260.97" y="193.37" width="5.76" height="2.05" fill="#d0caf8"/>
<rect x="266.68" y="193.37" width="5.76" height="2.05" fill="#f2dde2"/>
<rect x="272.38" y="193.37" width="5.76" height="2.05" fill="#a69bf6"/>
<rect x="278.09" y="193.37" width="5.76" height="2.05" fill="#e9e6fa"/>
<rect x="215.3" y="195.37" width="5.76" height="2.05" fill="#c4bdf8"/>
<rect x="221.01" y="195.37" width="5.76" height="2.05" fill="#e2def9"/>
<rect x="226.72" y="195.37" width="5.76" height="2.05" fill="#edeafa"/>
<rect x="232.43" y="195.37" width="5.76" height="2.05" fill="#f1dfe5"/>
<rect x="238.13" y="195.37" width="5.76" height="2.05" fill="#f97058"/>
<rect x="243.84" y="195.37" width="5.76" height="2.05" fill="#f8977b"/>
<rect x="249.55" y="195.37" width="5.76" height="2.05" fill="#f5bbb0"/>
<rect x="255.26" y="195.37" width="5.76" height="2.05" fill="#dcd7f9"/>
<rect x="260.97" y="195.37" width="5.76" height="2.05" fill="#b3aaf7"/>
<rect x="266.68" y="195.37" width="5.76" height="2.05" fill="#f7a38e"/>
<rect x="272.38" y="195.37" width="5.76" height="2.05" fill="#e3dff9"/>
<rect x="278.09" y="195.37" width="5.76" height="2.05" fill="#b8b0f7"/>
<rect x="215.3" y="197.38" width="5.76" height="2.05" fill="#d7d3f9"/>
<rect x="221.01" y="197.38" width="5.76" height="2.05" fill="#cec8f8"/>
<rect x="226.72" y="197.38" width="5.76" height="2.05" fill="#edebfa"/>
<rect x="232.43" y="197.38" width="5.76" height="2.05" fill="#f8997e"/>
<rect x="238.13" y="197.38" width="5.76" height="2.05" fill="#f5b2a3"/>
<rect x="243.84" y="197.38" width="5.76" height="2.05" fill="#f6b0a0"/>
<rect x="249.55" y="197.38" width="5.76" height="2.05" fill="#afa6f6"/>
<rect x="255.26" y="197.38" width="5.76" height="2.05" fill="#c1baf7"/>
<rect x="260.97" y="197.38" width="5.76" height="2.05" fill="#cac4f8"/>
<rect x="266.68" y="197.38" width="5.76" height="2.05" fill="#f3c9c4"/>
<rect x="272.38" y="197.38" width="5.76" height="2.05" fill="#c5bef8"/>
<rect x="278.09" y="197.38" width="5.76" height="2.05" fill="#c5bef8"/>
<rect x="215.3" y="199.38" width="5.76" height="2.05" fill="#d4cff8"/>
<rect x="221.01" y="199.38" width="5.76" height="2.05" fill="#d9d4f9"/>
<rect x="226.72" y="199.38" width="5.76" height="2.05" fill="#d9d4f9"/>
<rect x="232.43" y="199.38" width="5.76" height="2.05" fill="#f88469"/>
<rect x="238.13" y="199.38" width="5.76" height="2.05" fill="#f95b45"/>
<rect x="243.84" y="199.38" width="5.76" height="2.05" fill="#f79e86"/>
<rect x="249.55" y="199.38" width="5.76" height="2.05" fill="#b4abf7"/>
<rect x="255.26" y="199.38" width="5.76" height="2.05" fill="#bab2f7"/>
<rect x="260.97" y="199.38" width="5.76" height="2.05" fill="#d7d2f9"/>
<rect x="266.68" y="199.38" width="5.76" height="2.05" fill="#eceafa"/>
<rect x="272.38" y="199.38" width="5.76" height="2.05" fill="#d4cff8"/>
<rect x="278.09" y="199.38" width="5.76" height="2.05" fill="#cfc9f8"/>
<rect x="215.3" y="201.38" width="5.76" height="2.05" fill="#bfb7f7"/>
<rect x="221.01" y="201.38" width="5.76" height="2.05" fill="#988cf5"/>
<rect x="226.72" y="201.38" width="5.76" height="2.05" fill="#d3cdf8"/>
<rect x="232.43" y="201.38" width="5.76" height="2.05" fill="#fa3e2b"/>
<rect x="238.13" y="201.38" width="5.76" height="2.05" fill="#f94935"/>
<rect x="243.84" y="201.38" width="5.76" height="2.05" fill="#f7a691"/>
<rect x="249.55" y="201.38" width="5.76" height="2.05" fill="#e9e6fa"/>
<rect x="255.26" y="201.38" width="5.76" height="2.05" fill="#aaa0f6"/>
<rect x="260.97" y="201.38" width="5.76" height="2.05" fill="#8a7df4"/>
<rect x="266.68" y="201.38" width="5.76" height="2.05" fill="#e2dff9"/>
<rect x="272.38" y="201.38" width="5.76" height="2.05" fill="#b7aff7"/>
<rect x="278.09" y="201.38" width="5.76" height="2.05" fill="#ebe9fa"/>
<rect x="215.3" y="203.39" width="5.76" height="2.05" fill="#341ef0"/>
<rect x="221.01" y="203.39" width="5.76" height="2.05" fill="#5f4df2"/>
<rect x="226.72" y="203.39" width="5.76" height="2.05" fill="#dfdbf9"/>
<rect x="232.43" y="203.39" width="5.76" height="2.05" fill="#f88066"/>
<rect x="238.13" y="203.39" width="5.76" height="2.05" fill="#f5b2a2"/>
<rect x="243.84" y="203.39" width="5.76" height="2.05" fill="#f1dee2"/>
<rect x="249.55" y="203.39" width="5.76" height="2.05" fill="#f2d6d8"/>
<rect x="255.26" y="203.39" width="5.76" height="2.05" fill="#dcd8f9"/>
<rect x="260.97" y="203.39" width="5.76" height="2.05" fill="#c5bef8"/>
<rect x="266.68" y="203.39" width="5.76" height="2.05" fill="#f3ccc8"/>
<rect x="272.38" y="203.39" width="5.76" height="2.05" fill="#dfdcf9"/>
<rect x="278.09" y="203.39" width="5.76" height="2.05" fill="#dfdbf9"/>
<rect x="215.3" y="205.39" width="5.76" height="2.05" fill="#c3bcf7"/>
<rect x="221.01" y="205.39" width="5.76" height="2.05" fill="#bdb5f7"/>
<rect x="226.72" y="205.39" width="5.76" height="2.05" fill="#f0eefa"/>
<rect x="232.43" y="205.39" width="5.76" height="2.05" fill="#f8987d"/>
<rect x="238.13" y="205.39" width="5.76" height="2.05" fill="#f88369"/>
<rect x="243.84" y="205.39" width="5.76" height="2.05" fill="#f89176"/>
<rect x="249.55" y="205.39" width="5.76" height="2.05" fill="#efedfa"/>
<rect x="255.26" y="205.39" width="5.76" height="2.05" fill="#f3cfcd"/>
<rect x="260.97" y="205.39" width="5.76" height="2.05" fill="#eceafa"/>
<rect x="266.68" y="205.39" width="5.76" height="2.05" fill="#f3ccc8"/>
<rect x="272.38" y="205.39" width="5.76" height="2.05" fill="#d4cff8"/>
<rect x="278.09" y="205.39" width="5.76" height="2.05" fill="#f7a38d"/>
<rect x="215.3" y="207.39" width="5.76" height="2.05" fill="#c7c1f8"/>
<rect x="221.01" y="207.39" width="5.76" height="2.05" fill="#cfc9f8"/>
<rect x="226.72" y="207.39" width="5.76" height="2.05" fill="#f8987c"/>
<rect x="232.43" y="207.39" width="5.76" height="2.05" fill="#f97058"/>
<rect x="238.13" y="207.39" width="5.76" height="2.05" fill="#fa2c1c"/>
<rect x="243.84" y="207.39" width="5.76" height="2.05" fill="#f9503b"/>
<rect x="249.55" y="207.39" width="5.76" height="2.05" fill="#f0ecf7"/>
<rect x="255.26" y="207.39" width="5.76" height="2.05" fill="#c5bff8"/>
<rect x="260.97" y="207.39" width="5.76" height="2.05" fill="#eeecfa"/>
<rect x="266.68" y="207.39" width="5.76" height="2.05" fill="#f1e1e7"/>
<rect x="272.38" y="207.39" width="5.76" height="2.05" fill="#f1e2e8"/>
<rect x="278.09" y="207.39" width="5.76" height="2.05" fill="#f4beb5"/>
<rect x="215.3" y="209.39" width="5.76" height="2.05" fill="#d7d3f9"/>
<rect x="221.01" y="209.39" width="5.76" height="2.05" fill="#d0cbf8"/>
<rect x="226.72" y="209.39" width="5.76" height="2.05" fill="#f0e9f2"/>
<rect x="232.43" y="209.39" width="5.76" height="2.05" fill="#f9664f"/>
<rect x="238.13" y="209.39" width="5.76" height="2.05" fill="#f95641"/>
<rect x="243.84" y="209.39" width="5.76" height="2.05" fill="#f95b46"/>
<rect x="249.55" y="209.39" width="5.76" height="2.05" fill="#c9c3f8"/>
<rect x="255.26" y="209.39" width="5.76" height="2.05" fill="#bcb4f7"/>
<rect x="260.97" y="209.39" width="5.76" height="2.05" fill="#e7e4fa"/>
<rect x="266.68" y="209.39" width="5.76" height="2.05" fill="#b7aff7"/>
<rect x="272.38" y="209.39" width="5.76" height="2.05" fill="#d9d4f9"/>
<rect x="278.09" y="209.39" width="5.76" height="2.05" fill="#b3aaf7"/>
<rect x="215.3" y="211.4" width="5.76" height="2.05" fill="#c8c2f8"/>
<rect x="221.01" y="211.4" width="5.76" height="2.05" fill="#c5bef8"/>
<rect x="226.72" y="211.4" width="5.76" height="2.05" fill="#c1baf7"/>
<rect x="232.43" y="211.4" width="5.76" height="2.05" fill="#f88167"/>
<rect x="238.13" y="211.4" width="5.76" height="2.05" fill="#f6b09f"/>
<rect x="243.84" y="211.4" width="5.76" height="2.05" fill="#fa3c2a"/>
<rect x="249.55" y="211.4" width="5.76" height="2.05" fill="#f1e8f1"/>
<rect x="255.26" y="211.4" width="5.76" height="2.05" fill="#f1dfe5"/>
<rect x="260.97" y="211.4" width="5.76" height="2.05" fill="#c1baf7"/>
<rect x="266.68" y="211.4" width="5.76" height="2.05" fill="#c3bcf7"/>
<rect x="272.38" y="211.4" width="5.76" height="2.05" fill="#998df5"/>
<rect x="278.09" y="211.4" width="5.76" height="2.05" fill="#e0dcf9"/>
<rect x="215.3" y="213.4" width="5.76" height="2.05" fill="#8477f4"/>
<rect x="221.01" y="213.4" width="5.76" height="2.05" fill="#c8c1f8"/>
<rect x="226.72" y="213.4" width="5.76" height="2.05" fill="#dcd8f9"/>
<rect x="232.43" y="213.4" width="5.76" height="2.05" fill="#f6ae9d"/>
<rect x="238.13" y="213.4" width="5.76" height="2.05" fill="#f4c5bf"/>
<rect x="243.84" y="213.4" width="5.76" height="2.05" fill="#f89277"/>
<rect x="249.55" y="213.4" width="5.76" height="2.05" fill="#dbd7f9"/>
<rect x="255.26" y="213.4" width="5.76" height="2.05" fill="#b6adf7"/>
<rect x="260.97" y="213.4" width="5.76" height="2.05" fill="#d4cff8"/>
<rect x="266.68" y="213.4" width="5.76" height="2.05" fill="#d6d1f9"/>
<rect x="272.38" y="213.4" width="5.76" height="2.05" fill="#d1ccf8"/>
<rect x="278.09" y="213.4" width="5.76" height="2.05" fill="#f0ecf7"/>
<rect x="215.3" y="215.4" width="5.76" height="2.05" fill="#e1def9"/>
<rect x="221.01" y="215.4" width="5.76" height="2.05" fill="#aba2f6"/>
<rect x="226.72" y="215.4" width="5.76" height="2.05" fill="#cfc9f8"/>
<rect x="232.43" y="215.4" width="5.76" height="2.05" fill="#f89579"/>
<rect x="238.13" y="215.4" width="5.76" height="2.05" fill="#f7a189"/>
<rect x="243.84" y="215.4" width="5.76" height="2.05" fill="#f87b62"/>
<rect x="249.55" y="215.4" width="5.76" height="2.05" fill="#e9e6fa"/>
<rect x="255.26" y="215.4" width="5.76" height="2.05" fill="#e1def9"/>
<rect x="260.97" y="215.4" width="5.76" height="2.05" fill="#998df5"/>
<rect x="266.68" y="215.4" width="5.76" height="2.05" fill="#aea5f6"/>
<rect x="272.38" y="215.4" width="5.76" height="2.05" fill="#d4cef8"/>
<rect x="278.09" y="215.4" width="5.76" height="2.05" fill="#dcd8f9"/>
<rect x="215.3" y="217.41" width="5.76" height="2.05" fill="#c0b8f7"/>
<rect x="221.01" y="217.41" width="5.76" height="2.05" fill="#897cf4"/>
<rect x="226.72" y="217.41" width="5.76" height="2.05" fill="#d0cbf8"/>
<rect x="232.43" y="217.41" width="5.76" height="2.05" fill="#f97058"/>
<rect x="238.13" y="217.41" width="5.76" height="2.05" fill="#f88a70"/>
<rect x="243.84" y="217.41" width="5.76" height="2.05" fill="#f5b5a6"/>
<rect x="249.55" y="217.41" width="5.76" height="2.05" fill="#e8e5fa"/>
<rect x="255.26" y="217.41" width="5.76" height="2.05" fill="#6454f3"/>
<rect x="260.97" y="217.41" width="5.76" height="2.05" fill="#988cf5"/>
<rect x="266.68" y="217.41" width="5.76" height="2.05" fill="#c6bff8"/>
<rect x="272.38" y="217.41" width="5.76" height="2.05" fill="#a399f6"/>
<rect x="278.09" y="217.41" width="5.76" height="2.05" fill="#e0dcf9"/>
<rect x="215.3" y="219.41" width="5.76" height="2.05" fill="#8476f4"/>
<rect x="221.01" y="219.41" width="5.76" height="2.05" fill="#998df5"/>
<rect x="226.72" y="219.41" width="5.76" height="2.05" fill="#b7aff7"/>
<rect x="232.43" y="219.41" width="5.76" height="2.05" fill="#f9513c"/>
<rect x="238.13" y="219.41" width="5.76" height="2.05" fill="#f95540"/>
<rect x="243.84" y="219.41" width="5.76" height="2.05" fill="#f6a995"/>
<rect x="249.55" y="219.41" width="5.76" height="2.05" fill="#cdc7f8"/>
<rect x="255.26" y="219.41" width="5.76" height="2.05" fill="#aba2f6"/>
<rect x="260.97" y="219.41" width="5.76" height="2.05" fill="#c0b8f7"/>
<rect x="266.68" y="219.41" width="5.76" height="2.05" fill="#e7e4f9"/>
<rect x="272.38" y="219.41" width="5.76" height="2.05" fill="#cac3f8"/>
<rect x="278.09" y="219.41" width="5.76" height="2.05" fill="#c3bcf8"/>
<rect x="215.3" y="221.41" width="5.76" height="2.05" fill="#6d5df3"/>
<rect x="221.01" y="221.41" width="5.76" height="2.05" fill="#6655f3"/>
<rect x="226.72" y="221.41" width="5.76" height="2.05" fill="#6655f3"/>
<rect x="232.43" y="221.41" width="5.76" height="2.05" fill="#f88268"/>
<rect x="238.13" y="221.41" width="5.76" height="2.05" fill="#f8967a"/>
<rect x="243.84" y="221.41" width="5.76" height="2.05" fill="#f4beb5"/>
<rect x="249.55" y="221.41" width="5.76" height="2.05" fill="#f1e6ee"/>
<rect x="255.26" y="221.41" width="5.76" height="2.05" fill="#b9b1f7"/>
<rect x="260.97" y="221.41" width="5.76" height="2.05" fill="#f7a28b"/>
<rect x="266.68" y="221.41" width="5.76" height="2.05" fill="#d4cef8"/>
<rect x="272.38" y="221.41" width="5.76" height="2.05" fill="#f1e8f2"/>
<rect x="278.09" y="221.41" width="5.76" height="2.05" fill="#d2cdf8"/>
<rect x="215.3" y="223.41" width="5.76" height="2.05" fill="#4531f1"/>
<rect x="221.01" y="223.41" width="5.76" height="2.05" fill="#897bf4"/>
<rect x="226.72" y="223.41" width="5.76" height="2.05" fill="#b1a8f6"/>
<rect x="232.43" y="223.41" width="5.76" height="2.05" fill="#fa3d2a"/>
<rect x="238.13" y="223.41" width="5.76" height="2.05" fill="#fa2414"/>
<rect x="243.84" y="223.41" width="5.76" height="2.05" fill="#f8896e"/>
<rect x="249.55" y="223.41" width="5.76" height="2.05" fill="#f6aa97"/>
<rect x="255.26" y="223.41" width="5.76" height="2.05" fill="#eeebfa"/>
<rect x="260.97" y="223.41" width="5.76" height="2.05" fill="#f6a894"/>
<rect x="266.68" y="223.41" width="5.76" height="2.05" fill="#e6e3f9"/>
<rect x="272.38" y="223.41" width="5.76" height="2.05" fill="#dfdbf9"/>
<rect x="278.09" y="223.41" width="5.76" height="2.05" fill="#e5e2f9"/>
<rect x="215.3" y="225.42" width="5.76" height="2.05" fill="#9b8ff5"/>
<rect x="221.01" y="225.42" width="5.76" height="2.05" fill="#5a47f2"/>
<rect x="226.72" y="225.42" width="5.76" height="2.05" fill="#a49af6"/>
<rect x="232.43" y="225.42" width="5.76" height="2.05" fill="#fa2414"/>
<rect x="238.13" y="225.42" width="5.76" height="2.05" fill="#f95641"/>
<rect x="243.84" y="225.42" width="5.76" height="2.05" fill="#f6ae9d"/>
<rect x="249.55" y="225.42" width="5.76" height="2.05" fill="#f89579"/>
<rect x="255.26" y="225.42" width="5.76" height="2.05" fill="#e8e5fa"/>
<rect x="260.97" y="225.42" width="5.76" height="2.05" fill="#e2def9"/>
<rect x="266.68" y="225.42" width="5.76" height="2.05" fill="#e6e3f9"/>
<rect x="272.38" y="225.42" width="5.76" height="2.05" fill="#edebfa"/>
<rect x="278.09" y="225.42" width="5.76" height="2.05" fill="#f0e9f2"/>
<rect x="215.3" y="227.42" width="5.76" height="2.05" fill="#d2ccf8"/>
<rect x="221.01" y="227.42" width="5.76" height="2.05" fill="#b9b1f7"/>
<rect x="226.72" y="227.42" width="5.76" height="2.05" fill="#998df5"/>
<rect x="232.43" y="227.42" width="5.76" height="2.05" fill="#f9432f"/>
<rect x="238.13" y="227.42" width="5.76" height="2.05" fill="#f8876c"/>
<rect x="243.84" y="227.42" width="5.76" height="2.05" fill="#f87a61"/>
<rect x="249.55" y="227.42" width="5.76" height="2.05" fill="#f1e5ee"/>
<rect x="255.26" y="227.42" width="5.76" height="2.05" fill="#f2dbdf"/>
<rect x="260.97" y="227.42" width="5.76" height="2.05" fill="#cfc9f8"/>
<rect x="266.68" y="227.42" width="5.76" height="2.05" fill="#c7c1f8"/>
<rect x="272.38" y="227.42" width="5.76" height="2.05" fill="#f1e4eb"/>
<rect x="278.09" y="227.42" width="5.76" height="2.05" fill="#f3c8c2"/>
<rect x="215.3" y="229.42" width="5.76" height="2.05" fill="#a79df6"/>
<rect x="221.01" y="229.42" width="5.76" height="2.05" fill="#cdc7f8"/>
<rect x="226.72" y="229.42" width="5.76" height="2.05" fill="#a398f6"/>
<rect x="232.43" y="229.42" width="5.76" height="2.05" fill="#f94935"/>
<rect x="238.13" y="229.42" width="5.76" height="2.05" fill="#fa2e1d"/>
<rect x="243.84" y="229.42" width="5.76" height="2.05" fill="#f95d47"/>
<rect x="249.55" y="229.42" width="5.76" height="2.05" fill="#e1ddf9"/>
<rect x="255.26" y="229.42" width="5.76" height="2.05" fill="#f87f66"/>
<rect x="260.97" y="229.42" width="5.76" height="2.05" fill="#d9d5f9"/>
<rect x="266.68" y="229.42" width="5.76" height="2.05" fill="#e9e6fa"/>
<rect x="272.38" y="229.42" width="5.76" height="2.05" fill="#d1cbf8"/>
<rect x="278.09" y="229.42" width="5.76" height="2.05" fill="#efedfa"/>
<rect x="215.3" y="231.43" width="5.76" height="2.05" fill="#f8896f"/>
<rect x="221.01" y="231.43" width="5.76" height="2.05" fill="#f88168"/>
<rect x="226.72" y="231.43" width="5.76" height="2.05" fill="#f0e9f2"/>
<rect x="232.43" y="231.43" width="5.76" height="2.05" fill="#341ef0"/>
<rect x="238.13" y="231.43" width="5.76" height="2.05" fill="#341ef0"/>
<rect x="243.84" y="231.43" width="5.76" height="2.05" fill="#f1e6ef"/>
<rect x="249.55" y="231.43" width="5.76" height="2.05" fill="#ebe8fa"/>
<rect x="255.26" y="231.43" width="5.76" height="2.05" fill="#f79d85"/>
<rect x="260.97" y="231.43" width="5.76" height="2.05" fill="#f1e7f0"/>
<rect x="266.68" y="231.43" width="5.76" height="2.05" fill="#f2dde1"/>
<rect x="272.38" y="231.43" width="5.76" height="2.05" fill="#cdc7f8"/>
<rect x="278.09" y="231.43" width="5.76" height="2.05" fill="#f3d2d2"/>
<rect x="215.3" y="233.43" width="5.76" height="2.05" fill="#f5b5a7"/>
<rect x="221.01" y="233.43" width="5.76" height="2.05" fill="#f7a691"/>
<rect x="226.72" y="233.43" width="5.76" height="2.05" fill="#f3cfcd"/>
<rect x="232.43" y="233.43" width="5.76" height="2.05" fill="#341ef0"/>
<rect x="238.13" y="233.43" width="5.76" height="2.05" fill="#341ef0"/>
<rect x="243.84" y="233.43" width="5.76" height="2.05" fill="#ccc6f8"/>
<rect x="249.55" y="233.43" width="5.76" height="2.05" fill="#e6e3f9"/>
<rect x="255.26" y="233.43" width="5.76" height="2.05" fill="#f96c55"/>
<rect x="260.97" y="233.43" width="5.76" height="2.05" fill="#f5b7aa"/>
<rect x="266.68" y="233.43" width="5.76" height="2.05" fill="#f1e4ec"/>
<rect x="272.38" y="233.43" width="5.76" height="2.05" fill="#d4cef8"/>
<rect x="278.09" y="233.43" width="5.76" height="2.05" fill="#e4e1f9"/>
<rect x="215.3" y="235.43" width="5.76" height="2.05" fill="#f4c6c0"/>
<rect x="221.01" y="235.43" width="5.76" height="2.05" fill="#f6ab99"/>
<rect x="226.72" y="235.43" width="5.76" height="2.05" fill="#f5b7aa"/>
<rect x="232.43" y="235.43" width="5.76" height="2.05" fill="#6352f2"/>
<rect x="238.13" y="235.43" width="5.76" height="2.05" fill="#a69bf6"/>
<rect x="243.84" y="235.43" width="5.76" height="2.05" fill="#9c90f5"/>
<rect x="249.55" y="235.43" width="5.76" height="2.05" fill="#f1e4ec"/>
<rect x="255.26" y="235.43" width="5.76" height="2.05" fill="#fa2414"/>
<rect x="260.97" y="235.43" width="5.76" height="2.05" fill="#c6bff8"/>
<rect x="266.68" y="235.43" width="5.76" height="2.05" fill="#e5e2f9"/>
<rect x="272.38" y="235.43" width="5.76" height="2.05" fill="#f0eefa"/>
<rect x="278.09" y="235.43" width="5.76" height="2.05" fill="#f1e6ee"/>
<rect x="215.3" y="237.43" width="5.76" height="2.05" fill="#f6ac9b"/>
<rect x="221.01" y="237.43" width="5.76" height="2.05" fill="#f88d72"/>
<rect x="226.72" y="237.43" width="5.76" height="2.05" fill="#f79d84"/>
<rect x="232.43" y="237.43" width="5.76" height="2.05" fill="#a99ff6"/>
<rect x="238.13" y="237.43" width="5.76" height="2.05" fill="#3a24f0"/>
<rect x="243.84" y="237.43" width="5.76" height="2.05" fill="#988cf5"/>
<rect x="249.55" y="237.43" width="5.76" height="2.05" fill="#f2dbdf"/>
<rect x="255.26" y="237.43" width="5.76" height="2.05" fill="#f5b4a6"/>
<rect x="260.97" y="237.43" width="5.76" height="2.05" fill="#c0b8f7"/>
<rect x="266.68" y="237.43" width="5.76" height="2.05" fill="#f3cfcc"/>
<rect x="272.38" y="237.43" width="5.76" height="2.05" fill="#dcd8f9"/>
<rect x="278.09" y="237.43" width="5.76" height="2.05" fill="#f4c4bd"/>
<rect x="215.3" y="239.44" width="5.76" height="2.05" fill="#f8866b"/>
<rect x="221.01" y="239.44" width="5.76" height="2.05" fill="#f97058"/>
<rect x="226.72" y="239.44" width="5.76" height="2.05" fill="#f88c71"/>
<rect x="232.43" y="239.44" width="5.76" height="2.05" fill="#5f4df2"/>
<rect x="238.13" y="239.44" width="5.76" height="2.05" fill="#7667f3"/>
<rect x="243.84" y="239.44" width="5.76" height="2.05" fill="#d7d2f9"/>
<rect x="249.55" y="239.44" width="5.76" height="2.05" fill="#eeecfa"/>
<rect x="255.26" y="239.44" width="5.76" height="2.05" fill="#f3cac6"/>
<rect x="260.97" y="239.44" width="5.76" height="2.05" fill="#f2d6d7"/>
<rect x="266.68" y="239.44" width="5.76" height="2.05" fill="#dfdbf9"/>
<rect x="272.38" y="239.44" width="5.76" height="2.05" fill="#f2d3d2"/>
<rect x="278.09" y="239.44" width="5.76" height="2.05" fill="#f9785f"/>
<rect x="215.3" y="241.44" width="5.76" height="2.05" fill="#f8967b"/>
<rect x="221.01" y="241.44" width="5.76" height="2.05" fill="#f8977b"/>
<rect x="226.72" y="241.44" width="5.76" height="2.05" fill="#f96b53"/>
<rect x="232.43" y="241.44" width="5.76" height="2.05" fill="#7b6cf4"/>
<rect x="238.13" y="241.44" width="5.76" height="2.05" fill="#a49af6"/>
<rect x="243.84" y="241.44" width="5.76" height="2.05" fill="#aea5f6"/>
<rect x="249.55" y="241.44" width="5.76" height="2.05" fill="#f1e1e8"/>
<rect x="255.26" y="241.44" width="5.76" height="2.05" fill="#f3d0ce"/>
<rect x="260.97" y="241.44" width="5.76" height="2.05" fill="#beb7f7"/>
<rect x="266.68" y="241.44" width="5.76" height="2.05" fill="#f6aa98"/>
<rect x="272.38" y="241.44" width="5.76" height="2.05" fill="#f6af9e"/>
<rect x="278.09" y="241.44" width="5.76" height="2.05" fill="#dbd7f9"/>
<rect x="215.3" y="243.44" width="5.76" height="2.05" fill="#f8896f"/>
<rect x="221.01" y="243.44" width="5.76" height="2.05" fill="#f9765d"/>
<rect x="226.72" y="243.44" width="5.76" height="2.05" fill="#f9654e"/>
<rect x="232.43" y="243.44" width="5.76" height="2.05" fill="#4632f1"/>
<rect x="238.13" y="243.44" width="5.76" height="2.05" fill="#9d92f5"/>
<rect x="243.84" y="243.44" width="5.76" height="2.05" fill="#f3d0ce"/>
<rect x="249.55" y="243.44" width="5.76" height="2.05" fill="#eae7fa"/>
<rect x="255.26" y="243.44" width="5.76" height="2.05" fill="#dedaf9"/>
<rect x="260.97" y="243.44" width="5.76" height="2.05" fill="#b0a7f6"/>
<rect x="266.68" y="243.44" width="5.76" height="2.05" fill="#dedaf9"/>
<rect x="272.38" y="243.44" width="5.76" height="2.05" fill="#f5baaf"/>
<rect x="278.09" y="243.44" width="5.76" height="2.05" fill="#f7a089"/>
<rect x="215.3" y="245.45" width="5.76" height="2.05" fill="#f87d64"/>
<rect x="221.01" y="245.45" width="5.76" height="2.05" fill="#fa3321"/>
<rect x="226.72" y="245.45" width="5.76" height="2.05" fill="#f8866c"/>
<rect x="232.43" y="245.45" width="5.76" height="2.05" fill="#5340f2"/>
<rect x="238.13" y="245.45" width="5.76" height="2.05" fill="#b6adf7"/>
<rect x="243.84" y="245.45" width="5.76" height="2.05" fill="#f3d2d1"/>
<rect x="249.55" y="245.45" width="5.76" height="2.05" fill="#d1cbf8"/>
<rect x="255.26" y="245.45" width="5.76" height="2.05" fill="#c6bff8"/>
<rect x="260.97" y="245.45" width="5.76" height="2.05" fill="#eae8fa"/>
<rect x="266.68" y="245.45" width="5.76" height="2.05" fill="#f1e4ec"/>
<rect x="272.38" y="245.45" width="5.76" height="2.05" fill="#d5d0f9"/>
<rect x="278.09" y="245.45" width="5.76" height="2.05" fill="#f3cdcb"/>
<rect x="215.3" y="247.45" width="5.76" height="2.05" fill="#f8886d"/>
<rect x="221.01" y="247.45" width="5.76" height="2.05" fill="#f97960"/>
<rect x="226.72" y="247.45" width="5.76" height="2.05" fill="#f79d85"/>
<rect x="232.43" y="247.45" width="5.76" height="2.05" fill="#5340f2"/>
<rect x="238.13" y="247.45" width="5.76" height="2.05" fill="#c3bcf7"/>
<rect x="243.84" y="247.45" width="5.76" height="2.05" fill="#f4bfb5"/>
<rect x="249.55" y="247.45" width="5.76" height="2.05" fill="#dfdbf9"/>
<rect x="255.26" y="247.45" width="5.76" height="2.05" fill="#f3cecb"/>
<rect x="260.97" y="247.45" width="5.76" height="2.05" fill="#dbd7f9"/>
<rect x="266.68" y="247.45" width="5.76" height="2.05" fill="#f1dfe4"/>
<rect x="272.38" y="247.45" width="5.76" height="2.05" fill="#f3d1d0"/>
<rect x="278.09" y="247.45" width="5.76" height="2.05" fill="#f88e73"/>
<rect x="215.3" y="249.45" width="5.76" height="2.05" fill="#f89b81"/>
<rect x="221.01" y="249.45" width="5.76" height="2.05" fill="#f88c71"/>
<rect x="226.72" y="249.45" width="5.76" height="2.05" fill="#f3d0ce"/>
<rect x="232.43" y="249.45" width="5.76" height="2.05" fill="#6959f3"/>
<rect x="238.13" y="249.45" width="5.76" height="2.05" fill="#7b6cf4"/>
<rect x="243.84" y="249.45" width="5.76" height="2.05" fill="#f1e5ed"/>
<rect x="249.55" y="249.45" width="5.76" height="2.05" fill="#c8c1f8"/>
<rect x="255.26" y="249.45" width="5.76" height="2.05" fill="#b9b1f7"/>
<rect x="260.97" y="249.45" width="5.76" height="2.05" fill="#f0e9f3"/>
<rect x="266.68" y="249.45" width="5.76" height="2.05" fill="#f2d3d3"/>
<rect x="272.38" y="249.45" width="5.76" height="2.05" fill="#ebe8fa"/>
<rect x="278.09" y="249.45" width="5.76" height="2.05" fill="#f89075"/>
<rect x="215.3" y="251.45" width="5.76" height="2.05" fill="#f6b1a2"/>
<rect x="221.01" y="251.45" width="5.76" height="2.05" fill="#f8896e"/>
<rect x="226.72" y="251.45" width="5.76" height="2.05" fill="#f1e7f0"/>
<rect x="232.43" y="251.45" width="5.76" height="2.05" fill="#513df1"/>
<rect x="238.13" y="251.45" width="5.76" height="2.05" fill="#7b6df4"/>
<rect x="243.84" y="251.45" width="5.76" height="2.05" fill="#f2dde2"/>
<rect x="249.55" y="251.45" width="5.76" height="2.05" fill="#e3e0f9"/>
<rect x="255.26" y="251.45" width="5.76" height="2.05" fill="#f0edfa"/>
<rect x="260.97" y="251.45" width="5.76" height="2.05" fill="#e4e0f9"/>
<rect x="266.68" y="251.45" width="5.76" height="2.05" fill="#f3ccc9"/>
<rect x="272.38" y="251.45" width="5.76" height="2.05" fill="#f8997e"/>
<rect x="278.09" y="251.45" width="5.76" height="2.05" fill="#f1dee3"/>
<rect x="215.3" y="253.46" width="5.76" height="2.05" fill="#f88167"/>
<rect x="221.01" y="253.46" width="5.76" height="2.05" fill="#f95842"/>
<rect x="226.72" y="253.46" width="5.76" height="2.05" fill="#f88066"/>
<rect x="232.43" y="253.46" width="5.76" height="2.05" fill="#d2ccf8"/>
<rect x="238.13" y="253.46" width="5.76" height="2.05" fill="#7b6cf4"/>
<rect x="243.84" y="253.46" width="5.76" height="2.05" fill="#bbb3f7"/>
<rect x="249.55" y="253.46" width="5.76" height="2.05" fill="#f3c9c4"/>
<rect x="255.26" y="253.46" width="5.76" height="2.05" fill="#f5b9ad"/>
<rect x="260.97" y="253.46" width="5.76" height="2.05" fill="#f3c8c3"/>
<rect x="266.68" y="253.46" width="5.76" height="2.05" fill="#f9533e"/>
<rect x="272.38" y="253.46" width="5.76" height="2.05" fill="#f5b7a9"/>
<rect x="278.09" y="253.46" width="5.76" height="2.05" fill="#f2d3d3"/>
<rect x="215.3" y="255.46" width="5.76" height="2.05" fill="#f96851"/>
<rect x="221.01" y="255.46" width="5.76" height="2.05" fill="#fa2a19"/>
<rect x="226.72" y="255.46" width="5.76" height="2.05" fill="#f79c83"/>
<rect x="232.43" y="255.46" width="5.76" height="2.05" fill="#b3aaf7"/>
<rect x="238.13" y="255.46" width="5.76" height="2.05" fill="#341ef0"/>
<rect x="243.84" y="255.46" width="5.76" height="2.05" fill="#f1e3ea"/>
<rect x="249.55" y="255.46" width="5.76" height="2.05" fill="#f1e1e7"/>
<rect x="255.26" y="255.46" width="5.76" height="2.05" fill="#f89b81"/>
<rect x="260.97" y="255.46" width="5.76" height="2.05" fill="#f9624c"/>
<rect x="266.68" y="255.46" width="5.76" height="2.05" fill="#f7a48e"/>
<rect x="272.38" y="255.46" width="5.76" height="2.05" fill="#f2dadd"/>
<rect x="278.09" y="255.46" width="5.76" height="2.05" fill="#eceafa"/>
<rect x="215.3" y="257.46" width="5.76" height="2.05" fill="#f7a692"/>
<rect x="221.01" y="257.46" width="5.76" height="2.05" fill="#f9624b"/>
<rect x="226.72" y="257.46" width="5.76" height="2.05" fill="#f6a894"/>
<rect x="232.43" y="257.46" width="5.76" height="2.05" fill="#9084f5"/>
<rect x="238.13" y="257.46" width="5.76" height="2.05" fill="#341ef0"/>
<rect x="243.84" y="257.46" width="5.76" height="2.05" fill="#f1e3ea"/>
<rect x="249.55" y="257.46" width="5.76" height="2.05" fill="#f4c2ba"/>
<rect x="255.26" y="257.46" width="5.76" height="2.05" fill="#f4c1b9"/>
<rect x="260.97" y="257.46" width="5.76" height="2.05" fill="#f88167"/>
<rect x="266.68" y="257.46" width="5.76" height="2.05" fill="#f3cdc9"/>
<rect x="272.38" y="257.46" width="5.76" height="2.05" fill="#d0caf8"/>
<rect x="278.09" y="257.46" width="5.76" height="2.05" fill="#f7a38c"/>
<rect x="215.3" y="259.47" width="5.76" height="2.05" fill="#f6b0a0"/>
<rect x="221.01" y="259.47" width="5.76" height="2.05" fill="#f94f3b"/>
<rect x="226.72" y="259.47" width="5.76" height="2.05" fill="#f8886d"/>
<rect x="232.43" y="259.47" width="5.76" height="2.05" fill="#4631f1"/>
<rect x="238.13" y="259.47" width="5.76" height="2.05" fill="#b9b0f7"/>
<rect x="243.84" y="259.47" width="5.76" height="2.05" fill="#f1e4ec"/>
<rect x="249.55" y="259.47" width="5.76" height="2.05" fill="#f7a089"/>
<rect x="255.26" y="259.47" width="5.76" height="2.05" fill="#f4c2b9"/>
<rect x="260.97" y="259.47" width="5.76" height="2.05" fill="#f5b6a9"/>
<rect x="266.68" y="259.47" width="5.76" height="2.05" fill="#c5bef8"/>
<rect x="272.38" y="259.47" width="5.76" height="2.05" fill="#f3cac5"/>
<rect x="278.09" y="259.47" width="5.76" height="2.05" fill="#f4c3bc"/>
<rect x="215.3" y="261.47" width="5.76" height="2.05" fill="#f79d84"/>
<rect x="221.01" y="261.47" width="5.76" height="2.05" fill="#f87a61"/>
<rect x="226.72" y="261.47" width="5.76" height="2.05" fill="#f87f66"/>
<rect x="232.43" y="261.47" width="5.76" height="2.05" fill="#523ff2"/>
<rect x="238.13" y="261.47" width="5.76" height="2.05" fill="#9a8ef5"/>
<rect x="243.84" y="261.47" width="5.76" height="2.05" fill="#7e6ff4"/>
<rect x="249.55" y="261.47" width="5.76" height="2.05" fill="#f3d1d0"/>
<rect x="255.26" y="261.47" width="5.76" height="2.05" fill="#f6ab98"/>
<rect x="260.97" y="261.47" width="5.76" height="2.05" fill="#f8846a"/>
<rect x="266.68" y="261.47" width="5.76" height="2.05" fill="#d4cff8"/>
<rect x="272.38" y="261.47" width="5.76" height="2.05" fill="#f2dce0"/>
<rect x="278.09" y="261.47" width="5.76" height="2.05" fill="#f8866b"/>
<rect x="215.3" y="263.47" width="5.76" height="2.05" fill="#f8896e"/>
<rect x="221.01" y="263.47" width="5.76" height="2.05" fill="#f95944"/>
<rect x="226.72" y="263.47" width="5.76" height="2.05" fill="#f89277"/>
<rect x="232.43" y="263.47" width="5.76" height="2.05" fill="#aaa0f6"/>
<rect x="238.13" y="263.47" width="5.76" height="2.05" fill="#6453f2"/>
<rect x="243.84" y="263.47" width="5.76" height="2.05" fill="#b2a9f7"/>
<rect x="249.55" y="263.47" width="5.76" height="2.05" fill="#f2d6d7"/>
<rect x="255.26" y="263.47" width="5.76" height="2.05" fill="#f5bcb1"/>
<rect x="260.97" y="263.47" width="5.76" height="2.05" fill="#f9785f"/>
<rect x="266.68" y="263.47" width="5.76" height="2.05" fill="#f88167"/>
<rect x="272.38" y="263.47" width="5.76" height="2.05" fill="#e2dff9"/>
<rect x="278.09" y="263.47" width="5.76" height="2.05" fill="#f2d4d4"/>
<rect x="215.3" y="265.47" width="5.76" height="2.05" fill="#f7a692"/>
<rect x="221.01" y="265.47" width="5.76" height="2.05" fill="#f95f49"/>
<rect x="226.72" y="265.47" width="5.76" height="2.05" fill="#f9765d"/>
<rect x="232.43" y="265.47" width="5.76" height="2.05" fill="#968af5"/>
<rect x="238.13" y="265.47" width="5.76" height="2.05" fill="#a197f6"/>
<rect x="243.84" y="265.47" width="5.76" height="2.05" fill="#8477f4"/>
<rect x="249.55" y="265.47" width="5.76" height="2.05" fill="#f6b0a0"/>
<rect x="255.26" y="265.47" width="5.76" height="2.05" fill="#d1ccf8"/>
<rect x="260.97" y="265.47" width="5.76" height="2.05" fill="#f3cdca"/>
<rect x="266.68" y="265.47" width="5.76" height="2.05" fill="#f3d1d0"/>
<rect x="272.38" y="265.47" width="5.76" height="2.05" fill="#e0dcf9"/>
<rect x="278.09" y="265.47" width="5.76" height="2.05" fill="#f5b2a2"/>
<rect x="215.3" y="267.48" width="5.76" height="2.05" fill="#f6a793"/>
<rect x="221.01" y="267.48" width="5.76" height="2.05" fill="#f96951"/>
<rect x="226.72" y="267.48" width="5.76" height="2.05" fill="#f9513c"/>
<rect x="232.43" y="267.48" width="5.76" height="2.05" fill="#9386f5"/>
<rect x="238.13" y="267.48" width="5.76" height="2.05" fill="#aaa0f6"/>
<rect x="243.84" y="267.48" width="5.76" height="2.05" fill="#e5e1f9"/>
<rect x="249.55" y="267.48" width="5.76" height="2.05" fill="#f5b7a9"/>
<rect x="255.26" y="267.48" width="5.76" height="2.05" fill="#bbb3f7"/>
<rect x="260.97" y="267.48" width="5.76" height="2.05" fill="#f9533e"/>
<rect x="266.68" y="267.48" width="5.76" height="2.05" fill="#f96c54"/>
<rect x="272.38" y="267.48" width="5.76" height="2.05" fill="#9d92f5"/>
<rect x="278.09" y="267.48" width="5.76" height="2.05" fill="#f3cdcb"/>
<rect x="215.3" y="269.48" width="5.76" height="2.05" fill="#f9745c"/>
<rect x="221.01" y="269.48" width="5.76" height="2.05" fill="#f9614b"/>
<rect x="226.72" y="269.48" width="5.76" height="2.05" fill="#f9765d"/>
<rect x="232.43" y="269.48" width="5.76" height="2.05" fill="#614ff2"/>
<rect x="238.13" y="269.48" width="5.76" height="2.05" fill="#a99ff6"/>
<rect x="243.84" y="269.48" width="5.76" height="2.05" fill="#f3cfcc"/>
<rect x="249.55" y="269.48" width="5.76" height="2.05" fill="#e5e2f9"/>
<rect x="255.26" y="269.48" width="5.76" height="2.05" fill="#bbb4f7"/>
<rect x="260.97" y="269.48" width="5.76" height="2.05" fill="#f79d84"/>
<rect x="266.68" y="269.48" width="5.76" height="2.05" fill="#d8d3f9"/>
<rect x="272.38" y="269.48" width="5.76" height="2.05" fill="#c8c1f8"/>
<rect x="278.09" y="269.48" width="5.76" height="2.05" fill="#f0edf9"/>
<rect x="215.3" y="271.48" width="5.76" height="2.05" fill="#f89377"/>
<rect x="221.01" y="271.48" width="5.76" height="2.05" fill="#f89075"/>
<rect x="226.72" y="271.48" width="5.76" height="2.05" fill="#f8896f"/>
<rect x="232.43" y="271.48" width="5.76" height="2.05" fill="#8173f4"/>
<rect x="238.13" y="271.48" width="5.76" height="2.05" fill="#8173f4"/>
<rect x="243.84" y="271.48" width="5.76" height="2.05" fill="#f0ebf5"/>
<rect x="249.55" y="271.48" width="5.76" height="2.05" fill="#f4c1b9"/>
<rect x="255.26" y="271.48" width="5.76" height="2.05" fill="#f4c3bb"/>
<rect x="260.97" y="271.48" width="5.76" height="2.05" fill="#f9654e"/>
<rect x="266.68" y="271.48" width="5.76" height="2.05" fill="#ccc6f8"/>
<rect x="272.38" y="271.48" width="5.76" height="2.05" fill="#d3cef8"/>
<rect x="278.09" y="271.48" width="5.76" height="2.05" fill="#8d80f5"/>
<rect x="215.3" y="273.49" width="5.76" height="2.05" fill="#f87f65"/>
<rect x="221.01" y="273.49" width="5.76" height="2.05" fill="#f96750"/>
<rect x="226.72" y="273.49" width="5.76" height="2.05" fill="#f9513c"/>
<rect x="232.43" y="273.49" width="5.76" height="2.05" fill="#6d5df3"/>
<rect x="238.13" y="273.49" width="5.76" height="2.05" fill="#c4bdf8"/>
<rect x="243.84" y="273.49" width="5.76" height="2.05" fill="#f2d9db"/>
<rect x="249.55" y="273.49" width="5.76" height="2.05" fill="#c4bdf8"/>
<rect x="255.26" y="273.49" width="5.76" height="2.05" fill="#f4beb4"/>
<rect x="260.97" y="273.49" width="5.76" height="2.05" fill="#f9664f"/>
<rect x="266.68" y="273.49" width="5.76" height="2.05" fill="#988cf5"/>
<rect x="272.38" y="273.49" width="5.76" height="2.05" fill="#f3d0ce"/>
<rect x="278.09" y="273.49" width="5.76" height="2.05" fill="#d5d0f8"/>
<rect x="215.3" y="275.49" width="5.76" height="2.05" fill="#f96f57"/>
<rect x="221.01" y="275.49" width="5.76" height="2.05" fill="#f94734"/>
<rect x="226.72" y="275.49" width="5.76" height="2.05" fill="#f97058"/>
<rect x="232.43" y="275.49" width="5.76" height="2.05" fill="#b6adf7"/>
<rect x="238.13" y="275.49" width="5.76" height="2.05" fill="#a197f6"/>
<rect x="243.84" y="275.49" width="5.76" height="2.05" fill="#f3cac6"/>
<rect x="249.55" y="275.49" width="5.76" height="2.05" fill="#c8c1f8"/>
<rect x="255.26" y="275.49" width="5.76" height="2.05" fill="#f3cfcd"/>
<rect x="260.97" y="275.49" width="5.76" height="2.05" fill="#f94b37"/>
<rect x="266.68" y="275.49" width="5.76" height="2.05" fill="#e2def9"/>
<rect x="272.38" y="275.49" width="5.76" height="2.05" fill="#f1e1e7"/>
<rect x="278.09" y="275.49" width="5.76" height="2.05" fill="#bcb5f7"/>
<rect x="215.3" y="277.49" width="5.76" height="2.05" fill="#f88f74"/>
<rect x="221.01" y="277.49" width="5.76" height="2.05" fill="#f9644d"/>
<rect x="226.72" y="277.49" width="5.76" height="2.05" fill="#f8886d"/>
<rect x="232.43" y="277.49" width="5.76" height="2.05" fill="#aaa0f6"/>
<rect x="238.13" y="277.49" width="5.76" height="2.05" fill="#8274f4"/>
<rect x="243.84" y="277.49" width="5.76" height="2.05" fill="#f4c2ba"/>
<rect x="249.55" y="277.49" width="5.76" height="2.05" fill="#dad6f9"/>
<rect x="255.26" y="277.49" width="5.76" height="2.05" fill="#f0ecf7"/>
<rect x="260.97" y="277.49" width="5.76" height="2.05" fill="#f96a53"/>
<rect x="266.68" y="277.49" width="5.76" height="2.05" fill="#f0ecf6"/>
<rect x="272.38" y="277.49" width="5.76" height="2.05" fill="#f0eefa"/>
<rect x="278.09" y="277.49" width="5.76" height="2.05" fill="#c8c1f8"/>
<rect x="215.3" y="279.49" width="5.76" height="2.05" fill="#f8846a"/>
<rect x="221.01" y="279.49" width="5.76" height="2.05" fill="#f87a61"/>
<rect x="226.72" y="279.49" width="5.76" height="2.05" fill="#f5bbb0"/>
<rect x="232.43" y="279.49" width="5.76" height="2.05" fill="#a9a0f6"/>
<rect x="238.13" y="279.49" width="5.76" height="2.05" fill="#8a7df4"/>
<rect x="243.84" y="279.49" width="5.76" height="2.05" fill="#c2bbf7"/>
<rect x="249.55" y="279.49" width="5.76" height="2.05" fill="#f4c6c0"/>
<rect x="255.26" y="279.49" width="5.76" height="2.05" fill="#f0ecf7"/>
<rect x="260.97" y="279.49" width="5.76" height="2.05" fill="#f5b6a8"/>
<rect x="266.68" y="279.49" width="5.76" height="2.05" fill="#f4bfb6"/>
<rect x="272.38" y="279.49" width="5.76" height="2.05" fill="#f6a793"/>
<rect x="278.09" y="279.49" width="5.76" height="2.05" fill="#c9c2f8"/>
<rect x="215.3" y="281.5" width="5.76" height="2.05" fill="#f7a089"/>
<rect x="221.01" y="281.5" width="5.76" height="2.05" fill="#fa3221"/>
<rect x="226.72" y="281.5" width="5.76" height="2.05" fill="#f6ac9b"/>
<rect x="232.43" y="281.5" width="5.76" height="2.05" fill="#d4cff8"/>
<rect x="238.13" y="281.5" width="5.76" height="2.05" fill="#7263f3"/>
<rect x="243.84" y="281.5" width="5.76" height="2.05" fill="#f0ecf8"/>
<rect x="249.55" y="281.5" width="5.76" height="2.05" fill="#f95e48"/>
<rect x="255.26" y="281.5" width="5.76" height="2.05" fill="#9286f5"/>
<rect x="260.97" y="281.5" width="5.76" height="2.05" fill="#f2dbdf"/>
<rect x="266.68" y="281.5" width="5.76" height="2.05" fill="#f5b9ae"/>
<rect x="272.38" y="281.5" width="5.76" height="2.05" fill="#f3cbc7"/>
<rect x="278.09" y="281.5" width="5.76" height="2.05" fill="#cac3f8"/>
<path d="M214.23 144.3V146.3M215.1 144.3H214.23M215.1 146.3H214.23M214.39 148.31V150.31M215.1 148.31H214.39M215.1 150.31H214.39M213.84 149.31V152.31M214.39 149.31H213.84M215.1 152.31H213.84M213.41 145.3V150.81M214.23 145.3H213.41M213.84 150.81H213.41M214.64 154.32V156.32M215.1 154.32H214.64M215.1 156.32H214.64M214.55 158.32V160.32M215.1 158.32H214.55M215.1 160.32H214.55M213.99 155.32V159.32M214.64 155.32H213.99M214.55 159.32H213.99M212.97 148.06V157.32M213.41 148.06H212.97M213.99 157.32H212.97M214.66 162.33V164.33M215.1 162.33H214.66M215.1 164.33H214.66M214.05 163.33V166.33M214.66 163.33H214.05M215.1 166.33H214.05M214.61 168.34V170.34M215.1 168.34H214.61M215.1 170.34H214.61M213.09 164.83V169.34M214.05 164.83H213.09M214.61 169.34H213.09M214.59 172.34V174.34M215.1 172.34H214.59M215.1 174.34H214.59M212.21 167.08V173.34M213.09 167.08H212.21M214.59 173.34H212.21M211.72 152.69V170.21M212.97 152.69H211.72M212.21 170.21H211.72M214.57 176.35V178.35M215.1 176.35H214.57M215.1 178.35H214.57M214.55 182.36V184.36M215.1 182.36H214.55M215.1 184.36H214.55M213.68 180.35V183.36M215.1 180.35H213.68M214.55 183.36H213.68M213.14 177.35V181.86M214.57 177.35H213.14M213.68 181.86H213.14M214.25 186.36V188.36M215.1 186.36H214.25M215.1 188.36H214.25M213.5 187.36V190.37M214.25 187.36H213.5M215.1 190.37H213.5M212.67 188.87V192.37M213.5 188.87H212.67M215.1 192.37H212.67M212.17 179.6V190.62M213.14 179.6H212.17M212.67 190.62H212.17M214.18 196.38V198.38M215.1 196.38H214.18M215.1 198.38H214.18M213.53 194.37V197.38M215.1 194.37H213.53M214.18 197.38H213.53M214.42 200.38V202.38M215.1 200.38H214.42M215.1 202.38H214.42M212.89 195.88V201.38M213.53 195.88H212.89M214.42 201.38H212.89M214.63 206.39V208.39M215.1 206.39H214.63M215.1 208.39H214.63M213.8 204.39V207.39M215.1 204.39H213.8M214.63 207.39H213.8M214.4 210.4V212.4M215.1 210.4H214.4M215.1 212.4H214.4M213.1 205.89V211.4M213.8 205.89H213.1M214.4 211.4H213.1M212.15 198.63V208.64M212.89 198.63H212.15M213.1 208.64H212.15M211.31 185.11V203.64M212.17 185.11H211.31M212.15 203.64H211.31M214.33 214.4V216.4M215.1 214.4H214.33M215.1 216.4H214.33M213.8 215.4V218.41M214.33 215.4H213.8M215.1 218.41H213.8M214.16 220.41V222.41M215.1 220.41H214.16M215.1 222.41H214.16M214.51 224.42V226.42M215.1 224.42H214.51M215.1 226.42H214.51M214.64 228.42V230.42M215.1 228.42H214.64M215.1 230.42H214.64M213.62 225.42V229.42M214.51 225.42H213.62M214.64 229.42H213.62M212.76 221.41V227.42M214.16 221.41H212.76M213.62 227.42H212.76M212.13 216.91V224.42M213.8 216.91H212.13M212.76 224.42H212.13M210.5 194.37V220.66M211.31 194.37H210.5M212.13 220.66H210.5M209.7 161.45V207.52M211.72 161.45H209.7M210.5 207.52H209.7" stroke="#24a486" stroke-width="0.45" fill="none"/>
<path d="M214.36 232.43V234.43M215.1 232.43H214.36M215.1 234.43H214.36M213.69 233.43V236.43M214.36 233.43H213.69M215.1 236.43H213.69M213.1 234.93V238.44M213.69 234.93H213.1M215.1 238.44H213.1M214.56 240.44V242.44M215.1 240.44H214.56M215.1 242.44H214.56M212.61 236.68V241.44M213.1 236.68H212.61M214.56 241.44H212.61M214.16 244.44V246.45M215.1 244.44H214.16M215.1 246.45H214.16M214.5 248.45V250.45M215.1 248.45H214.5M215.1 250.45H214.5M213.54 245.45V249.45M214.16 245.45H213.54M214.5 249.45H213.54M214.55 252.46V254.46M215.1 252.46H214.55M215.1 254.46H214.55M213.05 247.45V253.46M213.54 247.45H213.05M214.55 253.46H213.05M211.96 239.06V250.45M212.61 239.06H211.96M213.05 250.45H211.96M214.37 256.46V258.46M215.1 256.46H214.37M215.1 258.46H214.37M213.77 257.46V260.47M214.37 257.46H213.77M215.1 260.47H213.77M214.34 262.47V264.47M215.1 262.47H214.34M215.1 264.47H214.34M212.89 258.97V263.47M213.77 258.97H212.89M214.34 263.47H212.89M211.5 244.76V261.22M211.96 244.76H211.5M212.89 261.22H211.5M214.13 266.48V268.48M215.1 266.48H214.13M215.1 268.48H214.13M213.32 267.48V270.48M214.13 267.48H213.32M215.1 270.48H213.32M214.47 272.48V274.49M215.1 272.48H214.47M215.1 274.49H214.47M213.71 273.49V276.49M214.47 273.49H213.71M215.1 276.49H213.71M214.65 280.5V282.5M215.1 280.5H214.65M215.1 282.5H214.65M213.79 278.49V281.5M215.1 278.49H213.79M214.65 281.5H213.79M212.69 274.99V280M213.71 274.99H212.69M213.79 280H212.69M212.23 268.98V277.49M213.32 268.98H212.23M212.69 277.49H212.23M210.7 252.99V273.24M211.5 252.99H210.7M212.23 273.24H210.7" stroke="#da7a96" stroke-width="0.45" fill="none"/>
<line x1="207.3" y1="184.48" x2="209.7" y2="184.48" stroke="#24a486" stroke-width="0.45"/>
<line x1="207.3" y1="263.11" x2="210.7" y2="263.11" stroke="#da7a96" stroke-width="0.45"/>
<line x1="207.3" y1="184.48" x2="207.3" y2="230.9" stroke="#24a486" stroke-width="0.45"/>
<line x1="207.3" y1="230.9" x2="207.3" y2="263.11" stroke="#da7a96" stroke-width="0.45"/>
<line x1="290.3" y1="146.6" x2="299.4" y2="146.6" stroke="#000000" stroke-width="1.8"/>
<text x="303.2" y="148.95">sgNTC + sgNTC</text>
<line x1="290.3" y1="154.33" x2="299.4" y2="154.33" stroke="#0f9a78" stroke-width="1.8"/>
<text x="303.2" y="156.68">sg<tspan font-style="italic">Vdac2</tspan> + sgNTC</text>
<line x1="290.3" y1="162.06" x2="299.4" y2="162.06" stroke="#d2640e" stroke-width="1.8"/>
<text x="303.2" y="164.41">sgNTC + sg<tspan font-style="italic">Bak1</tspan></text>
<line x1="290.3" y1="169.79" x2="299.4" y2="169.79" stroke="#0a32f0" stroke-width="1.8"/>
<text x="303.2" y="172.14">sg<tspan font-style="italic">Vdac2</tspan> + sg<tspan font-style="italic">Bak1</tspan></text>
<text x="292.8" y="205.65">Row <tspan font-style="italic">z</tspan> score</text>
<defs><linearGradient id="zg" x1="0" y1="0" x2="0" y2="1"><stop offset="0" stop-color="#f8321c"/><stop offset="0.27" stop-color="#f89a80"/><stop offset="0.5" stop-color="#f2f0fa"/><stop offset="0.73" stop-color="#a89ef6"/><stop offset="1" stop-color="#3c22f0"/></linearGradient></defs>
<rect x="294.2" y="209" width="5.9" height="30.4" fill="url(#zg)"/>
<text x="302.9" y="213.35">2</text>
<text x="302.9" y="219.95">1</text>
<text x="302.9" y="226.65">0</text>
<text x="302.9" y="233.25">−1</text>
<text x="302.9" y="239.95">−2</text>
<text x="-0.4" y="237.7" font-size="11.2" font-weight="bold" fill="#000" stroke="#000" stroke-width="0.35">g</text>
<path d="M28.6 305.1V301.52H35.2V305.1" stroke="#231f20" stroke-width="0.6" fill="#fff"/>
<path d="M38.1 305.1V272.07H44.7V305.1" stroke="#231f20" stroke-width="0.6" fill="#fff"/>
<path d="M47.5 305.1V301.52H54.1V305.1" stroke="#231f20" stroke-width="0.6" fill="#fff"/>
<path d="M57 305.1V278.43H63.6V305.1" stroke="#231f20" stroke-width="0.6" fill="#fff"/>
<path d="M66.4 305.1V279.63H73V305.1" stroke="#231f20" stroke-width="0.6" fill="#fff"/>
<path d="M75.8 305.1V272.86H82.4V305.1" stroke="#231f20" stroke-width="0.6" fill="#fff"/>
<circle cx="30.4" cy="301.84" r="1.15" fill="#333333"/>
<circle cx="31.9" cy="301.28" r="1.15" fill="#333333"/>
<circle cx="33.4" cy="301.44" r="1.15" fill="#333333"/>
<line x1="31.9" y1="302" x2="31.9" y2="301.04" stroke="#e0442a" stroke-width="0.6"/>
<line x1="30.5" y1="301.04" x2="33.3" y2="301.04" stroke="#e0442a" stroke-width="0.6"/>
<circle cx="39.9" cy="272.38" r="1.15" fill="#2bb39a"/>
<circle cx="41.4" cy="271.83" r="1.15" fill="#2bb39a"/>
<circle cx="42.9" cy="271.99" r="1.15" fill="#2bb39a"/>
<line x1="41.4" y1="272.54" x2="41.4" y2="271.59" stroke="#e0442a" stroke-width="0.6"/>
<line x1="40" y1="271.59" x2="42.8" y2="271.59" stroke="#e0442a" stroke-width="0.6"/>
<circle cx="49.3" cy="301.84" r="1.15" fill="#f08a24"/>
<circle cx="50.8" cy="301.28" r="1.15" fill="#f08a24"/>
<circle cx="52.3" cy="301.44" r="1.15" fill="#f08a24"/>
<line x1="50.8" y1="302" x2="50.8" y2="301.04" stroke="#e0442a" stroke-width="0.6"/>
<line x1="49.4" y1="301.04" x2="52.2" y2="301.04" stroke="#e0442a" stroke-width="0.6"/>
<circle cx="58.8" cy="278.75" r="1.15" fill="#2f6ff0"/>
<circle cx="60.3" cy="278.2" r="1.15" fill="#2f6ff0"/>
<circle cx="61.8" cy="278.35" r="1.15" fill="#2f6ff0"/>
<line x1="60.3" y1="278.91" x2="60.3" y2="277.96" stroke="#e0442a" stroke-width="0.6"/>
<line x1="58.9" y1="277.96" x2="61.7" y2="277.96" stroke="#e0442a" stroke-width="0.6"/>
<circle cx="68.2" cy="279.95" r="1.15" fill="#e8a0c8"/>
<circle cx="69.7" cy="279.39" r="1.15" fill="#e8a0c8"/>
<circle cx="71.2" cy="279.55" r="1.15" fill="#e8a0c8"/>
<line x1="69.7" y1="280.11" x2="69.7" y2="279.15" stroke="#e0442a" stroke-width="0.6"/>
<line x1="68.3" y1="279.15" x2="71.1" y2="279.15" stroke="#e0442a" stroke-width="0.6"/>
<circle cx="77.6" cy="273.18" r="1.15" fill="#86c8f0"/>
<circle cx="79.1" cy="272.62" r="1.15" fill="#86c8f0"/>
<circle cx="80.6" cy="272.78" r="1.15" fill="#86c8f0"/>
<line x1="79.1" y1="273.34" x2="79.1" y2="272.38" stroke="#e0442a" stroke-width="0.6"/>
<line x1="77.7" y1="272.38" x2="80.5" y2="272.38" stroke="#e0442a" stroke-width="0.6"/>
<line x1="25" y1="305.1" x2="84" y2="305.1" stroke="#231f20" stroke-width="0.6"/>
<line x1="25" y1="265" x2="25" y2="305.4" stroke="#231f20" stroke-width="0.6"/>
<line x1="23.2" y1="305.1" x2="25" y2="305.1" stroke="#231f20" stroke-width="0.6"/>
<text x="21.4" y="307.45" text-anchor="end">0</text>
<line x1="23.2" y1="297.14" x2="25" y2="297.14" stroke="#231f20" stroke-width="0.6"/>
<text x="21.4" y="299.49" text-anchor="end">10</text>
<line x1="23.2" y1="289.18" x2="25" y2="289.18" stroke="#231f20" stroke-width="0.6"/>
<text x="21.4" y="291.53" text-anchor="end">20</text>
<line x1="23.2" y1="281.22" x2="25" y2="281.22" stroke="#231f20" stroke-width="0.6"/>
<text x="21.4" y="283.57" text-anchor="end">30</text>
<line x1="23.2" y1="273.26" x2="25" y2="273.26" stroke="#231f20" stroke-width="0.6"/>
<text x="21.4" y="275.61" text-anchor="end">40</text>
<line x1="23.2" y1="265.3" x2="25" y2="265.3" stroke="#231f20" stroke-width="0.6"/>
<text x="21.4" y="267.65" text-anchor="end">50</text>
<line x1="49.1" y1="251.3" x2="80.6" y2="251.3" stroke="#231f20" stroke-width="0.6"/>
<text x="64.35" y="252.35" font-size="8.2" text-anchor="middle">***</text>
<line x1="49.1" y1="255.4" x2="70.7" y2="255.4" stroke="#231f20" stroke-width="0.6"/>
<text x="59.6" y="257.35" font-size="8.2" text-anchor="middle">***</text>
<line x1="49.1" y1="260.3" x2="60.9" y2="260.3" stroke="#231f20" stroke-width="0.6"/>
<text x="54.8" y="261.75" font-size="8.2" text-anchor="middle">***</text>
<line x1="49.1" y1="260.3" x2="49.1" y2="259.6" stroke="#231f20" stroke-width="0.5"/>
<line x1="40.6" y1="264.2" x2="52" y2="264.2" stroke="#231f20" stroke-width="0.6"/>
<text x="46" y="265.85" font-size="8.2" text-anchor="middle">***</text>
<line x1="30.4" y1="268.4" x2="42.1" y2="268.4" stroke="#231f20" stroke-width="0.6"/>
<text x="36.35" y="270.05" font-size="8.2" text-anchor="middle">***</text>
<text x="55.4" y="313.75" text-anchor="middle">IFNγ 24 h</text>
<text x="6" y="286.85" text-anchor="middle" transform="rotate(-90 6 284.5)">Annexin-V<tspan font-size="4.09" dy="-2.2">+</tspan><tspan dy="2.2">7-AAD</tspan><tspan font-size="4.1" dy="-2.2">+</tspan><tspan dy="2.2"> (%)</tspan></text>
<circle cx="88.7" cy="261.9" r="1.45" fill="#333333"/>
<text x="93.8" y="264.25">sgNTC + EV</text>
<circle cx="88.7" cy="270.02" r="1.45" fill="#2bb39a"/>
<text x="93.8" y="272.37">sg<tspan font-style="italic">Vdac2</tspan> + EV</text>
<circle cx="88.7" cy="278.14" r="1.45" fill="#f08a24"/>
<text x="93.8" y="280.49">sg<tspan font-style="italic">Vdac2</tspan> + HA-VDAC2 WT</text>
<circle cx="88.7" cy="286.26" r="1.45" fill="#2f6ff0"/>
<text x="93.8" y="288.61">sg<tspan font-style="italic">Vdac2</tspan> + HA-VDAC2(A172R)</text>
<circle cx="88.7" cy="294.38" r="1.45" fill="#e8a0c8"/>
<text x="93.8" y="296.73">sg<tspan font-style="italic">Vdac2</tspan> + HA-VDAC2(T168N/D170E)</text>
<circle cx="88.7" cy="302.5" r="1.45" fill="#86c8f0"/>
<text x="93.8" y="304.85">sg<tspan font-style="italic">Vdac2</tspan> + HA-VDAC2(T168N/D170E/A172R)</text>
<text x="335.8" y="231.9" font-size="11.2" font-weight="bold" fill="#000" stroke="#000" stroke-width="0.35">h</text>
<path d="M373 305.2V295.45H379.6V305.2" stroke="#231f20" stroke-width="0.6" fill="#fff"/>
<path d="M382.4 305.2V273.61H389V305.2" stroke="#231f20" stroke-width="0.6" fill="#fff"/>
<path d="M391.9 305.2V295.84H398.5V305.2" stroke="#231f20" stroke-width="0.6" fill="#fff"/>
<path d="M401.3 305.2V275.56H407.9V305.2" stroke="#231f20" stroke-width="0.6" fill="#fff"/>
<path d="M410.6 305.2V276.34H417.2V305.2" stroke="#231f20" stroke-width="0.6" fill="#fff"/>
<path d="M419.9 305.2V272.83H426.5V305.2" stroke="#231f20" stroke-width="0.6" fill="#fff"/>
<circle cx="374.8" cy="295.45" r="1.1" fill="#333333"/>
<circle cx="376.3" cy="295.06" r="1.1" fill="#333333"/>
<circle cx="377.8" cy="295.84" r="1.1" fill="#333333"/>
<line x1="376.3" y1="295.76" x2="376.3" y2="295.14" stroke="#e0442a" stroke-width="0.6"/>
<line x1="374.9" y1="295.14" x2="377.7" y2="295.14" stroke="#e0442a" stroke-width="0.6"/>
<circle cx="384.2" cy="274.78" r="1.1" fill="#2bb39a"/>
<circle cx="385.7" cy="272.44" r="1.1" fill="#2bb39a"/>
<circle cx="387.2" cy="274" r="1.1" fill="#2bb39a"/>
<line x1="385.7" y1="274.55" x2="385.7" y2="272.67" stroke="#e0442a" stroke-width="0.6"/>
<line x1="384.3" y1="272.67" x2="387.1" y2="272.67" stroke="#e0442a" stroke-width="0.6"/>
<circle cx="393.7" cy="296.23" r="1.1" fill="#f08a24"/>
<circle cx="395.2" cy="295.45" r="1.1" fill="#f08a24"/>
<circle cx="396.7" cy="295.84" r="1.1" fill="#f08a24"/>
<line x1="395.2" y1="296.15" x2="395.2" y2="295.53" stroke="#e0442a" stroke-width="0.6"/>
<line x1="393.8" y1="295.53" x2="396.6" y2="295.53" stroke="#e0442a" stroke-width="0.6"/>
<circle cx="403.1" cy="277.12" r="1.1" fill="#2f6ff0"/>
<circle cx="404.6" cy="272.44" r="1.1" fill="#2f6ff0"/>
<circle cx="406.1" cy="275.95" r="1.1" fill="#2f6ff0"/>
<line x1="404.6" y1="277.43" x2="404.6" y2="273.69" stroke="#e0442a" stroke-width="0.6"/>
<line x1="403.2" y1="273.69" x2="406" y2="273.69" stroke="#e0442a" stroke-width="0.6"/>
<circle cx="412.4" cy="276.73" r="1.1" fill="#e8a0c8"/>
<circle cx="413.9" cy="275.56" r="1.1" fill="#e8a0c8"/>
<circle cx="415.4" cy="276.34" r="1.1" fill="#e8a0c8"/>
<line x1="413.9" y1="276.81" x2="413.9" y2="275.87" stroke="#e0442a" stroke-width="0.6"/>
<line x1="412.5" y1="275.87" x2="415.3" y2="275.87" stroke="#e0442a" stroke-width="0.6"/>
<circle cx="421.7" cy="274.78" r="1.1" fill="#86c8f0"/>
<circle cx="423.2" cy="269.32" r="1.1" fill="#86c8f0"/>
<circle cx="424.7" cy="272.44" r="1.1" fill="#86c8f0"/>
<line x1="423.2" y1="275.01" x2="423.2" y2="270.65" stroke="#e0442a" stroke-width="0.6"/>
<line x1="421.8" y1="270.65" x2="424.6" y2="270.65" stroke="#e0442a" stroke-width="0.6"/>
<line x1="372.3" y1="305.2" x2="428.2" y2="305.2" stroke="#231f20" stroke-width="0.6"/>
<line x1="372.3" y1="265.9" x2="372.3" y2="305.5" stroke="#231f20" stroke-width="0.6"/>
<line x1="370.5" y1="305.2" x2="372.3" y2="305.2" stroke="#231f20" stroke-width="0.6"/>
<text x="369.4" y="307.55" text-anchor="end">0</text>
<line x1="370.5" y1="297.4" x2="372.3" y2="297.4" stroke="#231f20" stroke-width="0.6"/>
<text x="369.4" y="299.75" text-anchor="end">20</text>
<line x1="370.5" y1="289.6" x2="372.3" y2="289.6" stroke="#231f20" stroke-width="0.6"/>
<text x="369.4" y="291.95" text-anchor="end">40</text>
<line x1="370.5" y1="281.8" x2="372.3" y2="281.8" stroke="#231f20" stroke-width="0.6"/>
<text x="369.4" y="284.15" text-anchor="end">60</text>
<line x1="370.5" y1="274" x2="372.3" y2="274" stroke="#231f20" stroke-width="0.6"/>
<text x="369.4" y="276.35" text-anchor="end">80</text>
<line x1="370.5" y1="266.2" x2="372.3" y2="266.2" stroke="#231f20" stroke-width="0.6"/>
<text x="369.4" y="268.55" text-anchor="end">100</text>
<line x1="394.6" y1="252.4" x2="425.8" y2="252.4" stroke="#231f20" stroke-width="0.6"/>
<text x="410.2" y="253.95" font-size="8.2" text-anchor="middle">***</text>
<line x1="394.6" y1="256.4" x2="415.7" y2="256.4" stroke="#231f20" stroke-width="0.6"/>
<text x="405.15" y="257.95" font-size="8.2" text-anchor="middle">***</text>
<line x1="394.6" y1="261.1" x2="405.7" y2="261.1" stroke="#231f20" stroke-width="0.6"/>
<text x="400.15" y="262.65" font-size="8.2" text-anchor="middle">***</text>
<line x1="385.7" y1="265.5" x2="396.4" y2="265.5" stroke="#231f20" stroke-width="0.6"/>
<text x="391.05" y="267.05" font-size="8.2" text-anchor="middle">***</text>
<line x1="375.7" y1="269.5" x2="385.7" y2="269.5" stroke="#231f20" stroke-width="0.6"/>
<text x="380.7" y="271.05" font-size="8.2" text-anchor="middle">***</text>
<text x="399.7" y="314.15" text-anchor="middle">IFNγ 24 h</text>
<text x="339.6" y="287.85" text-anchor="middle" transform="rotate(-90 339.6 285.5)">Relative <tspan font-style="italic">Ifnb1</tspan> mRNA</text>
<text x="347.9" y="287.85" text-anchor="middle" transform="rotate(-90 347.9 285.5)">(versus non-treated sgNTC + EV)</text>
<path d="M478 305.5V292.76H484.6V305.5" stroke="#231f20" stroke-width="0.6" fill="#fff"/>
<path d="M487.1 305.5V274.14H493.7V305.5" stroke="#231f20" stroke-width="0.6" fill="#fff"/>
<path d="M496.7 305.5V292.76H503.3V305.5" stroke="#231f20" stroke-width="0.6" fill="#fff"/>
<path d="M506 305.5V274.14H512.6V305.5" stroke="#231f20" stroke-width="0.6" fill="#fff"/>
<path d="M515.3 305.5V276.59H521.9V305.5" stroke="#231f20" stroke-width="0.6" fill="#fff"/>
<path d="M524.7 305.5V274.63H531.3V305.5" stroke="#231f20" stroke-width="0.6" fill="#fff"/>
<circle cx="479.8" cy="292.27" r="1.1" fill="#333333"/>
<circle cx="481.3" cy="293.25" r="1.1" fill="#333333"/>
<circle cx="482.8" cy="292.76" r="1.1" fill="#333333"/>
<line x1="481.3" y1="293.15" x2="481.3" y2="292.37" stroke="#e0442a" stroke-width="0.6"/>
<line x1="479.9" y1="292.37" x2="482.7" y2="292.37" stroke="#e0442a" stroke-width="0.6"/>
<circle cx="488.9" cy="275.12" r="1.1" fill="#2bb39a"/>
<circle cx="490.4" cy="272.18" r="1.1" fill="#2bb39a"/>
<circle cx="491.9" cy="274.63" r="1.1" fill="#2bb39a"/>
<line x1="490.4" y1="275.32" x2="490.4" y2="272.96" stroke="#e0442a" stroke-width="0.6"/>
<line x1="489" y1="272.96" x2="491.8" y2="272.96" stroke="#e0442a" stroke-width="0.6"/>
<circle cx="498.5" cy="293.74" r="1.1" fill="#f08a24"/>
<circle cx="500" cy="291.29" r="1.1" fill="#f08a24"/>
<circle cx="501.5" cy="292.76" r="1.1" fill="#f08a24"/>
<line x1="500" y1="293.74" x2="500" y2="291.78" stroke="#e0442a" stroke-width="0.6"/>
<line x1="498.6" y1="291.78" x2="501.4" y2="291.78" stroke="#e0442a" stroke-width="0.6"/>
<circle cx="507.8" cy="274.63" r="1.1" fill="#2f6ff0"/>
<circle cx="509.3" cy="273.16" r="1.1" fill="#2f6ff0"/>
<circle cx="510.8" cy="275.12" r="1.1" fill="#2f6ff0"/>
<line x1="509.3" y1="274.92" x2="509.3" y2="273.36" stroke="#e0442a" stroke-width="0.6"/>
<line x1="507.9" y1="273.36" x2="510.7" y2="273.36" stroke="#e0442a" stroke-width="0.6"/>
<circle cx="517.1" cy="276.59" r="1.1" fill="#e8a0c8"/>
<circle cx="518.6" cy="276.1" r="1.1" fill="#e8a0c8"/>
<circle cx="520.1" cy="277.08" r="1.1" fill="#e8a0c8"/>
<line x1="518.6" y1="276.98" x2="518.6" y2="276.2" stroke="#e0442a" stroke-width="0.6"/>
<line x1="517.2" y1="276.2" x2="520" y2="276.2" stroke="#e0442a" stroke-width="0.6"/>
<circle cx="526.5" cy="277.08" r="1.1" fill="#86c8f0"/>
<circle cx="528" cy="271.2" r="1.1" fill="#86c8f0"/>
<circle cx="529.5" cy="275.12" r="1.1" fill="#86c8f0"/>
<line x1="528" y1="276.98" x2="528" y2="272.28" stroke="#e0442a" stroke-width="0.6"/>
<line x1="526.6" y1="272.28" x2="529.4" y2="272.28" stroke="#e0442a" stroke-width="0.6"/>
<line x1="474.4" y1="305.5" x2="533" y2="305.5" stroke="#231f20" stroke-width="0.6"/>
<line x1="474.4" y1="266" x2="474.4" y2="305.8" stroke="#231f20" stroke-width="0.6"/>
<line x1="472.6" y1="305.5" x2="474.4" y2="305.5" stroke="#231f20" stroke-width="0.6"/>
<text x="470.4" y="307.85" text-anchor="end">0</text>
<line x1="472.6" y1="295.7" x2="474.4" y2="295.7" stroke="#231f20" stroke-width="0.6"/>
<text x="470.4" y="298.05" text-anchor="end">20</text>
<line x1="472.6" y1="285.9" x2="474.4" y2="285.9" stroke="#231f20" stroke-width="0.6"/>
<text x="470.4" y="288.25" text-anchor="end">40</text>
<line x1="472.6" y1="276.1" x2="474.4" y2="276.1" stroke="#231f20" stroke-width="0.6"/>
<text x="470.4" y="278.45" text-anchor="end">60</text>
<line x1="472.6" y1="266.3" x2="474.4" y2="266.3" stroke="#231f20" stroke-width="0.6"/>
<text x="470.4" y="268.65" text-anchor="end">80</text>
<line x1="499.5" y1="252" x2="530.5" y2="252" stroke="#231f20" stroke-width="0.6"/>
<text x="515" y="253.55" font-size="8.2" text-anchor="middle">***</text>
<line x1="499.5" y1="256.5" x2="521" y2="256.5" stroke="#231f20" stroke-width="0.6"/>
<text x="510.25" y="258.05" font-size="8.2" text-anchor="middle">***</text>
<line x1="499.5" y1="261" x2="510.8" y2="261" stroke="#231f20" stroke-width="0.6"/>
<text x="505.15" y="262.55" font-size="8.2" text-anchor="middle">***</text>
<line x1="490.4" y1="265.5" x2="501" y2="265.5" stroke="#231f20" stroke-width="0.6"/>
<text x="495.7" y="267.05" font-size="8.2" text-anchor="middle">***</text>
<line x1="481" y1="269.7" x2="490.4" y2="269.7" stroke="#231f20" stroke-width="0.6"/>
<text x="485.7" y="271.25" font-size="8.2" text-anchor="middle">***</text>
<text x="504.6" y="314.15" text-anchor="middle">IFNγ 24 h</text>
<text x="445.3" y="287.85" text-anchor="middle" transform="rotate(-90 445.3 285.5)">Relative <tspan font-style="italic">Cxcl5</tspan> mRNA</text>
<text x="453.8" y="287.85" text-anchor="middle" transform="rotate(-90 453.8 285.5)">(versus non-treated sgNTC + EV)</text>
<circle cx="544.4" cy="262" r="1.25" fill="none" stroke="#333333" stroke-width="0.8"/>
<text x="549.9" y="264.35">sgNTC + EV</text>
<circle cx="544.4" cy="270.32" r="1.25" fill="none" stroke="#2bb39a" stroke-width="0.8"/>
<text x="549.9" y="272.67">sg<tspan font-style="italic">Vdac2</tspan> + EV</text>
<circle cx="544.4" cy="278.64" r="1.25" fill="none" stroke="#f08a24" stroke-width="0.8"/>
<text x="549.9" y="280.99">sg<tspan font-style="italic">Vdac2</tspan> + HA-VDAC2 WT</text>
<circle cx="544.4" cy="286.96" r="1.25" fill="none" stroke="#2f6ff0" stroke-width="0.8"/>
<text x="549.9" y="289.31">sg<tspan font-style="italic">Vdac2</tspan> + HA-VDAC2(A172R)</text>
<circle cx="544.4" cy="295.28" r="1.25" fill="none" stroke="#e8a0c8" stroke-width="0.8"/>
<text x="549.9" y="297.63">sg<tspan font-style="italic">Vdac2</tspan> + HA-VDAC2(T168N/D170E)</text>
<circle cx="544.4" cy="303.6" r="1.25" fill="none" stroke="#86c8f0" stroke-width="0.8"/>
<text x="549.9" y="305.95">sg<tspan font-style="italic">Vdac2</tspan> + HA-VDAC2(T168N/D170E/A172R)</text>
<text x="0.2" y="344.8" font-size="11.2" font-weight="bold" fill="#000" stroke="#000" stroke-width="0.35">i</text>
<path d="M34 403.15 L40.5 402 L47 400.4 L53.5 396.27 L60 389.38 L66.5 380.2 L73 367.58" stroke="#f08a24" stroke-width="1" fill="none"/>
<line x1="34" y1="403.61" x2="34" y2="402.69" stroke="#f08a24" stroke-width="0.6"/>
<line x1="33.2" y1="402.69" x2="34.8" y2="402.69" stroke="#f08a24" stroke-width="0.5"/>
<circle cx="34" cy="403.15" r="1.25" fill="#f08a24"/>
<line x1="40.5" y1="402.46" x2="40.5" y2="401.55" stroke="#f08a24" stroke-width="0.6"/>
<line x1="39.7" y1="401.55" x2="41.3" y2="401.55" stroke="#f08a24" stroke-width="0.5"/>
<circle cx="40.5" cy="402" r="1.25" fill="#f08a24"/>
<line x1="47" y1="401.09" x2="47" y2="399.71" stroke="#f08a24" stroke-width="0.6"/>
<line x1="46.2" y1="399.71" x2="47.8" y2="399.71" stroke="#f08a24" stroke-width="0.5"/>
<circle cx="47" cy="400.4" r="1.25" fill="#f08a24"/>
<line x1="53.5" y1="397.42" x2="53.5" y2="395.12" stroke="#f08a24" stroke-width="0.6"/>
<line x1="52.7" y1="395.12" x2="54.3" y2="395.12" stroke="#f08a24" stroke-width="0.5"/>
<circle cx="53.5" cy="396.27" r="1.25" fill="#f08a24"/>
<line x1="60" y1="391.22" x2="60" y2="387.55" stroke="#f08a24" stroke-width="0.6"/>
<line x1="59.2" y1="387.55" x2="60.8" y2="387.55" stroke="#f08a24" stroke-width="0.5"/>
<circle cx="60" cy="389.38" r="1.25" fill="#f08a24"/>
<line x1="66.5" y1="382.96" x2="66.5" y2="377.45" stroke="#f08a24" stroke-width="0.6"/>
<line x1="65.7" y1="377.45" x2="67.3" y2="377.45" stroke="#f08a24" stroke-width="0.5"/>
<circle cx="66.5" cy="380.2" r="1.25" fill="#f08a24"/>
<line x1="73" y1="371.25" x2="73" y2="363.91" stroke="#f08a24" stroke-width="0.6"/>
<line x1="72.2" y1="363.91" x2="73.8" y2="363.91" stroke="#f08a24" stroke-width="0.5"/>
<circle cx="73" cy="367.58" r="1.25" fill="#f08a24"/>
<path d="M34 403.15 L40.5 402 L47 400.86 L53.5 398.56 L60 391.68 L66.5 383.64 L73 369.88" stroke="#222222" stroke-width="1" fill="none"/>
<line x1="34" y1="403.61" x2="34" y2="402.69" stroke="#222222" stroke-width="0.6"/>
<line x1="33.2" y1="402.69" x2="34.8" y2="402.69" stroke="#222222" stroke-width="0.5"/>
<circle cx="34" cy="403.15" r="1.25" fill="#222222"/>
<line x1="40.5" y1="402.46" x2="40.5" y2="401.55" stroke="#222222" stroke-width="0.6"/>
<line x1="39.7" y1="401.55" x2="41.3" y2="401.55" stroke="#222222" stroke-width="0.5"/>
<circle cx="40.5" cy="402" r="1.25" fill="#222222"/>
<line x1="47" y1="401.55" x2="47" y2="400.17" stroke="#222222" stroke-width="0.6"/>
<line x1="46.2" y1="400.17" x2="47.8" y2="400.17" stroke="#222222" stroke-width="0.5"/>
<circle cx="47" cy="400.86" r="1.25" fill="#222222"/>
<line x1="53.5" y1="399.48" x2="53.5" y2="397.64" stroke="#222222" stroke-width="0.6"/>
<line x1="52.7" y1="397.64" x2="54.3" y2="397.64" stroke="#222222" stroke-width="0.5"/>
<circle cx="53.5" cy="398.56" r="1.25" fill="#222222"/>
<line x1="60" y1="393.28" x2="60" y2="390.07" stroke="#222222" stroke-width="0.6"/>
<line x1="59.2" y1="390.07" x2="60.8" y2="390.07" stroke="#222222" stroke-width="0.5"/>
<circle cx="60" cy="391.68" r="1.25" fill="#222222"/>
<line x1="66.5" y1="385.94" x2="66.5" y2="381.35" stroke="#222222" stroke-width="0.6"/>
<line x1="65.7" y1="381.35" x2="67.3" y2="381.35" stroke="#222222" stroke-width="0.5"/>
<circle cx="66.5" cy="383.64" r="1.25" fill="#222222"/>
<line x1="73" y1="372.63" x2="73" y2="367.12" stroke="#222222" stroke-width="0.6"/>
<line x1="72.2" y1="367.12" x2="73.8" y2="367.12" stroke="#222222" stroke-width="0.5"/>
<circle cx="73" cy="369.88" r="1.25" fill="#222222"/>
<path d="M34 403.15 L40.5 402 L47 400.86 L53.5 397.87 L60 392.82 L66.5 385.94 L73 374.46" stroke="#2f6ff0" stroke-width="1" fill="none"/>
<line x1="34" y1="403.61" x2="34" y2="402.69" stroke="#2f6ff0" stroke-width="0.6"/>
<line x1="33.2" y1="402.69" x2="34.8" y2="402.69" stroke="#2f6ff0" stroke-width="0.5"/>
<circle cx="34" cy="403.15" r="1.25" fill="#2f6ff0"/>
<line x1="40.5" y1="402.46" x2="40.5" y2="401.55" stroke="#2f6ff0" stroke-width="0.6"/>
<line x1="39.7" y1="401.55" x2="41.3" y2="401.55" stroke="#2f6ff0" stroke-width="0.5"/>
<circle cx="40.5" cy="402" r="1.25" fill="#2f6ff0"/>
<line x1="47" y1="401.55" x2="47" y2="400.17" stroke="#2f6ff0" stroke-width="0.6"/>
<line x1="46.2" y1="400.17" x2="47.8" y2="400.17" stroke="#2f6ff0" stroke-width="0.5"/>
<circle cx="47" cy="400.86" r="1.25" fill="#2f6ff0"/>
<line x1="53.5" y1="398.79" x2="53.5" y2="396.96" stroke="#2f6ff0" stroke-width="0.6"/>
<line x1="52.7" y1="396.96" x2="54.3" y2="396.96" stroke="#2f6ff0" stroke-width="0.5"/>
<circle cx="53.5" cy="397.87" r="1.25" fill="#2f6ff0"/>
<line x1="60" y1="394.43" x2="60" y2="391.22" stroke="#2f6ff0" stroke-width="0.6"/>
<line x1="59.2" y1="391.22" x2="60.8" y2="391.22" stroke="#2f6ff0" stroke-width="0.5"/>
<circle cx="60" cy="392.82" r="1.25" fill="#2f6ff0"/>
<line x1="66.5" y1="388.69" x2="66.5" y2="383.19" stroke="#2f6ff0" stroke-width="0.6"/>
<line x1="65.7" y1="383.19" x2="67.3" y2="383.19" stroke="#2f6ff0" stroke-width="0.5"/>
<circle cx="66.5" cy="385.94" r="1.25" fill="#2f6ff0"/>
<line x1="73" y1="377.91" x2="73" y2="371.02" stroke="#2f6ff0" stroke-width="0.6"/>
<line x1="72.2" y1="371.02" x2="73.8" y2="371.02" stroke="#2f6ff0" stroke-width="0.5"/>
<circle cx="73" cy="374.46" r="1.25" fill="#2f6ff0"/>
<path d="M34 403.15 L40.5 402 L47 401.55 L53.5 399.71 L60 397.42 L66.5 394.43 L73 390.07" stroke="#2bb39a" stroke-width="1" fill="none"/>
<line x1="34" y1="403.61" x2="34" y2="402.69" stroke="#2bb39a" stroke-width="0.6"/>
<line x1="33.2" y1="402.69" x2="34.8" y2="402.69" stroke="#2bb39a" stroke-width="0.5"/>
<circle cx="34" cy="403.15" r="1.25" fill="#2bb39a"/>
<line x1="40.5" y1="402.46" x2="40.5" y2="401.55" stroke="#2bb39a" stroke-width="0.6"/>
<line x1="39.7" y1="401.55" x2="41.3" y2="401.55" stroke="#2bb39a" stroke-width="0.5"/>
<circle cx="40.5" cy="402" r="1.25" fill="#2bb39a"/>
<line x1="47" y1="402" x2="47" y2="401.09" stroke="#2bb39a" stroke-width="0.6"/>
<line x1="46.2" y1="401.09" x2="47.8" y2="401.09" stroke="#2bb39a" stroke-width="0.5"/>
<circle cx="47" cy="401.55" r="1.25" fill="#2bb39a"/>
<line x1="53.5" y1="400.4" x2="53.5" y2="399.02" stroke="#2bb39a" stroke-width="0.6"/>
<line x1="52.7" y1="399.02" x2="54.3" y2="399.02" stroke="#2bb39a" stroke-width="0.5"/>
<circle cx="53.5" cy="399.71" r="1.25" fill="#2bb39a"/>
<line x1="60" y1="398.33" x2="60" y2="396.5" stroke="#2bb39a" stroke-width="0.6"/>
<line x1="59.2" y1="396.5" x2="60.8" y2="396.5" stroke="#2bb39a" stroke-width="0.5"/>
<circle cx="60" cy="397.42" r="1.25" fill="#2bb39a"/>
<line x1="66.5" y1="395.58" x2="66.5" y2="393.28" stroke="#2bb39a" stroke-width="0.6"/>
<line x1="65.7" y1="393.28" x2="67.3" y2="393.28" stroke="#2bb39a" stroke-width="0.5"/>
<circle cx="66.5" cy="394.43" r="1.25" fill="#2bb39a"/>
<line x1="73" y1="391.91" x2="73" y2="388.24" stroke="#2bb39a" stroke-width="0.6"/>
<line x1="72.2" y1="388.24" x2="73.8" y2="388.24" stroke="#2bb39a" stroke-width="0.5"/>
<circle cx="73" cy="390.07" r="1.25" fill="#2bb39a"/>
<line x1="29.5" y1="404.3" x2="76.1" y2="404.3" stroke="#231f20" stroke-width="0.6"/>
<line x1="29.5" y1="358.1" x2="29.5" y2="404.6" stroke="#231f20" stroke-width="0.6"/>
<line x1="27.7" y1="404.3" x2="29.5" y2="404.3" stroke="#231f20" stroke-width="0.6"/>
<text x="24.2" y="406.65" text-anchor="end">0</text>
<line x1="27.7" y1="392.82" x2="29.5" y2="392.82" stroke="#231f20" stroke-width="0.6"/>
<text x="24.2" y="395.18" text-anchor="end">5</text>
<line x1="27.7" y1="381.35" x2="29.5" y2="381.35" stroke="#231f20" stroke-width="0.6"/>
<text x="24.2" y="383.7" text-anchor="end">10</text>
<line x1="27.7" y1="369.88" x2="29.5" y2="369.88" stroke="#231f20" stroke-width="0.6"/>
<text x="24.2" y="372.23" text-anchor="end">15</text>
<line x1="27.7" y1="358.4" x2="29.5" y2="358.4" stroke="#231f20" stroke-width="0.6"/>
<text x="24.2" y="360.75" text-anchor="end">20</text>
<line x1="34" y1="404.3" x2="34" y2="406.1" stroke="#231f20" stroke-width="0.6"/>
<text x="34" y="415.95" text-anchor="middle">7</text>
<line x1="47" y1="404.3" x2="47" y2="406.1" stroke="#231f20" stroke-width="0.6"/>
<text x="47" y="415.95" text-anchor="middle">11</text>
<line x1="60" y1="404.3" x2="60" y2="406.1" stroke="#231f20" stroke-width="0.6"/>
<text x="60" y="415.95" text-anchor="middle">15</text>
<line x1="73" y1="404.3" x2="73" y2="406.1" stroke="#231f20" stroke-width="0.6"/>
<text x="73" y="415.95" text-anchor="middle">19</text>
<text x="53.4" y="425.55" text-anchor="middle">Days after inoculation</text>
<text x="9.3" y="382.85" text-anchor="middle" transform="rotate(-90 9.3 380.5)">Tumour size (×10<tspan font-size="4.09" dy="-2.2">2</tspan><tspan dy="2.2"> mm</tspan><tspan font-size="4.1" dy="-2.2">3</tspan><tspan dy="2.2">)</tspan></text>
<line x1="87.3" y1="368.3" x2="94.9" y2="368.3" stroke="#222222" stroke-width="0.9"/>
<circle cx="91.1" cy="368.3" r="1.4" fill="#222222"/>
<text x="98.3" y="370.65">sgNTC + sgNTC (<tspan font-style="italic">n</tspan> = 7)</text>
<line x1="87.3" y1="376.53" x2="94.9" y2="376.53" stroke="#2bb39a" stroke-width="0.9"/>
<circle cx="91.1" cy="376.53" r="1.4" fill="#2bb39a"/>
<text x="98.3" y="378.88">sg<tspan font-style="italic">Vdac2</tspan> + sgNTC (<tspan font-style="italic">n</tspan> = 8)</text>
<line x1="87.3" y1="384.76" x2="94.9" y2="384.76" stroke="#f08a24" stroke-width="0.9"/>
<circle cx="91.1" cy="384.76" r="1.4" fill="#f08a24"/>
<text x="98.3" y="387.11">sgNTC + sg<tspan font-style="italic">Bak1</tspan> (<tspan font-style="italic">n</tspan> = 5)</text>
<line x1="87.3" y1="392.99" x2="94.9" y2="392.99" stroke="#2f6ff0" stroke-width="0.9"/>
<circle cx="91.1" cy="392.99" r="1.4" fill="#2f6ff0"/>
<text x="98.3" y="395.34">sg<tspan font-style="italic">Vdac2</tspan> + sg<tspan font-style="italic">Bak1</tspan> (<tspan font-style="italic">n</tspan> = 6)</text>
<line x1="176.7" y1="367.3" x2="176.7" y2="376.8" stroke="#231f20" stroke-width="0.6"/>
<text x="179.9" y="375.85" font-size="8.2" text-anchor="middle" transform="rotate(90 179.9 372)">***</text>
<line x1="183.1" y1="377.4" x2="183.1" y2="393.9" stroke="#231f20" stroke-width="0.6"/>
<text x="186.1" y="389.35" font-size="8.2" text-anchor="middle" transform="rotate(90 186.1 385.5)">***</text>
<line x1="190.3" y1="367.3" x2="190.3" y2="393.9" stroke="#231f20" stroke-width="0.6"/>
<text x="192.2" y="384.85">NS</text>
<path d="M261.7 360.4 H297.56 V365.99 H299.19 V371.57 H301.63 V377.16 H301.63 V388.34 H304.9 V393.93 H305.71 V399.51 H307.34 V405.1" stroke="#2bb39a" stroke-width="0.75" fill="none"/>
<path d="M261.7 360.4 H291.04 V373.81 H291.69 V379.62 H292.67 V387.22 H294.95 V396.16 H297.56 V405.1" stroke="#f08a24" stroke-width="0.75" fill="none"/>
<path d="M261.7 360.4 H292.02 V367.1 H292.83 V379.62 H296.26 V385.88 H296.91 V396.16 H299.19 V405.1" stroke="#2f6ff0" stroke-width="0.75" fill="none"/>
<path d="M261.7 360.4 H291.04 V373.81 H292.67 V385.88 H297.23 V396.16 H297.72 V405.1" stroke="#222222" stroke-width="0.75" fill="none"/>
<line x1="261.7" y1="360.1" x2="261.7" y2="405.1" stroke="#231f20" stroke-width="0.6"/>
<line x1="261.7" y1="405.1" x2="310.6" y2="405.1" stroke="#231f20" stroke-width="0.6"/>
<line x1="259.9" y1="405.1" x2="261.7" y2="405.1" stroke="#231f20" stroke-width="0.6"/>
<text x="257" y="407.45" text-anchor="end">0</text>
<line x1="259.9" y1="382.75" x2="261.7" y2="382.75" stroke="#231f20" stroke-width="0.6"/>
<text x="257" y="385.1" text-anchor="end">50</text>
<line x1="259.9" y1="360.4" x2="261.7" y2="360.4" stroke="#231f20" stroke-width="0.6"/>
<text x="257" y="362.75" text-anchor="end">100</text>
<line x1="261.7" y1="405.1" x2="261.7" y2="406.9" stroke="#231f20" stroke-width="0.6"/>
<text x="261.7" y="414.95" text-anchor="middle">0</text>
<line x1="278" y1="405.1" x2="278" y2="406.9" stroke="#231f20" stroke-width="0.6"/>
<text x="278" y="414.95" text-anchor="middle">10</text>
<line x1="294.3" y1="405.1" x2="294.3" y2="406.9" stroke="#231f20" stroke-width="0.6"/>
<text x="294.3" y="414.95" text-anchor="middle">20</text>
<line x1="310.6" y1="405.1" x2="310.6" y2="406.9" stroke="#231f20" stroke-width="0.6"/>
<text x="310.6" y="414.95" text-anchor="middle">30</text>
<text x="285.7" y="425.65" text-anchor="middle">Days after inoculation</text>
<text x="238.9" y="385.15" text-anchor="middle" transform="rotate(-90 238.9 382.8)">Survival (%)</text>
<line x1="314" y1="365.5" x2="321.4" y2="365.5" stroke="#222222" stroke-width="0.7"/>
<line x1="317.7" y1="364.5" x2="317.7" y2="365.5" stroke="#222222" stroke-width="0.5"/>
<text x="324.7" y="367.85">sgNTC + sgNTC</text>
<line x1="314" y1="373.77" x2="321.4" y2="373.77" stroke="#2bb39a" stroke-width="0.7"/>
<line x1="317.7" y1="372.77" x2="317.7" y2="373.77" stroke="#2bb39a" stroke-width="0.5"/>
<text x="324.7" y="376.12"><tspan font-style="italic">sgVdac2</tspan> + sgNTC</text>
<line x1="314" y1="382.04" x2="321.4" y2="382.04" stroke="#f08a24" stroke-width="0.7"/>
<line x1="317.7" y1="381.04" x2="317.7" y2="382.04" stroke="#f08a24" stroke-width="0.5"/>
<text x="324.7" y="384.39">sgNTC + <tspan font-style="italic">sgBak1</tspan></text>
<line x1="314" y1="390.31" x2="321.4" y2="390.31" stroke="#2f6ff0" stroke-width="0.7"/>
<line x1="317.7" y1="389.31" x2="317.7" y2="390.31" stroke="#2f6ff0" stroke-width="0.5"/>
<text x="324.7" y="392.66"><tspan font-style="italic">sgVdac2</tspan> + <tspan font-style="italic">sgBak1</tspan></text>
<line x1="380.2" y1="364.5" x2="380.2" y2="375.4" stroke="#231f20" stroke-width="0.6"/>
<text x="383.5" y="373.65" font-size="8.2" text-anchor="middle" transform="rotate(90 383.5 369.8)">***</text>
<line x1="385.3" y1="375.4" x2="385.3" y2="390.8" stroke="#231f20" stroke-width="0.6"/>
<text x="388.5" y="386.95" font-size="8.2" text-anchor="middle" transform="rotate(90 388.5 383.1)">***</text>
<line x1="394.3" y1="365.2" x2="394.3" y2="390.8" stroke="#231f20" stroke-width="0.6"/>
<text x="397.6" y="381.45">NS</text>
<text x="432.6" y="344.8" font-size="11.2" font-weight="bold" fill="#000" stroke="#000" stroke-width="0.35">j</text>
<defs><filter id="lb" x="-20%" y="-20%" width="140%" height="140%"><feGaussianBlur stdDeviation="0.45"/></filter></defs>
<rect x="491.8" y="345" width="44.4" height="75" fill="#f7dfc9"/>
<text x="488.2" y="356.35" text-anchor="end">sgNTC + sgNTC</text>
<text x="488.2" y="375.05" text-anchor="end"><tspan font-style="italic">sgVdac2</tspan> + sgNTC</text>
<text x="488.2" y="393.75" text-anchor="end">sgNTC + <tspan font-style="italic">sgBak1</tspan></text>
<text x="488.2" y="412.05" text-anchor="end"><tspan font-style="italic">sgVdac2</tspan> + <tspan font-style="italic">sgBak1</tspan></text>
<clipPath id="lc1"><path d="M500.55 346.66 C499 345.94 496.29 347.39 494.74 351.01 C493.19 354.28 492.41 359.71 495.9 360.8 C498.23 361.16 499.62 359.71 500.55 354.64 C501.48 359.71 502.88 361.16 505.2 360.8 C508.69 359.71 507.91 354.28 506.36 351.01 C504.81 347.39 502.1 345.94 500.55 346.66 Z"/></clipPath>
<g filter="url(#lb)"><path d="M500.55 346.66 C499 345.94 496.29 347.39 494.74 351.01 C493.19 354.28 492.41 359.71 495.9 360.8 C498.23 361.16 499.62 359.71 500.55 354.64 C501.48 359.71 502.88 361.16 505.2 360.8 C508.69 359.71 507.91 354.28 506.36 351.01 C504.81 347.39 502.1 345.94 500.55 346.66 Z" fill="#a44a36"/><g clip-path="url(#lc1)">
<ellipse cx="496.02" cy="357.58" rx="1.72" ry="0.96" fill="#6e2418" opacity="0.8"/>
<ellipse cx="500.49" cy="352.96" rx="1.58" ry="1.49" fill="#6e2418" opacity="0.8"/>
<ellipse cx="495.51" cy="348.08" rx="1.8" ry="1.13" fill="#6e2418" opacity="0.8"/>
<ellipse cx="503.8" cy="347.77" rx="1.33" ry="1.42" fill="#6e2418" opacity="0.8"/>
<ellipse cx="497.19" cy="358.72" rx="1.88" ry="0.73" fill="#6e2418" opacity="0.8"/>
<ellipse cx="494.67" cy="354.03" rx="1.93" ry="1.08" fill="#6e2418" opacity="0.8"/>
<ellipse cx="497.04" cy="352.65" rx="0.83" ry="0.92" fill="#6e2418" opacity="0.8"/>
<ellipse cx="499.78" cy="353.5" rx="1.08" ry="0.93" fill="#6e2418" opacity="0.8"/>
<ellipse cx="497.06" cy="353.08" rx="1.15" ry="0.72" fill="#6e2418" opacity="0.8"/>
<ellipse cx="504.74" cy="354.2" rx="1.57" ry="0.89" fill="#6e2418" opacity="0.8"/>
<ellipse cx="506.66" cy="357.73" rx="0.95" ry="1.03" fill="#e8c4ac" opacity="0.8"/>
<ellipse cx="503.3" cy="356" rx="1.92" ry="1.12" fill="#e8c4ac" opacity="0.8"/>
<ellipse cx="504.64" cy="355.53" rx="1.16" ry="1.29" fill="#e8c4ac" opacity="0.8"/>
<ellipse cx="505.29" cy="357.57" rx="1.41" ry="1.29" fill="#e8c4ac" opacity="0.8"/>
<ellipse cx="494.78" cy="350.57" rx="1.76" ry="1.11" fill="#e8c4ac" opacity="0.8"/>
<ellipse cx="496.5" cy="354.12" rx="1.64" ry="1.37" fill="#e8c4ac" opacity="0.8"/>
</g></g>
<clipPath id="lc2"><path d="M524 347.06 C522.64 346.33 520.26 347.8 518.9 351.44 C517.54 354.73 516.86 360.2 519.92 361.3 C521.96 361.67 523.18 360.2 524 355.1 C524.82 360.2 526.04 361.67 528.08 361.3 C531.14 360.2 530.46 354.73 529.1 351.44 C527.74 347.8 525.36 346.33 524 347.06 Z"/></clipPath>
<g filter="url(#lb)"><path d="M524 347.06 C522.64 346.33 520.26 347.8 518.9 351.44 C517.54 354.73 516.86 360.2 519.92 361.3 C521.96 361.67 523.18 360.2 524 355.1 C524.82 360.2 526.04 361.67 528.08 361.3 C531.14 360.2 530.46 354.73 529.1 351.44 C527.74 347.8 525.36 346.33 524 347.06 Z" fill="#c08a70"/><g clip-path="url(#lc2)">
<ellipse cx="528.96" cy="359.23" rx="0.87" ry="0.78" fill="#7a3020" opacity="0.8"/>
<ellipse cx="527.65" cy="356.76" rx="1.6" ry="1.01" fill="#7a3020" opacity="0.8"/>
<ellipse cx="525.15" cy="355.25" rx="1.5" ry="0.86" fill="#7a3020" opacity="0.8"/>
<ellipse cx="523.25" cy="352.76" rx="1.67" ry="1.69" fill="#7a3020" opacity="0.8"/>
<ellipse cx="528.89" cy="354.52" rx="1.33" ry="0.97" fill="#7a3020" opacity="0.8"/>
<ellipse cx="518.95" cy="348.48" rx="1.36" ry="1.02" fill="#7a3020" opacity="0.8"/>
<ellipse cx="522.69" cy="358.58" rx="1.43" ry="1.26" fill="#7a3020" opacity="0.8"/>
<ellipse cx="521.13" cy="348.44" rx="1.19" ry="0.84" fill="#7a3020" opacity="0.8"/>
<ellipse cx="524.11" cy="359.82" rx="1.61" ry="0.88" fill="#7a3020" opacity="0.8"/>
<ellipse cx="528.28" cy="357.47" rx="1.68" ry="1.61" fill="#7a3020" opacity="0.8"/>
<ellipse cx="526.86" cy="357.38" rx="1.22" ry="1.68" fill="#f4dcc4" opacity="0.8"/>
<ellipse cx="529.03" cy="350.04" rx="1.7" ry="1.42" fill="#f4dcc4" opacity="0.8"/>
<ellipse cx="523.58" cy="354.35" rx="1.39" ry="1.62" fill="#f4dcc4" opacity="0.8"/>
<ellipse cx="524.01" cy="357.87" rx="1.22" ry="1.58" fill="#f4dcc4" opacity="0.8"/>
<ellipse cx="528.35" cy="353.54" rx="1.48" ry="1.62" fill="#f4dcc4" opacity="0.8"/>
<ellipse cx="526.43" cy="353.84" rx="1.07" ry="1.02" fill="#f4dcc4" opacity="0.8"/>
</g></g>
<clipPath id="lc3"><path d="M500.55 363.44 C499 362.76 496.29 364.12 494.74 367.52 C493.19 370.58 492.41 375.68 495.9 376.7 C498.23 377.04 499.62 375.68 500.55 370.92 C501.48 375.68 502.88 377.04 505.2 376.7 C508.69 375.68 507.91 370.58 506.36 367.52 C504.81 364.12 502.1 362.76 500.55 363.44 Z"/></clipPath>
<g filter="url(#lb)"><path d="M500.55 363.44 C499 362.76 496.29 364.12 494.74 367.52 C493.19 370.58 492.41 375.68 495.9 376.7 C498.23 377.04 499.62 375.68 500.55 370.92 C501.48 375.68 502.88 377.04 505.2 376.7 C508.69 375.68 507.91 370.58 506.36 367.52 C504.81 364.12 502.1 362.76 500.55 363.44 Z" fill="#dc5a44"/><g clip-path="url(#lc3)">
<ellipse cx="497.3" cy="370.38" rx="1.24" ry="1.3" fill="#c83a28" opacity="0.8"/>
<ellipse cx="502.11" cy="365.17" rx="0.82" ry="1.54" fill="#c83a28" opacity="0.8"/>
<ellipse cx="497.57" cy="367.01" rx="1.99" ry="1.17" fill="#c83a28" opacity="0.8"/>
<ellipse cx="504.72" cy="369.64" rx="1.57" ry="0.85" fill="#c83a28" opacity="0.8"/>
<ellipse cx="502.22" cy="373.9" rx="1.43" ry="1.44" fill="#c83a28" opacity="0.8"/>
<ellipse cx="502.68" cy="365.16" rx="1.71" ry="1.29" fill="#c83a28" opacity="0.8"/>
<ellipse cx="498.09" cy="364.8" rx="1.84" ry="1.17" fill="#c83a28" opacity="0.8"/>
<ellipse cx="503.26" cy="374.02" rx="1.66" ry="1.62" fill="#c83a28" opacity="0.8"/>
<ellipse cx="499.25" cy="373.17" rx="1.33" ry="1.64" fill="#c83a28" opacity="0.8"/>
<ellipse cx="505.25" cy="365.52" rx="0.96" ry="0.92" fill="#c83a28" opacity="0.8"/>
<ellipse cx="506.32" cy="369.21" rx="1.55" ry="1" fill="#f2b4a0" opacity="0.8"/>
<ellipse cx="500.64" cy="368.66" rx="1.22" ry="1.29" fill="#f2b4a0" opacity="0.8"/>
<ellipse cx="501.59" cy="374.3" rx="1.62" ry="1.63" fill="#f2b4a0" opacity="0.8"/>
<ellipse cx="504.97" cy="375.24" rx="1.61" ry="0.86" fill="#f2b4a0" opacity="0.8"/>
<ellipse cx="505.02" cy="374.96" rx="1.89" ry="1.27" fill="#f2b4a0" opacity="0.8"/>
<ellipse cx="503.2" cy="366.76" rx="1.8" ry="1.27" fill="#f2b4a0" opacity="0.8"/>
</g></g>
<clipPath id="lc4"><path d="M523.85 365.29 C522.42 364.71 519.92 365.88 518.49 368.8 C517.06 371.44 516.34 375.82 519.56 376.7 C521.71 376.99 522.99 375.82 523.85 371.73 C524.71 375.82 526 376.99 528.14 376.7 C531.36 375.82 530.64 371.44 529.21 368.8 C527.78 365.88 525.28 364.71 523.85 365.29 Z"/></clipPath>
<g filter="url(#lb)"><path d="M523.85 365.29 C522.42 364.71 519.92 365.88 518.49 368.8 C517.06 371.44 516.34 375.82 519.56 376.7 C521.71 376.99 522.99 375.82 523.85 371.73 C524.71 375.82 526 376.99 528.14 376.7 C531.36 375.82 530.64 371.44 529.21 368.8 C527.78 365.88 525.28 364.71 523.85 365.29 Z" fill="#dc5844"/><g clip-path="url(#lc4)">
<ellipse cx="520.83" cy="367.14" rx="1.28" ry="0.85" fill="#c43826" opacity="0.8"/>
<ellipse cx="518.89" cy="369.93" rx="1.9" ry="1.5" fill="#c43826" opacity="0.8"/>
<ellipse cx="526.88" cy="368.25" rx="1.44" ry="0.98" fill="#c43826" opacity="0.8"/>
<ellipse cx="520.11" cy="367.16" rx="1.06" ry="1.63" fill="#c43826" opacity="0.8"/>
<ellipse cx="527.61" cy="373.72" rx="1.76" ry="0.89" fill="#c43826" opacity="0.8"/>
<ellipse cx="521.67" cy="372.04" rx="1.68" ry="1.55" fill="#c43826" opacity="0.8"/>
<ellipse cx="528.2" cy="366.98" rx="1.53" ry="1.37" fill="#c43826" opacity="0.8"/>
<ellipse cx="523.92" cy="367.83" rx="1.37" ry="0.79" fill="#c43826" opacity="0.8"/>
<ellipse cx="528.82" cy="374.27" rx="1.46" ry="1" fill="#c43826" opacity="0.8"/>
<ellipse cx="528.53" cy="371.53" rx="1.86" ry="1.55" fill="#c43826" opacity="0.8"/>
<ellipse cx="523.95" cy="370.04" rx="1.52" ry="1.13" fill="#f0b09c" opacity="0.8"/>
<ellipse cx="519.98" cy="369.03" rx="1.78" ry="0.74" fill="#f0b09c" opacity="0.8"/>
<ellipse cx="518.66" cy="372.03" rx="1.14" ry="1.23" fill="#f0b09c" opacity="0.8"/>
<ellipse cx="523.52" cy="369.38" rx="2" ry="0.9" fill="#f0b09c" opacity="0.8"/>
<ellipse cx="522.85" cy="368.07" rx="1.56" ry="0.98" fill="#f0b09c" opacity="0.8"/>
<ellipse cx="522.2" cy="373.16" rx="1.18" ry="1.26" fill="#f0b09c" opacity="0.8"/>
</g></g>
<clipPath id="lc5"><path d="M501.7 382.85 C500.2 382.15 497.57 383.55 496.07 387.05 C494.57 390.2 493.82 395.45 497.2 396.5 C499.45 396.85 500.8 395.45 501.7 390.55 C502.6 395.45 503.95 396.85 506.2 396.5 C509.57 395.45 508.82 390.2 507.32 387.05 C505.82 383.55 503.2 382.15 501.7 382.85 Z"/></clipPath>
<g filter="url(#lb)"><path d="M501.7 382.85 C500.2 382.15 497.57 383.55 496.07 387.05 C494.57 390.2 493.82 395.45 497.2 396.5 C499.45 396.85 500.8 395.45 501.7 390.55 C502.6 395.45 503.95 396.85 506.2 396.5 C509.57 395.45 508.82 390.2 507.32 387.05 C505.82 383.55 503.2 382.15 501.7 382.85 Z" fill="#6e3a2c"/><g clip-path="url(#lc5)">
<ellipse cx="503.17" cy="392.21" rx="1.75" ry="1.64" fill="#3e1c14" opacity="0.8"/>
<ellipse cx="504.58" cy="394.23" rx="0.83" ry="1.17" fill="#3e1c14" opacity="0.8"/>
<ellipse cx="507.02" cy="391.17" rx="1.88" ry="0.81" fill="#3e1c14" opacity="0.8"/>
<ellipse cx="501.33" cy="386.66" rx="1.45" ry="1.27" fill="#3e1c14" opacity="0.8"/>
<ellipse cx="495.86" cy="386.33" rx="1.14" ry="1.62" fill="#3e1c14" opacity="0.8"/>
<ellipse cx="504.89" cy="385.69" rx="1.76" ry="0.84" fill="#3e1c14" opacity="0.8"/>
<ellipse cx="503.11" cy="385.32" rx="0.8" ry="1.57" fill="#3e1c14" opacity="0.8"/>
<ellipse cx="498.21" cy="386.31" rx="1.98" ry="1.57" fill="#3e1c14" opacity="0.8"/>
<ellipse cx="499.17" cy="394.67" rx="1.45" ry="1.38" fill="#3e1c14" opacity="0.8"/>
<ellipse cx="498.16" cy="394.44" rx="1.63" ry="1.67" fill="#3e1c14" opacity="0.8"/>
<ellipse cx="506.42" cy="387.25" rx="1.23" ry="0.87" fill="#c8a898" opacity="0.8"/>
<ellipse cx="497.45" cy="384.63" rx="1.16" ry="1.3" fill="#c8a898" opacity="0.8"/>
<ellipse cx="495.74" cy="391.49" rx="1.21" ry="1.01" fill="#c8a898" opacity="0.8"/>
<ellipse cx="505.52" cy="389.28" rx="1.18" ry="1.18" fill="#c8a898" opacity="0.8"/>
<ellipse cx="504.16" cy="384.54" rx="1.97" ry="0.72" fill="#c8a898" opacity="0.8"/>
<ellipse cx="504.7" cy="393.36" rx="0.82" ry="1.49" fill="#c8a898" opacity="0.8"/>
</g></g>
<clipPath id="lc6"><path d="M525.5 385.58 C523.98 385.02 521.32 386.14 519.8 388.94 C518.28 391.46 517.52 395.66 520.94 396.5 C523.22 396.78 524.59 395.66 525.5 391.74 C526.41 395.66 527.78 396.78 530.06 396.5 C533.48 395.66 532.72 391.46 531.2 388.94 C529.68 386.14 527.02 385.02 525.5 385.58 Z"/></clipPath>
<g filter="url(#lb)"><path d="M525.5 385.58 C523.98 385.02 521.32 386.14 519.8 388.94 C518.28 391.46 517.52 395.66 520.94 396.5 C523.22 396.78 524.59 395.66 525.5 391.74 C526.41 395.66 527.78 396.78 530.06 396.5 C533.48 395.66 532.72 391.46 531.2 388.94 C529.68 386.14 527.02 385.02 525.5 385.58 Z" fill="#8a5a48"/><g clip-path="url(#lc6)">
<ellipse cx="529.07" cy="393.78" rx="1.38" ry="0.96" fill="#4a2218" opacity="0.8"/>
<ellipse cx="519.43" cy="392.36" rx="1.36" ry="1.46" fill="#4a2218" opacity="0.8"/>
<ellipse cx="523.96" cy="393.32" rx="1.13" ry="1.5" fill="#4a2218" opacity="0.8"/>
<ellipse cx="528.29" cy="390.13" rx="1.45" ry="1.38" fill="#4a2218" opacity="0.8"/>
<ellipse cx="521.77" cy="391.38" rx="1.77" ry="0.97" fill="#4a2218" opacity="0.8"/>
<ellipse cx="529.19" cy="392.56" rx="1.81" ry="1.04" fill="#4a2218" opacity="0.8"/>
<ellipse cx="520.55" cy="393.59" rx="1.77" ry="1.15" fill="#4a2218" opacity="0.8"/>
<ellipse cx="520.56" cy="388.19" rx="1.56" ry="0.99" fill="#4a2218" opacity="0.8"/>
<ellipse cx="530.99" cy="391.69" rx="1.04" ry="1.36" fill="#4a2218" opacity="0.8"/>
<ellipse cx="523.8" cy="394.78" rx="1.89" ry="1.21" fill="#4a2218" opacity="0.8"/>
<ellipse cx="527.26" cy="392.67" rx="1.77" ry="1.68" fill="#e8d0bc" opacity="0.8"/>
<ellipse cx="519.77" cy="389.66" rx="1.52" ry="1" fill="#e8d0bc" opacity="0.8"/>
<ellipse cx="526.58" cy="387.22" rx="1.86" ry="1.23" fill="#e8d0bc" opacity="0.8"/>
<ellipse cx="520.84" cy="392.36" rx="1.17" ry="0.9" fill="#e8d0bc" opacity="0.8"/>
<ellipse cx="525.3" cy="387.66" rx="1.05" ry="1.57" fill="#e8d0bc" opacity="0.8"/>
<ellipse cx="527.91" cy="386.53" rx="1.73" ry="0.72" fill="#e8d0bc" opacity="0.8"/>
</g></g>
<clipPath id="lc7"><path d="M503.35 403.93 C501.62 403.27 498.59 404.58 496.86 407.86 C495.13 410.8 494.27 415.72 498.16 416.7 C500.75 417.03 502.31 415.72 503.35 411.13 C504.39 415.72 505.95 417.03 508.54 416.7 C512.43 415.72 511.57 410.8 509.84 407.86 C508.11 404.58 505.08 403.27 503.35 403.93 Z"/></clipPath>
<g filter="url(#lb)"><path d="M503.35 403.93 C501.62 403.27 498.59 404.58 496.86 407.86 C495.13 410.8 494.27 415.72 498.16 416.7 C500.75 417.03 502.31 415.72 503.35 411.13 C504.39 415.72 505.95 417.03 508.54 416.7 C512.43 415.72 511.57 410.8 509.84 407.86 C508.11 404.58 505.08 403.27 503.35 403.93 Z" fill="#7a3424"/><g clip-path="url(#lc7)">
<ellipse cx="500.91" cy="406.49" rx="1.58" ry="0.77" fill="#4a1a10" opacity="0.8"/>
<ellipse cx="503.85" cy="408.74" rx="0.87" ry="1.21" fill="#4a1a10" opacity="0.8"/>
<ellipse cx="496.95" cy="409.45" rx="0.88" ry="0.79" fill="#4a1a10" opacity="0.8"/>
<ellipse cx="502.31" cy="413.58" rx="0.95" ry="0.92" fill="#4a1a10" opacity="0.8"/>
<ellipse cx="505.11" cy="414.84" rx="1.49" ry="1.1" fill="#4a1a10" opacity="0.8"/>
<ellipse cx="509.94" cy="405.4" rx="1.83" ry="0.99" fill="#4a1a10" opacity="0.8"/>
<ellipse cx="498.43" cy="406.14" rx="1.17" ry="1.52" fill="#4a1a10" opacity="0.8"/>
<ellipse cx="498.93" cy="411.01" rx="1.57" ry="1.07" fill="#4a1a10" opacity="0.8"/>
<ellipse cx="504.01" cy="405.57" rx="0.87" ry="0.91" fill="#4a1a10" opacity="0.8"/>
<ellipse cx="505.85" cy="409.39" rx="1.18" ry="1.29" fill="#4a1a10" opacity="0.8"/>
<ellipse cx="502.7" cy="408.05" rx="1.75" ry="1.4" fill="#c89080" opacity="0.8"/>
<ellipse cx="499.81" cy="410.93" rx="1.43" ry="1.58" fill="#c89080" opacity="0.8"/>
<ellipse cx="506.53" cy="407.93" rx="1.98" ry="0.82" fill="#c89080" opacity="0.8"/>
<ellipse cx="502.22" cy="412.84" rx="0.98" ry="1.19" fill="#c89080" opacity="0.8"/>
<ellipse cx="496.97" cy="411.91" rx="1.72" ry="1.27" fill="#c89080" opacity="0.8"/>
<ellipse cx="508.55" cy="408.2" rx="1.63" ry="1.29" fill="#c89080" opacity="0.8"/>
</g></g>
<clipPath id="lc8"><path d="M527.95 403.43 C526.36 402.77 523.58 404.08 521.99 407.36 C520.4 410.3 519.6 415.22 523.18 416.2 C525.57 416.53 527 415.22 527.95 410.63 C528.9 415.22 530.34 416.53 532.72 416.2 C536.3 415.22 535.5 410.3 533.91 407.36 C532.32 404.08 529.54 402.77 527.95 403.43 Z"/></clipPath>
<g filter="url(#lb)"><path d="M527.95 403.43 C526.36 402.77 523.58 404.08 521.99 407.36 C520.4 410.3 519.6 415.22 523.18 416.2 C525.57 416.53 527 415.22 527.95 410.63 C528.9 415.22 530.34 416.53 532.72 416.2 C536.3 415.22 535.5 410.3 533.91 407.36 C532.32 404.08 529.54 402.77 527.95 403.43 Z" fill="#c47858"/><g clip-path="url(#lc8)">
<ellipse cx="524.47" cy="414.49" rx="0.95" ry="1.4" fill="#8a4028" opacity="0.8"/>
<ellipse cx="522.67" cy="407" rx="2" ry="0.91" fill="#8a4028" opacity="0.8"/>
<ellipse cx="529.75" cy="409.22" rx="1.34" ry="1.19" fill="#8a4028" opacity="0.8"/>
<ellipse cx="524.04" cy="413.11" rx="0.91" ry="0.93" fill="#8a4028" opacity="0.8"/>
<ellipse cx="521.84" cy="407.21" rx="1.29" ry="1.6" fill="#8a4028" opacity="0.8"/>
<ellipse cx="526.41" cy="405.6" rx="1.11" ry="1.69" fill="#8a4028" opacity="0.8"/>
<ellipse cx="522.39" cy="410.91" rx="1.25" ry="1.36" fill="#8a4028" opacity="0.8"/>
<ellipse cx="525.89" cy="411.65" rx="1.4" ry="1.35" fill="#8a4028" opacity="0.8"/>
<ellipse cx="533.06" cy="410.5" rx="0.97" ry="0.76" fill="#8a4028" opacity="0.8"/>
<ellipse cx="533.62" cy="409.53" rx="1.03" ry="1.65" fill="#8a4028" opacity="0.8"/>
<ellipse cx="528.95" cy="412.05" rx="1.86" ry="0.99" fill="#eac0a4" opacity="0.8"/>
<ellipse cx="526.13" cy="413.61" rx="0.96" ry="1.46" fill="#eac0a4" opacity="0.8"/>
<ellipse cx="522.83" cy="411.64" rx="1.64" ry="1.65" fill="#eac0a4" opacity="0.8"/>
<ellipse cx="532.32" cy="409.69" rx="1.04" ry="0.85" fill="#eac0a4" opacity="0.8"/>
<ellipse cx="528.32" cy="409.75" rx="0.89" ry="1.6" fill="#eac0a4" opacity="0.8"/>
<ellipse cx="528.04" cy="411.76" rx="1.06" ry="0.94" fill="#eac0a4" opacity="0.8"/>
</g></g>
<line x1="524.2" y1="418.1" x2="534.5" y2="418.1" stroke="#000" stroke-width="1.5"/>
<path d="M574.1 405.3V383.54H580.7V405.3" stroke="#231f20" stroke-width="0.6" fill="#fff"/>
<path d="M583.7 405.3V401.9H590.3V405.3" stroke="#231f20" stroke-width="0.6" fill="#fff"/>
<path d="M593.3 405.3V385.58H599.9V405.3" stroke="#231f20" stroke-width="0.6" fill="#fff"/>
<path d="M603 405.3V384.22H609.6V405.3" stroke="#231f20" stroke-width="0.6" fill="#fff"/>
<circle cx="576.2" cy="382.86" r="0.95" fill="#333333"/>
<circle cx="577.4" cy="381.5" r="0.95" fill="#333333"/>
<circle cx="578.6" cy="384.22" r="0.95" fill="#333333"/>
<circle cx="578" cy="384.9" r="0.95" fill="#333333"/>
<circle cx="576.8" cy="383.54" r="0.95" fill="#333333"/>
<line x1="577.4" y1="385.58" x2="577.4" y2="381.5" stroke="#e0442a" stroke-width="0.6"/>
<line x1="576" y1="381.5" x2="578.8" y2="381.5" stroke="#e0442a" stroke-width="0.6"/>
<circle cx="585.6" cy="403.26" r="0.85" fill="none" stroke="#2bb39a" stroke-width="0.6"/>
<circle cx="587" cy="401.9" r="0.85" fill="none" stroke="#2bb39a" stroke-width="0.6"/>
<circle cx="588.4" cy="402.58" r="0.85" fill="none" stroke="#2bb39a" stroke-width="0.6"/>
<circle cx="586.3" cy="403.94" r="0.85" fill="none" stroke="#2bb39a" stroke-width="0.6"/>
<circle cx="587.7" cy="402.24" r="0.85" fill="none" stroke="#2bb39a" stroke-width="0.6"/>
<circle cx="587.2" cy="403.26" r="0.85" fill="none" stroke="#2bb39a" stroke-width="0.6"/>
<line x1="587" y1="402.58" x2="587" y2="401.22" stroke="#e0442a" stroke-width="0.6"/>
<line x1="585.6" y1="401.22" x2="588.4" y2="401.22" stroke="#e0442a" stroke-width="0.6"/>
<circle cx="596.6" cy="371.98" r="0.85" fill="none" stroke="#f08a24" stroke-width="0.6"/>
<circle cx="596.6" cy="376.74" r="0.85" fill="none" stroke="#f08a24" stroke-width="0.6"/>
<circle cx="596.6" cy="385.58" r="0.85" fill="none" stroke="#f08a24" stroke-width="0.6"/>
<circle cx="596.6" cy="393.06" r="0.85" fill="none" stroke="#f08a24" stroke-width="0.6"/>
<circle cx="596.6" cy="396.46" r="0.85" fill="none" stroke="#f08a24" stroke-width="0.6"/>
<circle cx="596.9" cy="388.98" r="0.85" fill="none" stroke="#f08a24" stroke-width="0.6"/>
<line x1="596.6" y1="387.62" x2="596.6" y2="383.54" stroke="#e0442a" stroke-width="0.6"/>
<line x1="595.2" y1="383.54" x2="598" y2="383.54" stroke="#e0442a" stroke-width="0.6"/>
<circle cx="606" cy="370.62" r="0.95" fill="#2f6ff0"/>
<circle cx="606.9" cy="383.54" r="0.95" fill="#2f6ff0"/>
<circle cx="605.5" cy="391.02" r="0.95" fill="#2f6ff0"/>
<circle cx="607.7" cy="387.62" r="0.95" fill="#2f6ff0"/>
<circle cx="606.5" cy="384.9" r="0.95" fill="#2f6ff0"/>
<line x1="606.3" y1="386.26" x2="606.3" y2="382.18" stroke="#e0442a" stroke-width="0.6"/>
<line x1="604.9" y1="382.18" x2="607.7" y2="382.18" stroke="#e0442a" stroke-width="0.6"/>
<line x1="571.8" y1="405.3" x2="612" y2="405.3" stroke="#231f20" stroke-width="0.6"/>
<line x1="571.8" y1="364.2" x2="571.8" y2="405.6" stroke="#231f20" stroke-width="0.6"/>
<line x1="570" y1="405.3" x2="571.8" y2="405.3" stroke="#231f20" stroke-width="0.6"/>
<text x="566.6" y="407.65" text-anchor="end">0</text>
<line x1="570" y1="391.7" x2="571.8" y2="391.7" stroke="#231f20" stroke-width="0.6"/>
<text x="566.6" y="394.05" text-anchor="end">20</text>
<line x1="570" y1="378.1" x2="571.8" y2="378.1" stroke="#231f20" stroke-width="0.6"/>
<text x="566.6" y="380.45" text-anchor="end">40</text>
<line x1="570" y1="364.5" x2="571.8" y2="364.5" stroke="#231f20" stroke-width="0.6"/>
<text x="566.6" y="366.85" text-anchor="end">60</text>
<line x1="576" y1="362" x2="597.6" y2="362" stroke="#231f20" stroke-width="0.6"/>
<text x="586.8" y="360.45" text-anchor="middle">NS</text>
<line x1="586.1" y1="367.6" x2="607.3" y2="367.6" stroke="#231f20" stroke-width="0.6"/>
<text x="596.7" y="369.15" font-size="8.2" text-anchor="middle">**</text>
<line x1="576.4" y1="375.7" x2="589.7" y2="375.7" stroke="#231f20" stroke-width="0.6"/>
<text x="583.05" y="377.25" font-size="8.2" text-anchor="middle">**</text>
<text x="591.5" y="413.75" text-anchor="middle">Day 21</text>
<text x="551.7" y="387.55" text-anchor="middle" transform="rotate(-90 551.7 385.2)">Number of tumours</text>
<circle cx="618.3" cy="370" r="1.45" fill="#333333"/>
<text x="623.6" y="372.35">sgNTC + sgNTC</text>
<circle cx="618.3" cy="378.23" r="1.25" fill="none" stroke="#2bb39a" stroke-width="0.8"/>
<text x="623.6" y="380.58">sg<tspan font-style="italic">Vdac2</tspan> + sgNTC</text>
<circle cx="618.3" cy="386.46" r="1.25" fill="none" stroke="#f08a24" stroke-width="0.8"/>
<text x="623.6" y="388.81">sgNTC + sg<tspan font-style="italic">Bak1</tspan></text>
<circle cx="618.3" cy="394.69" r="1.45" fill="#2f6ff0"/>
<text x="623.6" y="397.04">sg<tspan font-style="italic">Vdac2</tspan> + sg<tspan font-style="italic">Bak1</tspan></text>
</svg></body></html>
